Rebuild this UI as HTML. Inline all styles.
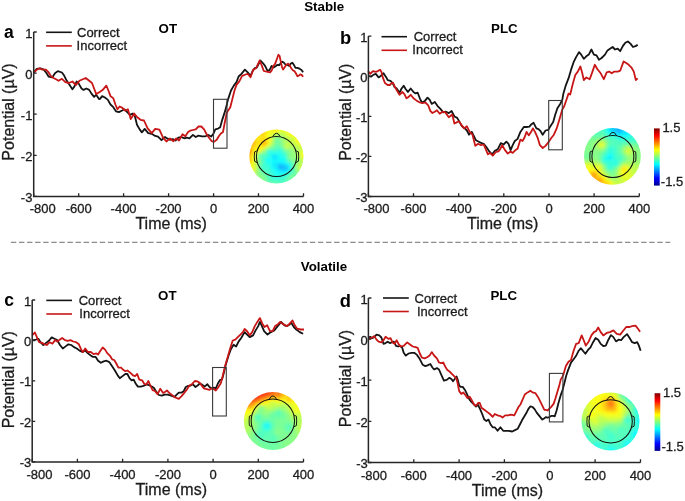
<!DOCTYPE html>
<html><head><meta charset="utf-8"><style>
html,body{margin:0;padding:0;background:#fff;width:685px;height:501px;overflow:hidden}
</style></head><body>
<svg width="685" height="501" viewBox="0 0 685 501" style="display:block;will-change:transform">
<style>.t{fill:#1c1c1c;stroke:#1c1c1c;stroke-width:0.3px}.tb{fill:#000}</style>
<rect width="685" height="501" fill="#fff"/>
<defs>
<filter id="tb" x="-10%" y="-10%" width="120%" height="120%"><feGaussianBlur stdDeviation="1.6"/></filter>
<linearGradient id="jet" x1="0" y1="1" x2="0" y2="0">
<stop offset="0" stop-color="#00008f"/><stop offset="0.125" stop-color="#0000ff"/><stop offset="0.375" stop-color="#00ffff"/>
<stop offset="0.625" stop-color="#ffff00"/><stop offset="0.875" stop-color="#ff0000"/><stop offset="1" stop-color="#800000"/>
</linearGradient>
</defs>
<g font-family='"Liberation Sans", sans-serif' font-weight="bold" font-size="13.3" fill="#000" text-anchor="middle">
<text x="324.2" y="11.4">Stable</text>
<text x="324.0" y="271.2">Volatile</text>
<text x="167.8" y="33.0">OT</text>
<text x="504.4" y="33.2">PLC</text>
<text x="167.3" y="299.8">OT</text>
<text x="503.7" y="299.8">PLC</text>
</g>
<g font-family='"Liberation Sans", sans-serif' font-weight="bold" font-size="17.5" fill="#000">
<text x="4.0" y="38.0" font-size="17.5">a</text>
<text x="339.9" y="44.3" font-size="18.3">b</text>
<text x="4.2" y="305.9" font-size="17.5">c</text>
<text x="339.8" y="306.6" font-size="18.3">d</text>
</g>
<line x1="10.9" y1="242.4" x2="670.2" y2="242.4" stroke="#8c8c8c" stroke-width="1.3" stroke-dasharray="5.4 2.68"/>
<polyline points="34.0,71.8 36.8,69.0 40.3,68.3 43.8,69.7 46.6,73.2 48.7,76.7 52.2,77.4 55.0,73.2 57.8,71.1 61.9,72.5 64.0,75.3 66.8,80.8 69.6,85.0 72.4,89.2 74.5,86.4 76.6,81.5 78.7,83.6 81.5,88.5 83.6,89.9 86.4,88.5 89.2,89.9 91.3,93.4 94.1,96.9 96.2,94.8 99.0,99.0 100.0,98.9 102.1,96.1 104.9,97.5 107.7,99.6 110.5,104.5 113.3,107.2 116.1,111.4 118.9,112.1 121.7,110.7 124.5,109.3 127.2,112.1 130.0,114.9 132.8,113.5 134.9,116.3 137.0,124.7 139.8,129.6 141.9,132.4 144.7,128.9 148.2,133.1 151.7,133.8 155.2,135.9 158.0,136.6 161.5,140.1 164.3,137.3 165.0,137.0 167.1,138.4 169.9,139.8 172.7,139.1 175.5,140.5 178.3,137.7 181.1,137.0 184.6,138.4 186.7,137.7 189.5,138.4 192.9,134.9 195.7,137.0 198.5,135.6 202.0,136.3 205.5,136.3 208.3,134.9 211.1,136.6 213.2,134.2 215.3,129.3 218.1,128.6 220.2,127.2 222.3,119.6 225.4,110.1 228.2,98.9 231.0,90.5 233.8,85.6 236.5,82.1 238.6,76.5 241.4,73.8 244.9,69.6 247.7,72.4 250.5,75.8 252.6,71.0 254.7,68.2 256.8,67.5 260.3,60.5 263.1,63.3 265.2,66.1 267.3,70.3 269.4,70.3 271.6,65.9 273.6,67.5 275.6,66.3 277.2,64.8 279.2,65.1 280.8,63.2 282.4,61.6 284.0,62.8 285.6,64.8 287.2,64.8 289.2,65.9 290.8,63.6 292.4,62.8 294.0,65.1 295.5,67.9 297.5,67.9 299.5,68.7 301.5,69.9 303.1,72.3" fill="none" stroke="#141414" stroke-width="1.8" stroke-linejoin="round"/>
<polyline points="34.0,72.5 36.8,69.7 39.6,68.3 42.4,69.7 45.9,69.7 48.7,72.5 50.8,76.0 53.6,78.0 56.4,79.5 58.5,80.8 61.9,78.8 65.4,82.2 68.9,83.0 72.4,81.5 75.9,85.0 79.4,80.8 82.2,79.5 85.7,78.0 89.2,80.8 92.0,83.0 94.1,88.5 96.2,94.1 99.7,92.0 102.8,89.8 106.3,85.6 108.4,90.5 110.5,96.1 113.3,98.2 115.4,104.5 117.5,109.3 119.6,106.5 122.4,107.9 125.1,110.7 127.9,109.3 130.7,119.1 134.2,113.5 137.0,117.0 140.5,119.8 144.0,120.5 147.5,128.2 151.7,133.1 155.2,128.9 159.4,129.6 162.9,137.3 166.4,141.5 169.9,138.4 173.4,141.2 176.2,138.4 179.0,140.5 182.5,134.2 185.3,136.3 188.1,132.1 190.2,130.7 192.9,130.0 195.7,129.3 198.5,126.5 201.3,126.5 204.1,129.3 206.2,133.5 209.0,137.7 211.8,141.2 213.9,141.9 216.7,139.8 218.8,136.3 220.9,133.5 223.0,132.1 224.4,124.5 226.5,114.0 227.5,111.5 230.3,107.3 232.4,98.9 234.5,90.5 236.5,84.9 239.3,81.4 242.1,75.8 245.6,74.5 247.7,73.8 250.5,77.2 253.3,69.6 256.1,68.2 259.6,60.5 261.7,65.4 263.8,71.0 266.6,71.7 270.1,72.4 271.6,70.7 273.2,66.3 275.2,63.6 276.8,59.2 278.4,54.8 279.6,56.0 280.8,61.6 282.0,67.1 283.2,69.5 284.8,67.1 286.4,64.8 288.0,63.6 289.6,65.1 291.2,68.3 292.8,70.3 294.4,71.1 296.0,73.5 297.5,76.3 299.1,75.5 300.3,74.3 301.9,75.1 303.1,76.7" fill="none" stroke="#c81616" stroke-width="1.8" stroke-linejoin="round"/>
<rect x="213.5" y="99.3" width="13.5" height="48.9" fill="none" stroke="#3a3a3a" stroke-width="1.1"/>
<path d="M33.7,32.0 V196.4 H303.5" fill="none" stroke="#262626" stroke-width="1.5"/>
<path d="M33.7,32.0h3 M33.7,73.1h3 M33.7,114.2h3 M33.7,155.3h3 M33.7,196.4h3 M33.7,196.4v-3.2 M78.7,196.4v-3.2 M123.6,196.4v-3.2 M168.6,196.4v-3.2 M213.6,196.4v-3.2 M258.5,196.4v-3.2 M303.5,196.4v-3.2" stroke="#262626" stroke-width="1.3"/>
<g font-family='"Liberation Sans", sans-serif' font-size="13" class="t" text-anchor="end">
<text x="32.4" y="37.5">1</text>
<text x="32.4" y="78.6">0</text>
<text x="32.4" y="119.7">-1</text>
<text x="32.4" y="160.8">-2</text>
<text x="32.4" y="201.9">-3</text>
</g>
<g font-family='"Liberation Sans", sans-serif' font-size="13" class="t" text-anchor="middle">
<text x="42.8" y="213.1">-800</text>
<text x="78.7" y="213.1">-600</text>
<text x="123.6" y="213.1">-400</text>
<text x="168.6" y="213.1">-200</text>
<text x="213.6" y="213.1">0</text>
<text x="258.5" y="213.1">200</text>
<text x="303.5" y="213.1">400</text>
</g>
<text x="171.1" y="229.0" font-family='"Liberation Sans", sans-serif' font-size="16" class="t" text-anchor="middle">Time (ms)</text>
<text transform="translate(14.2,112.0) rotate(-90)" font-family='"Liberation Sans", sans-serif' font-size="16" class="t" text-anchor="middle">Potential (µV)</text>
<line x1="46.1" y1="32.3" x2="71.8" y2="32.3" stroke="#141414" stroke-width="1.6"/>
<line x1="46.1" y1="45.9" x2="71.8" y2="45.9" stroke="#c81616" stroke-width="1.6"/>
<g font-family='"Liberation Sans", sans-serif' font-size="13" class="t">
<text x="77.0" y="37.0">Correct</text>
<text x="76.6" y="49.8">Incorrect</text>
</g>
<polyline points="368.1,76.0 370.9,76.7 373.7,74.6 375.8,73.9 378.6,77.4 380.7,76.0 383.5,73.2 386.3,77.4 387.7,80.2 390.5,80.8 392.5,82.9 394.6,87.1 396.7,88.5 399.5,92.7 401.6,88.5 403.7,85.7 405.8,89.2 407.9,92.0 410.7,88.5 413.5,92.0 415.6,93.4 417.7,92.7 419.8,98.3 421.9,102.5 424.7,101.1 427.5,97.6 429.6,99.7 431.7,103.9 434.8,101.9 437.6,106.1 440.4,108.9 443.2,112.4 446.0,111.7 448.8,113.1 451.6,111.0 454.4,116.5 457.2,117.9 459.2,121.4 462.0,126.3 464.8,128.4 466.9,130.5 469.0,134.7 471.8,131.9 473.9,136.1 476.0,140.3 478.8,141.7 481.6,143.1 483.7,143.8 486.5,147.3 489.3,151.5 492.1,154.3 494.9,150.8 497.7,149.4 500.8,143.1 503.6,144.5 506.4,141.7 508.5,143.8 510.6,150.1 512.7,145.2 514.8,141.0 517.6,138.9 520.4,131.9 523.8,127.0 526.6,127.0 529.4,126.6 531.5,124.2 533.6,122.8 536.4,128.4 538.5,129.1 540.6,131.2 542.7,134.7 545.5,130.5 548.3,129.8 550.4,126.3 553.2,122.1 555.3,114.5 557.4,108.2 560.2,104.0 562.3,99.8 563.4,93.6 565.9,85.1 568.5,78.4 571.0,69.9 573.6,62.2 576.1,57.1 579.0,52.1 581.2,54.6 583.8,58.8 586.3,56.3 588.8,54.6 591.4,49.5 593.9,54.6 596.5,55.4 599.0,59.7 601.6,58.0 605.0,54.6 607.5,50.4 610.0,48.7 612.6,47.0 615.1,49.5 617.7,48.7 620.2,51.2 622.8,46.1 625.3,42.7 627.9,41.5 630.4,43.6 633.0,47.0 635.5,46.1 637.7,44.9" fill="none" stroke="#141414" stroke-width="1.8" stroke-linejoin="round"/>
<polyline points="368.1,71.1 370.2,73.9 373.0,71.1 375.8,71.8 377.9,71.1 380.0,69.7 381.4,71.8 382.8,77.4 384.9,83.0 387.7,85.0 389.8,85.0 391.8,83.0 393.2,83.0 395.3,87.8 397.4,91.3 399.5,94.8 402.3,92.0 404.4,94.1 406.5,98.3 408.6,96.9 410.7,94.8 413.5,98.3 416.3,100.4 419.8,102.5 422.6,103.2 425.4,102.5 428.2,105.3 430.3,110.9 432.4,113.0 434.8,111.7 436.9,110.3 439.7,113.8 442.5,111.7 445.3,112.4 448.8,117.2 452.3,114.5 454.4,123.5 457.2,122.1 459.2,121.4 461.3,124.9 464.1,128.4 466.9,126.3 469.7,131.9 472.5,134.7 475.3,145.9 478.1,143.8 480.9,145.2 483.7,144.5 485.8,149.4 487.9,154.3 490.0,152.9 492.8,155.7 495.6,152.2 498.4,151.5 500.1,149.4 502.2,145.2 505.0,150.1 507.8,153.6 510.6,151.5 512.7,152.9 515.5,150.1 517.6,148.7 520.4,139.6 522.5,141.0 524.5,137.5 526.6,131.9 528.7,135.4 531.5,131.2 532.9,128.4 535.0,131.9 537.8,138.2 539.9,145.2 542.7,148.0 545.5,145.9 548.3,142.4 551.1,138.2 553.9,134.7 556.7,128.4 559.5,119.3 562.3,109.6 564.2,106.3 566.8,98.7 568.5,93.6 570.2,94.5 572.7,84.3 575.3,75.0 577.8,71.6 580.4,66.5 582.1,72.4 583.8,80.0 586.3,77.5 589.7,79.2 592.2,72.4 594.8,64.8 597.3,69.0 600.7,73.3 603.8,79.2 606.7,72.4 609.2,71.6 611.7,73.3 614.3,71.6 617.7,71.6 620.2,70.7 623.6,61.4 626.2,63.1 628.7,64.8 631.3,67.3 633.8,71.6 635.8,80.0 637.7,78.4" fill="none" stroke="#c81616" stroke-width="1.8" stroke-linejoin="round"/>
<rect x="548.7" y="100.5" width="13.6" height="49.3" fill="none" stroke="#3a3a3a" stroke-width="1.1"/>
<path d="M368.4,36.1 V196.5 H639.3" fill="none" stroke="#262626" stroke-width="1.5"/>
<path d="M368.4,36.1h3 M368.4,76.2h3 M368.4,116.3h3 M368.4,156.4h3 M368.4,196.5h3 M368.4,196.5v-3.2 M413.5,196.5v-3.2 M458.7,196.5v-3.2 M503.8,196.5v-3.2 M549.0,196.5v-3.2 M594.1,196.5v-3.2 M639.3,196.5v-3.2" stroke="#262626" stroke-width="1.3"/>
<g font-family='"Liberation Sans", sans-serif' font-size="13" class="t" text-anchor="end">
<text x="367.5" y="41.6">1</text>
<text x="367.5" y="81.7">0</text>
<text x="367.5" y="121.8">-1</text>
<text x="367.5" y="161.9">-2</text>
<text x="367.5" y="202.0">-3</text>
</g>
<g font-family='"Liberation Sans", sans-serif' font-size="13" class="t" text-anchor="middle">
<text x="376.5" y="213.4">-800</text>
<text x="413.5" y="213.4">-600</text>
<text x="458.7" y="213.4">-400</text>
<text x="503.8" y="213.4">-200</text>
<text x="549.0" y="213.4">0</text>
<text x="594.1" y="213.4">200</text>
<text x="639.3" y="213.4">400</text>
</g>
<text x="502.7" y="229.0" font-family='"Liberation Sans", sans-serif' font-size="16" class="t" text-anchor="middle">Time (ms)</text>
<text transform="translate(351.2,112.2) rotate(-90)" font-family='"Liberation Sans", sans-serif' font-size="16" class="t" text-anchor="middle">Potential (µV)</text>
<line x1="381.5" y1="36.7" x2="407.0" y2="36.7" stroke="#141414" stroke-width="1.6"/>
<line x1="381.5" y1="50.3" x2="407.0" y2="50.3" stroke="#c81616" stroke-width="1.6"/>
<g font-family='"Liberation Sans", sans-serif' font-size="13" class="t">
<text x="413.7" y="41.3">Correct</text>
<text x="412.3" y="53.8">Incorrect</text>
</g>
<polyline points="32.1,340.1 34.2,340.1 36.3,339.5 38.4,338.8 40.5,342.2 43.3,345.0 46.1,342.9 48.9,340.8 51.7,337.4 54.5,338.8 57.2,340.1 60.0,345.0 62.8,348.5 65.6,346.4 68.4,344.3 71.2,345.0 74.0,347.1 76.8,348.5 79.6,350.6 82.4,352.0 85.2,350.6 88.0,353.4 90.8,355.5 92.9,356.9 95.7,356.9 98.1,360.7 100.9,362.8 103.7,361.4 106.5,360.7 109.3,362.1 112.1,366.3 114.9,370.5 117.7,375.4 119.8,378.2 122.5,376.1 125.3,374.0 127.4,374.0 129.5,378.2 131.6,380.3 133.7,379.6 135.8,383.8 137.9,386.6 140.7,386.6 143.5,385.9 146.3,384.5 149.1,385.2 151.9,386.6 154.0,388.0 156.1,391.5 158.9,395.0 161.7,395.7 164.8,394.7 167.6,394.7 170.4,395.4 172.5,396.1 174.6,396.8 176.7,394.7 178.8,392.6 181.6,392.6 183.7,391.2 185.8,387.0 187.8,386.0 190.6,385.6 192.7,384.2 195.5,387.0 197.6,385.6 199.7,383.5 202.5,384.9 204.6,386.6 207.4,384.2 209.5,387.0 211.6,388.4 213.7,387.7 215.8,388.4 217.9,383.5 220.0,380.0 222.1,379.3 223.4,374.5 225.9,364.3 228.5,355.8 231.0,349.0 233.6,344.8 236.1,346.5 238.7,341.4 241.2,338.0 244.6,332.1 247.1,334.6 249.7,337.1 253.1,335.4 255.6,330.4 258.2,326.1 259.9,321.9 261.6,325.3 264.1,331.2 267.5,334.6 270.9,332.1 274.3,330.4 277.7,326.1 281.1,321.9 284.5,325.3 287.0,326.1 289.6,324.4 291.3,322.7 293.8,327.0 296.3,329.5 299.7,332.1 303.1,333.8" fill="none" stroke="#141414" stroke-width="1.8" stroke-linejoin="round"/>
<polyline points="32.1,335.3 34.9,332.5 37.0,337.4 39.1,342.2 41.9,342.9 44.7,344.3 46.8,345.0 49.6,342.2 52.4,343.6 55.2,340.1 57.2,341.5 59.3,340.1 62.1,338.1 64.9,340.1 67.7,340.8 70.5,340.1 73.3,341.5 76.1,342.2 78.9,344.3 81.0,349.2 83.1,352.0 85.2,348.5 88.0,352.0 90.8,352.0 93.6,354.1 96.4,353.4 98.1,354.5 100.2,351.0 102.7,347.5 105.1,349.6 107.2,353.1 110.0,355.8 112.1,359.3 114.2,360.0 116.3,363.5 118.4,367.7 121.1,367.7 123.2,369.8 125.3,371.2 127.4,370.5 130.2,372.6 133.0,375.4 135.1,376.1 137.2,374.0 139.3,379.6 142.1,380.3 144.2,383.8 146.3,384.5 148.4,381.0 150.5,385.9 152.6,390.1 154.7,390.8 157.5,394.3 160.3,388.7 163.1,392.9 164.1,392.6 166.9,390.5 169.7,393.3 172.5,395.4 175.3,397.5 178.8,398.9 181.6,396.1 184.4,392.6 187.2,389.1 189.2,385.6 192.0,384.2 194.8,381.0 197.6,381.4 199.7,382.8 201.8,385.6 203.9,388.4 206.7,389.1 209.5,389.8 211.6,388.4 213.7,389.1 215.8,390.5 217.9,387.7 220.7,383.5 222.5,377.0 225.1,366.0 227.6,357.5 230.2,348.2 232.7,340.5 235.3,339.7 237.8,337.1 240.4,334.6 242.9,332.1 244.6,329.0 247.1,331.2 249.7,335.4 252.2,332.1 254.8,326.1 257.3,321.9 259.9,318.1 262.4,323.6 264.5,327.0 267.2,325.3 270.0,331.2 272.6,331.2 275.1,326.1 277.7,324.4 280.2,321.9 283.6,324.4 287.0,326.1 289.6,323.6 292.6,320.5 294.7,325.3 297.2,328.7 300.6,329.5 304.0,329.5" fill="none" stroke="#c81616" stroke-width="1.8" stroke-linejoin="round"/>
<rect x="212.6" y="367.5" width="13.7" height="48.5" fill="none" stroke="#3a3a3a" stroke-width="1.1"/>
<path d="M32.2,300.0 V461.9 H303.5" fill="none" stroke="#262626" stroke-width="1.5"/>
<path d="M32.2,300.0h3 M32.2,340.5h3 M32.2,380.9h3 M32.2,421.4h3 M32.2,461.9h3 M32.2,461.9v-3.2 M77.4,461.9v-3.2 M122.6,461.9v-3.2 M167.9,461.9v-3.2 M213.1,461.9v-3.2 M258.3,461.9v-3.2 M303.5,461.9v-3.2" stroke="#262626" stroke-width="1.3"/>
<g font-family='"Liberation Sans", sans-serif' font-size="13" class="t" text-anchor="end">
<text x="31.3" y="305.5">1</text>
<text x="31.3" y="346.0">0</text>
<text x="31.3" y="386.4">-1</text>
<text x="31.3" y="426.9">-2</text>
<text x="31.3" y="467.4">-3</text>
</g>
<g font-family='"Liberation Sans", sans-serif' font-size="13" class="t" text-anchor="middle">
<text x="39.5" y="478.8">-800</text>
<text x="77.4" y="478.8">-600</text>
<text x="122.6" y="478.8">-400</text>
<text x="167.9" y="478.8">-200</text>
<text x="213.1" y="478.8">0</text>
<text x="258.3" y="478.8">200</text>
<text x="303.5" y="478.8">400</text>
</g>
<text x="171.3" y="494.6" font-family='"Liberation Sans", sans-serif' font-size="16" class="t" text-anchor="middle">Time (ms)</text>
<text transform="translate(14.0,379.7) rotate(-90)" font-family='"Liberation Sans", sans-serif' font-size="16" class="t" text-anchor="middle">Potential (µV)</text>
<line x1="46.3" y1="300.4" x2="72.0" y2="300.4" stroke="#141414" stroke-width="1.6"/>
<line x1="46.3" y1="314.0" x2="72.0" y2="314.0" stroke="#c81616" stroke-width="1.6"/>
<g font-family='"Liberation Sans", sans-serif' font-size="13" class="t">
<text x="78.7" y="305.0">Correct</text>
<text x="79.3" y="318.0">Incorrect</text>
</g>
<polyline points="368.1,337.5 370.2,336.8 372.3,338.2 374.4,336.8 376.5,334.7 379.3,335.4 381.4,337.5 383.5,343.8 385.6,343.1 387.7,341.7 389.8,343.1 391.8,342.4 393.9,341.7 396.0,345.8 398.1,346.5 400.2,345.8 402.3,347.9 403.7,352.8 405.8,355.6 408.6,353.5 411.4,352.8 414.2,352.8 417.0,354.9 419.8,359.1 422.6,364.7 425.4,366.1 427.5,365.4 430.3,364.0 432.4,367.5 434.1,369.5 436.9,368.1 439.0,369.5 441.1,374.3 443.9,380.6 446.7,379.9 449.5,377.8 451.6,379.2 453.0,381.3 455.1,378.5 456.5,376.4 457.8,379.9 459.2,385.5 460.6,386.9 462.7,386.9 464.8,389.7 466.9,393.9 469.0,398.8 471.1,401.6 473.9,404.4 476.0,406.5 478.0,404.9 480.1,409.1 482.2,414.0 484.3,419.6 486.4,421.0 488.5,419.6 490.6,424.5 492.7,427.3 494.8,427.3 497.6,430.8 500.4,427.3 503.2,430.8 505.9,430.8 508.7,430.8 512.2,431.5 515.0,430.1 517.8,428.7 519.9,424.5 522.0,420.3 524.1,416.8 526.2,413.3 528.3,409.1 530.4,406.3 532.5,407.0 534.6,409.1 536.7,412.6 539.5,416.1 542.3,419.6 544.4,418.2 545.8,417.1 547.6,417.7 549.4,417.1 551.2,415.9 553.0,415.9 554.8,416.3 556.6,410.5 558.4,403.3 560.8,394.9 562.6,390.1 564.4,383.0 566.2,375.8 568.0,370.4 571.0,362.6 573.6,359.2 576.1,355.8 578.7,350.7 580.7,348.2 582.9,350.7 585.4,353.8 588.0,349.9 590.5,347.3 593.1,342.2 595.6,338.0 598.2,339.7 600.7,343.9 603.3,346.0 605.8,345.6 608.4,339.7 610.9,335.1 613.4,337.1 616.0,341.4 618.5,339.7 621.1,340.2 623.6,337.1 627.0,334.1 629.6,338.0 632.1,342.2 634.7,343.1 637.2,342.2 638.9,345.6 640.6,350.7" fill="none" stroke="#141414" stroke-width="1.8" stroke-linejoin="round"/>
<polyline points="368.1,339.6 370.2,338.2 372.3,337.5 374.4,336.1 376.5,339.6 378.6,341.7 381.4,342.4 383.5,340.3 385.6,336.8 388.4,338.9 390.5,338.2 392.5,342.4 394.6,343.8 396.7,340.3 398.8,344.5 400.9,346.5 403.7,345.8 407.2,342.4 410.0,344.5 412.8,346.5 415.6,347.2 417.7,347.9 419.8,353.5 421.9,357.7 424.7,358.4 427.5,357.0 429.6,355.6 431.7,352.1 434.1,355.5 436.9,358.3 439.0,362.5 441.1,363.2 443.2,362.5 445.3,366.7 447.4,370.1 449.5,371.5 451.6,373.6 454.4,376.4 456.5,378.5 457.8,384.1 459.2,391.1 461.3,393.9 463.4,392.5 465.5,395.3 467.6,398.1 469.7,396.7 471.8,400.2 473.9,404.4 476.0,405.8 478.1,403.0 479.7,402.8 481.5,407.7 484.3,409.8 487.1,411.9 489.9,414.0 492.7,416.8 494.8,414.0 497.6,415.4 500.4,416.1 502.5,417.5 505.2,415.4 508.0,415.4 510.8,414.7 514.3,415.4 516.4,411.2 518.5,407.0 520.6,404.2 522.7,399.3 524.8,394.5 527.6,392.4 530.4,390.7 532.5,392.4 535.3,393.1 538.1,397.2 540.2,401.4 542.3,405.6 544.4,409.8 545.8,409.9 547.6,410.5 549.4,408.7 551.2,406.9 553.6,403.9 555.4,398.5 557.2,392.5 559.0,386.6 560.8,379.4 562.6,376.4 563.4,374.5 565.9,366.0 568.5,361.7 571.0,360.0 573.6,350.7 576.1,343.9 578.7,343.1 581.7,335.4 583.8,340.5 585.8,345.6 588.8,341.4 591.4,335.4 593.9,332.1 596.0,331.2 598.2,327.5 600.7,332.1 603.3,335.4 606.7,332.9 610.0,332.1 613.4,330.4 616.8,333.8 620.2,334.6 622.8,331.2 626.2,327.0 629.6,327.0 632.1,326.1 635.5,325.6 638.0,328.7 640.1,331.7" fill="none" stroke="#c81616" stroke-width="1.8" stroke-linejoin="round"/>
<rect x="549.4" y="373.4" width="13.5" height="48.5" fill="none" stroke="#3a3a3a" stroke-width="1.1"/>
<path d="M368.4,298.0 V462.5 H640.5" fill="none" stroke="#262626" stroke-width="1.5"/>
<path d="M368.4,298.0h3 M368.4,339.1h3 M368.4,380.2h3 M368.4,421.4h3 M368.4,462.5h3 M368.4,462.5v-3.2 M413.8,462.5v-3.2 M459.1,462.5v-3.2 M504.4,462.5v-3.2 M549.8,462.5v-3.2 M595.1,462.5v-3.2 M640.5,462.5v-3.2" stroke="#262626" stroke-width="1.3"/>
<g font-family='"Liberation Sans", sans-serif' font-size="13" class="t" text-anchor="end">
<text x="367.8" y="303.5">1</text>
<text x="367.8" y="344.6">0</text>
<text x="367.8" y="385.8">-1</text>
<text x="367.8" y="426.9">-2</text>
<text x="367.8" y="468.0">-3</text>
</g>
<g font-family='"Liberation Sans", sans-serif' font-size="13" class="t" text-anchor="middle">
<text x="374.0" y="479.8">-800</text>
<text x="413.8" y="479.8">-600</text>
<text x="459.1" y="479.8">-400</text>
<text x="504.4" y="479.8">-200</text>
<text x="549.8" y="479.8">0</text>
<text x="595.1" y="479.8">200</text>
<text x="640.5" y="479.8">400</text>
</g>
<text x="507.4" y="496.1" font-family='"Liberation Sans", sans-serif' font-size="16" class="t" text-anchor="middle">Time (ms)</text>
<text transform="translate(351.2,378.5) rotate(-90)" font-family='"Liberation Sans", sans-serif' font-size="16" class="t" text-anchor="middle">Potential (µV)</text>
<line x1="383.0" y1="298.0" x2="408.8" y2="298.0" stroke="#141414" stroke-width="1.6"/>
<line x1="383.0" y1="311.5" x2="408.8" y2="311.5" stroke="#c81616" stroke-width="1.6"/>
<g font-family='"Liberation Sans", sans-serif' font-size="13" class="t">
<text x="414.5" y="302.7">Correct</text>
<text x="417.0" y="315.8">Incorrect</text>
</g>
<clipPath id="clipa"><circle cx="276.4" cy="156.5" r="27.1"/></clipPath>
<g clip-path="url(#clipa)"><g filter="url(#tb)">
<rect x="245.1" y="147.8" width="2.65" height="2.65" fill="#ffaf00"/>
<rect x="245.1" y="150.2" width="2.65" height="2.65" fill="#ff9600"/>
<rect x="245.1" y="152.8" width="2.65" height="2.65" fill="#ffa700"/>
<rect x="245.1" y="155.2" width="2.65" height="2.65" fill="#ffcc00"/>
<rect x="245.1" y="157.8" width="2.65" height="2.65" fill="#ffd700"/>
<rect x="245.1" y="160.2" width="2.65" height="2.65" fill="#ffe200"/>
<rect x="245.1" y="162.8" width="2.65" height="2.65" fill="#fffd00"/>
<rect x="247.6" y="142.8" width="2.65" height="2.65" fill="#ffb700"/>
<rect x="247.6" y="145.2" width="2.65" height="2.65" fill="#ffbf00"/>
<rect x="247.6" y="147.8" width="2.65" height="2.65" fill="#ffa200"/>
<rect x="247.6" y="150.2" width="2.65" height="2.65" fill="#ff7400"/>
<rect x="247.6" y="152.8" width="2.65" height="2.65" fill="#ff9000"/>
<rect x="247.6" y="155.2" width="2.65" height="2.65" fill="#ffc600"/>
<rect x="247.6" y="157.8" width="2.65" height="2.65" fill="#ffbf00"/>
<rect x="247.6" y="160.2" width="2.65" height="2.65" fill="#ffc800"/>
<rect x="247.6" y="162.8" width="2.65" height="2.65" fill="#fff600"/>
<rect x="247.6" y="165.2" width="2.65" height="2.65" fill="#ecff13"/>
<rect x="247.6" y="167.8" width="2.65" height="2.65" fill="#e0ff1f"/>
<rect x="250.1" y="137.8" width="2.65" height="2.65" fill="#ffc600"/>
<rect x="250.1" y="140.2" width="2.65" height="2.65" fill="#ffa300"/>
<rect x="250.1" y="142.8" width="2.65" height="2.65" fill="#ff9f00"/>
<rect x="250.1" y="145.2" width="2.65" height="2.65" fill="#ffbf00"/>
<rect x="250.1" y="147.8" width="2.65" height="2.65" fill="#ffbc00"/>
<rect x="250.1" y="150.2" width="2.65" height="2.65" fill="#ffa100"/>
<rect x="250.1" y="152.8" width="2.65" height="2.65" fill="#ffb700"/>
<rect x="250.1" y="155.2" width="2.65" height="2.65" fill="#ffd900"/>
<rect x="250.1" y="157.8" width="2.65" height="2.65" fill="#ffc800"/>
<rect x="250.1" y="160.2" width="2.65" height="2.65" fill="#ffd200"/>
<rect x="250.1" y="162.8" width="2.65" height="2.65" fill="#fcff03"/>
<rect x="250.1" y="165.2" width="2.65" height="2.65" fill="#f0ff0f"/>
<rect x="250.1" y="167.8" width="2.65" height="2.65" fill="#efff10"/>
<rect x="250.1" y="170.2" width="2.65" height="2.65" fill="#d6ff29"/>
<rect x="250.1" y="172.8" width="2.65" height="2.65" fill="#b9ff46"/>
<rect x="252.6" y="135.2" width="2.65" height="2.65" fill="#ffe400"/>
<rect x="252.6" y="137.8" width="2.65" height="2.65" fill="#ffd000"/>
<rect x="252.6" y="140.2" width="2.65" height="2.65" fill="#ffb300"/>
<rect x="252.6" y="142.8" width="2.65" height="2.65" fill="#ffb100"/>
<rect x="252.6" y="145.2" width="2.65" height="2.65" fill="#ffd200"/>
<rect x="252.6" y="147.8" width="2.65" height="2.65" fill="#ffe300"/>
<rect x="252.6" y="150.2" width="2.65" height="2.65" fill="#ffe900"/>
<rect x="252.6" y="152.8" width="2.65" height="2.65" fill="#fff900"/>
<rect x="252.6" y="155.2" width="2.65" height="2.65" fill="#f6ff09"/>
<rect x="252.6" y="157.8" width="2.65" height="2.65" fill="#f9ff06"/>
<rect x="252.6" y="160.2" width="2.65" height="2.65" fill="#f1ff0e"/>
<rect x="252.6" y="162.8" width="2.65" height="2.65" fill="#e0ff1f"/>
<rect x="252.6" y="165.2" width="2.65" height="2.65" fill="#ecff13"/>
<rect x="252.6" y="167.8" width="2.65" height="2.65" fill="#efff10"/>
<rect x="252.6" y="170.2" width="2.65" height="2.65" fill="#cfff30"/>
<rect x="252.6" y="172.8" width="2.65" height="2.65" fill="#adff52"/>
<rect x="252.6" y="175.2" width="2.65" height="2.65" fill="#99ff66"/>
<rect x="255.1" y="132.8" width="2.65" height="2.65" fill="#ffe600"/>
<rect x="255.1" y="135.2" width="2.65" height="2.65" fill="#ffe700"/>
<rect x="255.1" y="137.8" width="2.65" height="2.65" fill="#ffe200"/>
<rect x="255.1" y="140.2" width="2.65" height="2.65" fill="#ffd900"/>
<rect x="255.1" y="142.8" width="2.65" height="2.65" fill="#ffdd00"/>
<rect x="255.1" y="145.2" width="2.65" height="2.65" fill="#ffe900"/>
<rect x="255.1" y="147.8" width="2.65" height="2.65" fill="#fff000"/>
<rect x="255.1" y="150.2" width="2.65" height="2.65" fill="#f6ff09"/>
<rect x="255.1" y="152.8" width="2.65" height="2.65" fill="#d0ff2f"/>
<rect x="255.1" y="155.2" width="2.65" height="2.65" fill="#b9ff46"/>
<rect x="255.1" y="157.8" width="2.65" height="2.65" fill="#b5ff4a"/>
<rect x="255.1" y="160.2" width="2.65" height="2.65" fill="#b4ff4b"/>
<rect x="255.1" y="162.8" width="2.65" height="2.65" fill="#b4ff4b"/>
<rect x="255.1" y="165.2" width="2.65" height="2.65" fill="#bfff40"/>
<rect x="255.1" y="167.8" width="2.65" height="2.65" fill="#c1ff3e"/>
<rect x="255.1" y="170.2" width="2.65" height="2.65" fill="#acff53"/>
<rect x="255.1" y="172.8" width="2.65" height="2.65" fill="#97ff68"/>
<rect x="255.1" y="175.2" width="2.65" height="2.65" fill="#8cff73"/>
<rect x="255.1" y="177.8" width="2.65" height="2.65" fill="#87ff78"/>
<rect x="257.6" y="130.2" width="2.65" height="2.65" fill="#ffce00"/>
<rect x="257.6" y="132.8" width="2.65" height="2.65" fill="#ffd600"/>
<rect x="257.6" y="135.2" width="2.65" height="2.65" fill="#ffe500"/>
<rect x="257.6" y="137.8" width="2.65" height="2.65" fill="#ffe800"/>
<rect x="257.6" y="140.2" width="2.65" height="2.65" fill="#ffe500"/>
<rect x="257.6" y="142.8" width="2.65" height="2.65" fill="#ffe800"/>
<rect x="257.6" y="145.2" width="2.65" height="2.65" fill="#ffec00"/>
<rect x="257.6" y="147.8" width="2.65" height="2.65" fill="#ffe100"/>
<rect x="257.6" y="150.2" width="2.65" height="2.65" fill="#eeff11"/>
<rect x="257.6" y="152.8" width="2.65" height="2.65" fill="#9aff65"/>
<rect x="257.6" y="155.2" width="2.65" height="2.65" fill="#73ff8c"/>
<rect x="257.6" y="157.8" width="2.65" height="2.65" fill="#7aff85"/>
<rect x="257.6" y="160.2" width="2.65" height="2.65" fill="#81ff7e"/>
<rect x="257.6" y="162.8" width="2.65" height="2.65" fill="#7fff80"/>
<rect x="257.6" y="165.2" width="2.65" height="2.65" fill="#7dff82"/>
<rect x="257.6" y="167.8" width="2.65" height="2.65" fill="#80ff7f"/>
<rect x="257.6" y="170.2" width="2.65" height="2.65" fill="#82ff7d"/>
<rect x="257.6" y="172.8" width="2.65" height="2.65" fill="#82ff7d"/>
<rect x="257.6" y="175.2" width="2.65" height="2.65" fill="#84ff7b"/>
<rect x="257.6" y="177.8" width="2.65" height="2.65" fill="#87ff78"/>
<rect x="257.6" y="180.2" width="2.65" height="2.65" fill="#84ff7b"/>
<rect x="260.1" y="130.2" width="2.65" height="2.65" fill="#ffb800"/>
<rect x="260.1" y="132.8" width="2.65" height="2.65" fill="#ffc500"/>
<rect x="260.1" y="135.2" width="2.65" height="2.65" fill="#ffe100"/>
<rect x="260.1" y="137.8" width="2.65" height="2.65" fill="#ffe300"/>
<rect x="260.1" y="140.2" width="2.65" height="2.65" fill="#ffd600"/>
<rect x="260.1" y="142.8" width="2.65" height="2.65" fill="#ffd000"/>
<rect x="260.1" y="145.2" width="2.65" height="2.65" fill="#ffec00"/>
<rect x="260.1" y="147.8" width="2.65" height="2.65" fill="#fcff03"/>
<rect x="260.1" y="150.2" width="2.65" height="2.65" fill="#c1ff3e"/>
<rect x="260.1" y="152.8" width="2.65" height="2.65" fill="#5fffa0"/>
<rect x="260.1" y="155.2" width="2.65" height="2.65" fill="#39ffc6"/>
<rect x="260.1" y="157.8" width="2.65" height="2.65" fill="#52ffad"/>
<rect x="260.1" y="160.2" width="2.65" height="2.65" fill="#5affa5"/>
<rect x="260.1" y="162.8" width="2.65" height="2.65" fill="#51ffae"/>
<rect x="260.1" y="165.2" width="2.65" height="2.65" fill="#42ffbd"/>
<rect x="260.1" y="167.8" width="2.65" height="2.65" fill="#4bffb4"/>
<rect x="260.1" y="170.2" width="2.65" height="2.65" fill="#60ff9f"/>
<rect x="260.1" y="172.8" width="2.65" height="2.65" fill="#71ff8e"/>
<rect x="260.1" y="175.2" width="2.65" height="2.65" fill="#81ff7e"/>
<rect x="260.1" y="177.8" width="2.65" height="2.65" fill="#89ff76"/>
<rect x="260.1" y="180.2" width="2.65" height="2.65" fill="#83ff7c"/>
<rect x="262.6" y="127.8" width="2.65" height="2.65" fill="#ffd700"/>
<rect x="262.6" y="130.2" width="2.65" height="2.65" fill="#ffc400"/>
<rect x="262.6" y="132.8" width="2.65" height="2.65" fill="#ffd200"/>
<rect x="262.6" y="135.2" width="2.65" height="2.65" fill="#ffe700"/>
<rect x="262.6" y="137.8" width="2.65" height="2.65" fill="#ffdb00"/>
<rect x="262.6" y="140.2" width="2.65" height="2.65" fill="#ffbf00"/>
<rect x="262.6" y="142.8" width="2.65" height="2.65" fill="#ffa900"/>
<rect x="262.6" y="145.2" width="2.65" height="2.65" fill="#ffe100"/>
<rect x="262.6" y="147.8" width="2.65" height="2.65" fill="#d3ff2c"/>
<rect x="262.6" y="150.2" width="2.65" height="2.65" fill="#94ff6b"/>
<rect x="262.6" y="152.8" width="2.65" height="2.65" fill="#5affa5"/>
<rect x="262.6" y="155.2" width="2.65" height="2.65" fill="#40ffbf"/>
<rect x="262.6" y="157.8" width="2.65" height="2.65" fill="#3cffc3"/>
<rect x="262.6" y="160.2" width="2.65" height="2.65" fill="#3affc5"/>
<rect x="262.6" y="162.8" width="2.65" height="2.65" fill="#37ffc8"/>
<rect x="262.6" y="165.2" width="2.65" height="2.65" fill="#27ffd8"/>
<rect x="262.6" y="167.8" width="2.65" height="2.65" fill="#32ffcd"/>
<rect x="262.6" y="170.2" width="2.65" height="2.65" fill="#4bffb4"/>
<rect x="262.6" y="172.8" width="2.65" height="2.65" fill="#60ff9f"/>
<rect x="262.6" y="175.2" width="2.65" height="2.65" fill="#73ff8c"/>
<rect x="262.6" y="177.8" width="2.65" height="2.65" fill="#7cff83"/>
<rect x="262.6" y="180.2" width="2.65" height="2.65" fill="#79ff86"/>
<rect x="262.6" y="182.8" width="2.65" height="2.65" fill="#71ff8e"/>
<rect x="265.1" y="127.8" width="2.65" height="2.65" fill="#ffef00"/>
<rect x="265.1" y="130.2" width="2.65" height="2.65" fill="#ffea00"/>
<rect x="265.1" y="132.8" width="2.65" height="2.65" fill="#fff200"/>
<rect x="265.1" y="135.2" width="2.65" height="2.65" fill="#fff600"/>
<rect x="265.1" y="137.8" width="2.65" height="2.65" fill="#ffe400"/>
<rect x="265.1" y="140.2" width="2.65" height="2.65" fill="#ffb500"/>
<rect x="265.1" y="142.8" width="2.65" height="2.65" fill="#ffca00"/>
<rect x="265.1" y="145.2" width="2.65" height="2.65" fill="#f9ff06"/>
<rect x="265.1" y="147.8" width="2.65" height="2.65" fill="#a3ff5c"/>
<rect x="265.1" y="150.2" width="2.65" height="2.65" fill="#62ff9d"/>
<rect x="265.1" y="152.8" width="2.65" height="2.65" fill="#49ffb6"/>
<rect x="265.1" y="155.2" width="2.65" height="2.65" fill="#34ffcb"/>
<rect x="265.1" y="157.8" width="2.65" height="2.65" fill="#10ffef"/>
<rect x="265.1" y="160.2" width="2.65" height="2.65" fill="#11ffee"/>
<rect x="265.1" y="162.8" width="2.65" height="2.65" fill="#29ffd6"/>
<rect x="265.1" y="165.2" width="2.65" height="2.65" fill="#2dffd2"/>
<rect x="265.1" y="167.8" width="2.65" height="2.65" fill="#33ffcc"/>
<rect x="265.1" y="170.2" width="2.65" height="2.65" fill="#40ffbf"/>
<rect x="265.1" y="172.8" width="2.65" height="2.65" fill="#4effb1"/>
<rect x="265.1" y="175.2" width="2.65" height="2.65" fill="#5bffa4"/>
<rect x="265.1" y="177.8" width="2.65" height="2.65" fill="#64ff9b"/>
<rect x="265.1" y="180.2" width="2.65" height="2.65" fill="#66ff99"/>
<rect x="265.1" y="182.8" width="2.65" height="2.65" fill="#64ff9b"/>
<rect x="267.6" y="125.2" width="2.65" height="2.65" fill="#feff01"/>
<rect x="267.6" y="127.8" width="2.65" height="2.65" fill="#ffff00"/>
<rect x="267.6" y="130.2" width="2.65" height="2.65" fill="#faff05"/>
<rect x="267.6" y="132.8" width="2.65" height="2.65" fill="#f3ff0c"/>
<rect x="267.6" y="135.2" width="2.65" height="2.65" fill="#f3ff0c"/>
<rect x="267.6" y="137.8" width="2.65" height="2.65" fill="#fcff03"/>
<rect x="267.6" y="140.2" width="2.65" height="2.65" fill="#feff01"/>
<rect x="267.6" y="142.8" width="2.65" height="2.65" fill="#f9ff06"/>
<rect x="267.6" y="145.2" width="2.65" height="2.65" fill="#c1ff3e"/>
<rect x="267.6" y="147.8" width="2.65" height="2.65" fill="#66ff99"/>
<rect x="267.6" y="150.2" width="2.65" height="2.65" fill="#16ffe9"/>
<rect x="267.6" y="152.8" width="2.65" height="2.65" fill="#21ffde"/>
<rect x="267.6" y="155.2" width="2.65" height="2.65" fill="#21ffde"/>
<rect x="267.6" y="157.8" width="2.65" height="2.65" fill="#01fffe"/>
<rect x="267.6" y="160.2" width="2.65" height="2.65" fill="#04fffb"/>
<rect x="267.6" y="162.8" width="2.65" height="2.65" fill="#1bffe4"/>
<rect x="267.6" y="165.2" width="2.65" height="2.65" fill="#24ffdb"/>
<rect x="267.6" y="167.8" width="2.65" height="2.65" fill="#2bffd4"/>
<rect x="267.6" y="170.2" width="2.65" height="2.65" fill="#33ffcc"/>
<rect x="267.6" y="172.8" width="2.65" height="2.65" fill="#3cffc3"/>
<rect x="267.6" y="175.2" width="2.65" height="2.65" fill="#44ffbb"/>
<rect x="267.6" y="177.8" width="2.65" height="2.65" fill="#4effb1"/>
<rect x="267.6" y="180.2" width="2.65" height="2.65" fill="#54ffab"/>
<rect x="267.6" y="182.8" width="2.65" height="2.65" fill="#58ffa7"/>
<rect x="267.6" y="185.2" width="2.65" height="2.65" fill="#5affa5"/>
<rect x="270.1" y="125.2" width="2.65" height="2.65" fill="#fff500"/>
<rect x="270.1" y="127.8" width="2.65" height="2.65" fill="#fffa00"/>
<rect x="270.1" y="130.2" width="2.65" height="2.65" fill="#f3ff0c"/>
<rect x="270.1" y="132.8" width="2.65" height="2.65" fill="#e0ff1f"/>
<rect x="270.1" y="135.2" width="2.65" height="2.65" fill="#d7ff28"/>
<rect x="270.1" y="137.8" width="2.65" height="2.65" fill="#dbff24"/>
<rect x="270.1" y="140.2" width="2.65" height="2.65" fill="#ddff22"/>
<rect x="270.1" y="142.8" width="2.65" height="2.65" fill="#c1ff3e"/>
<rect x="270.1" y="145.2" width="2.65" height="2.65" fill="#92ff6d"/>
<rect x="270.1" y="147.8" width="2.65" height="2.65" fill="#52ffad"/>
<rect x="270.1" y="150.2" width="2.65" height="2.65" fill="#16ffe9"/>
<rect x="270.1" y="152.8" width="2.65" height="2.65" fill="#17ffe8"/>
<rect x="270.1" y="155.2" width="2.65" height="2.65" fill="#0dfff2"/>
<rect x="270.1" y="157.8" width="2.65" height="2.65" fill="#08fff7"/>
<rect x="270.1" y="160.2" width="2.65" height="2.65" fill="#0afff5"/>
<rect x="270.1" y="162.8" width="2.65" height="2.65" fill="#08fff7"/>
<rect x="270.1" y="165.2" width="2.65" height="2.65" fill="#0cfff3"/>
<rect x="270.1" y="167.8" width="2.65" height="2.65" fill="#18ffe7"/>
<rect x="270.1" y="170.2" width="2.65" height="2.65" fill="#23ffdc"/>
<rect x="270.1" y="172.8" width="2.65" height="2.65" fill="#28ffd7"/>
<rect x="270.1" y="175.2" width="2.65" height="2.65" fill="#2fffd0"/>
<rect x="270.1" y="177.8" width="2.65" height="2.65" fill="#3cffc3"/>
<rect x="270.1" y="180.2" width="2.65" height="2.65" fill="#49ffb6"/>
<rect x="270.1" y="182.8" width="2.65" height="2.65" fill="#51ffae"/>
<rect x="270.1" y="185.2" width="2.65" height="2.65" fill="#55ffaa"/>
<rect x="272.6" y="125.2" width="2.65" height="2.65" fill="#ffdc00"/>
<rect x="272.6" y="127.8" width="2.65" height="2.65" fill="#ffde00"/>
<rect x="272.6" y="130.2" width="2.65" height="2.65" fill="#fbff04"/>
<rect x="272.6" y="132.8" width="2.65" height="2.65" fill="#d1ff2e"/>
<rect x="272.6" y="135.2" width="2.65" height="2.65" fill="#b1ff4e"/>
<rect x="272.6" y="137.8" width="2.65" height="2.65" fill="#99ff66"/>
<rect x="272.6" y="140.2" width="2.65" height="2.65" fill="#95ff6a"/>
<rect x="272.6" y="142.8" width="2.65" height="2.65" fill="#86ff79"/>
<rect x="272.6" y="145.2" width="2.65" height="2.65" fill="#6cff93"/>
<rect x="272.6" y="147.8" width="2.65" height="2.65" fill="#53ffac"/>
<rect x="272.6" y="150.2" width="2.65" height="2.65" fill="#31ffce"/>
<rect x="272.6" y="152.8" width="2.65" height="2.65" fill="#0cfff3"/>
<rect x="272.6" y="155.2" width="2.65" height="2.65" fill="#00d7ff"/>
<rect x="272.6" y="157.8" width="2.65" height="2.65" fill="#00eaff"/>
<rect x="272.6" y="160.2" width="2.65" height="2.65" fill="#00fcff"/>
<rect x="272.6" y="162.8" width="2.65" height="2.65" fill="#00e9ff"/>
<rect x="272.6" y="165.2" width="2.65" height="2.65" fill="#00ecff"/>
<rect x="272.6" y="167.8" width="2.65" height="2.65" fill="#04fffb"/>
<rect x="272.6" y="170.2" width="2.65" height="2.65" fill="#14ffeb"/>
<rect x="272.6" y="172.8" width="2.65" height="2.65" fill="#17ffe8"/>
<rect x="272.6" y="175.2" width="2.65" height="2.65" fill="#1cffe3"/>
<rect x="272.6" y="177.8" width="2.65" height="2.65" fill="#30ffcf"/>
<rect x="272.6" y="180.2" width="2.65" height="2.65" fill="#47ffb8"/>
<rect x="272.6" y="182.8" width="2.65" height="2.65" fill="#53ffac"/>
<rect x="272.6" y="185.2" width="2.65" height="2.65" fill="#55ffaa"/>
<rect x="275.1" y="125.2" width="2.65" height="2.65" fill="#ffd100"/>
<rect x="275.1" y="127.8" width="2.65" height="2.65" fill="#ffcf00"/>
<rect x="275.1" y="130.2" width="2.65" height="2.65" fill="#fffe00"/>
<rect x="275.1" y="132.8" width="2.65" height="2.65" fill="#c5ff3a"/>
<rect x="275.1" y="135.2" width="2.65" height="2.65" fill="#92ff6d"/>
<rect x="275.1" y="137.8" width="2.65" height="2.65" fill="#65ff9a"/>
<rect x="275.1" y="140.2" width="2.65" height="2.65" fill="#67ff98"/>
<rect x="275.1" y="142.8" width="2.65" height="2.65" fill="#62ff9d"/>
<rect x="275.1" y="145.2" width="2.65" height="2.65" fill="#51ffae"/>
<rect x="275.1" y="147.8" width="2.65" height="2.65" fill="#4bffb4"/>
<rect x="275.1" y="150.2" width="2.65" height="2.65" fill="#2dffd2"/>
<rect x="275.1" y="152.8" width="2.65" height="2.65" fill="#0cfff3"/>
<rect x="275.1" y="155.2" width="2.65" height="2.65" fill="#00dcff"/>
<rect x="275.1" y="157.8" width="2.65" height="2.65" fill="#00ebff"/>
<rect x="275.1" y="160.2" width="2.65" height="2.65" fill="#00f8ff"/>
<rect x="275.1" y="162.8" width="2.65" height="2.65" fill="#00e7ff"/>
<rect x="275.1" y="165.2" width="2.65" height="2.65" fill="#00e5ff"/>
<rect x="275.1" y="167.8" width="2.65" height="2.65" fill="#00f2ff"/>
<rect x="275.1" y="170.2" width="2.65" height="2.65" fill="#09fff6"/>
<rect x="275.1" y="172.8" width="2.65" height="2.65" fill="#11ffee"/>
<rect x="275.1" y="175.2" width="2.65" height="2.65" fill="#14ffeb"/>
<rect x="275.1" y="177.8" width="2.65" height="2.65" fill="#2bffd4"/>
<rect x="275.1" y="180.2" width="2.65" height="2.65" fill="#47ffb8"/>
<rect x="275.1" y="182.8" width="2.65" height="2.65" fill="#55ffaa"/>
<rect x="275.1" y="185.2" width="2.65" height="2.65" fill="#55ffaa"/>
<rect x="277.6" y="125.2" width="2.65" height="2.65" fill="#ffe700"/>
<rect x="277.6" y="127.8" width="2.65" height="2.65" fill="#ffeb00"/>
<rect x="277.6" y="130.2" width="2.65" height="2.65" fill="#edff12"/>
<rect x="277.6" y="132.8" width="2.65" height="2.65" fill="#bdff42"/>
<rect x="277.6" y="135.2" width="2.65" height="2.65" fill="#90ff6f"/>
<rect x="277.6" y="137.8" width="2.65" height="2.65" fill="#6eff91"/>
<rect x="277.6" y="140.2" width="2.65" height="2.65" fill="#6bff94"/>
<rect x="277.6" y="142.8" width="2.65" height="2.65" fill="#64ff9b"/>
<rect x="277.6" y="145.2" width="2.65" height="2.65" fill="#55ffaa"/>
<rect x="277.6" y="147.8" width="2.65" height="2.65" fill="#3effc1"/>
<rect x="277.6" y="150.2" width="2.65" height="2.65" fill="#13ffec"/>
<rect x="277.6" y="152.8" width="2.65" height="2.65" fill="#14ffeb"/>
<rect x="277.6" y="155.2" width="2.65" height="2.65" fill="#0afff5"/>
<rect x="277.6" y="157.8" width="2.65" height="2.65" fill="#04fffb"/>
<rect x="277.6" y="160.2" width="2.65" height="2.65" fill="#00fbff"/>
<rect x="277.6" y="162.8" width="2.65" height="2.65" fill="#00e0ff"/>
<rect x="277.6" y="165.2" width="2.65" height="2.65" fill="#00beff"/>
<rect x="277.6" y="167.8" width="2.65" height="2.65" fill="#00ceff"/>
<rect x="277.6" y="170.2" width="2.65" height="2.65" fill="#00f7ff"/>
<rect x="277.6" y="172.8" width="2.65" height="2.65" fill="#0ffff0"/>
<rect x="277.6" y="175.2" width="2.65" height="2.65" fill="#1affe5"/>
<rect x="277.6" y="177.8" width="2.65" height="2.65" fill="#2cffd3"/>
<rect x="277.6" y="180.2" width="2.65" height="2.65" fill="#42ffbd"/>
<rect x="277.6" y="182.8" width="2.65" height="2.65" fill="#4fffb0"/>
<rect x="277.6" y="185.2" width="2.65" height="2.65" fill="#52ffad"/>
<rect x="280.1" y="125.2" width="2.65" height="2.65" fill="#f8ff07"/>
<rect x="280.1" y="127.8" width="2.65" height="2.65" fill="#f1ff0e"/>
<rect x="280.1" y="130.2" width="2.65" height="2.65" fill="#daff25"/>
<rect x="280.1" y="132.8" width="2.65" height="2.65" fill="#bcff43"/>
<rect x="280.1" y="135.2" width="2.65" height="2.65" fill="#9eff61"/>
<rect x="280.1" y="137.8" width="2.65" height="2.65" fill="#88ff77"/>
<rect x="280.1" y="140.2" width="2.65" height="2.65" fill="#7fff80"/>
<rect x="280.1" y="142.8" width="2.65" height="2.65" fill="#77ff88"/>
<rect x="280.1" y="145.2" width="2.65" height="2.65" fill="#67ff98"/>
<rect x="280.1" y="147.8" width="2.65" height="2.65" fill="#43ffbc"/>
<rect x="280.1" y="150.2" width="2.65" height="2.65" fill="#18ffe7"/>
<rect x="280.1" y="152.8" width="2.65" height="2.65" fill="#1affe5"/>
<rect x="280.1" y="155.2" width="2.65" height="2.65" fill="#0dfff2"/>
<rect x="280.1" y="157.8" width="2.65" height="2.65" fill="#05fffa"/>
<rect x="280.1" y="160.2" width="2.65" height="2.65" fill="#00feff"/>
<rect x="280.1" y="162.8" width="2.65" height="2.65" fill="#00d3ff"/>
<rect x="280.1" y="165.2" width="2.65" height="2.65" fill="#0098ff"/>
<rect x="280.1" y="167.8" width="2.65" height="2.65" fill="#00b4ff"/>
<rect x="280.1" y="170.2" width="2.65" height="2.65" fill="#00e7ff"/>
<rect x="280.1" y="172.8" width="2.65" height="2.65" fill="#09fff6"/>
<rect x="280.1" y="175.2" width="2.65" height="2.65" fill="#1effe1"/>
<rect x="280.1" y="177.8" width="2.65" height="2.65" fill="#2fffd0"/>
<rect x="280.1" y="180.2" width="2.65" height="2.65" fill="#3fffc0"/>
<rect x="280.1" y="182.8" width="2.65" height="2.65" fill="#49ffb6"/>
<rect x="280.1" y="185.2" width="2.65" height="2.65" fill="#4fffb0"/>
<rect x="282.6" y="125.2" width="2.65" height="2.65" fill="#eaff15"/>
<rect x="282.6" y="127.8" width="2.65" height="2.65" fill="#e6ff19"/>
<rect x="282.6" y="130.2" width="2.65" height="2.65" fill="#d9ff26"/>
<rect x="282.6" y="132.8" width="2.65" height="2.65" fill="#c5ff3a"/>
<rect x="282.6" y="135.2" width="2.65" height="2.65" fill="#aeff51"/>
<rect x="282.6" y="137.8" width="2.65" height="2.65" fill="#9cff63"/>
<rect x="282.6" y="140.2" width="2.65" height="2.65" fill="#96ff69"/>
<rect x="282.6" y="142.8" width="2.65" height="2.65" fill="#9aff65"/>
<rect x="282.6" y="145.2" width="2.65" height="2.65" fill="#95ff6a"/>
<rect x="282.6" y="147.8" width="2.65" height="2.65" fill="#6dff92"/>
<rect x="282.6" y="150.2" width="2.65" height="2.65" fill="#44ffbb"/>
<rect x="282.6" y="152.8" width="2.65" height="2.65" fill="#2effd1"/>
<rect x="282.6" y="155.2" width="2.65" height="2.65" fill="#0efff1"/>
<rect x="282.6" y="157.8" width="2.65" height="2.65" fill="#05fffa"/>
<rect x="282.6" y="160.2" width="2.65" height="2.65" fill="#07fff8"/>
<rect x="282.6" y="162.8" width="2.65" height="2.65" fill="#00e4ff"/>
<rect x="282.6" y="165.2" width="2.65" height="2.65" fill="#00bfff"/>
<rect x="282.6" y="167.8" width="2.65" height="2.65" fill="#00c1ff"/>
<rect x="282.6" y="170.2" width="2.65" height="2.65" fill="#00e3ff"/>
<rect x="282.6" y="172.8" width="2.65" height="2.65" fill="#0afff5"/>
<rect x="282.6" y="175.2" width="2.65" height="2.65" fill="#25ffda"/>
<rect x="282.6" y="177.8" width="2.65" height="2.65" fill="#36ffc9"/>
<rect x="282.6" y="180.2" width="2.65" height="2.65" fill="#42ffbd"/>
<rect x="282.6" y="182.8" width="2.65" height="2.65" fill="#49ffb6"/>
<rect x="282.6" y="185.2" width="2.65" height="2.65" fill="#4effb1"/>
<rect x="285.1" y="127.8" width="2.65" height="2.65" fill="#f3ff0c"/>
<rect x="285.1" y="130.2" width="2.65" height="2.65" fill="#efff10"/>
<rect x="285.1" y="132.8" width="2.65" height="2.65" fill="#daff25"/>
<rect x="285.1" y="135.2" width="2.65" height="2.65" fill="#c0ff3f"/>
<rect x="285.1" y="137.8" width="2.65" height="2.65" fill="#adff52"/>
<rect x="285.1" y="140.2" width="2.65" height="2.65" fill="#a9ff56"/>
<rect x="285.1" y="142.8" width="2.65" height="2.65" fill="#bcff43"/>
<rect x="285.1" y="145.2" width="2.65" height="2.65" fill="#c8ff37"/>
<rect x="285.1" y="147.8" width="2.65" height="2.65" fill="#98ff67"/>
<rect x="285.1" y="150.2" width="2.65" height="2.65" fill="#67ff98"/>
<rect x="285.1" y="152.8" width="2.65" height="2.65" fill="#4dffb2"/>
<rect x="285.1" y="155.2" width="2.65" height="2.65" fill="#3bffc4"/>
<rect x="285.1" y="157.8" width="2.65" height="2.65" fill="#2cffd3"/>
<rect x="285.1" y="160.2" width="2.65" height="2.65" fill="#1cffe3"/>
<rect x="285.1" y="162.8" width="2.65" height="2.65" fill="#00f4ff"/>
<rect x="285.1" y="165.2" width="2.65" height="2.65" fill="#00bfff"/>
<rect x="285.1" y="167.8" width="2.65" height="2.65" fill="#00b6ff"/>
<rect x="285.1" y="170.2" width="2.65" height="2.65" fill="#00e6ff"/>
<rect x="285.1" y="172.8" width="2.65" height="2.65" fill="#17ffe8"/>
<rect x="285.1" y="175.2" width="2.65" height="2.65" fill="#37ffc8"/>
<rect x="285.1" y="177.8" width="2.65" height="2.65" fill="#47ffb8"/>
<rect x="285.1" y="180.2" width="2.65" height="2.65" fill="#4cffb3"/>
<rect x="285.1" y="182.8" width="2.65" height="2.65" fill="#4fffb0"/>
<rect x="287.6" y="127.8" width="2.65" height="2.65" fill="#fff100"/>
<rect x="287.6" y="130.2" width="2.65" height="2.65" fill="#ffec00"/>
<rect x="287.6" y="132.8" width="2.65" height="2.65" fill="#f8ff07"/>
<rect x="287.6" y="135.2" width="2.65" height="2.65" fill="#d3ff2c"/>
<rect x="287.6" y="137.8" width="2.65" height="2.65" fill="#baff45"/>
<rect x="287.6" y="140.2" width="2.65" height="2.65" fill="#b2ff4d"/>
<rect x="287.6" y="142.8" width="2.65" height="2.65" fill="#baff45"/>
<rect x="287.6" y="145.2" width="2.65" height="2.65" fill="#beff41"/>
<rect x="287.6" y="147.8" width="2.65" height="2.65" fill="#9eff61"/>
<rect x="287.6" y="150.2" width="2.65" height="2.65" fill="#7bff84"/>
<rect x="287.6" y="152.8" width="2.65" height="2.65" fill="#70ff8f"/>
<rect x="287.6" y="155.2" width="2.65" height="2.65" fill="#79ff86"/>
<rect x="287.6" y="157.8" width="2.65" height="2.65" fill="#66ff99"/>
<rect x="287.6" y="160.2" width="2.65" height="2.65" fill="#3effc1"/>
<rect x="287.6" y="162.8" width="2.65" height="2.65" fill="#15ffea"/>
<rect x="287.6" y="165.2" width="2.65" height="2.65" fill="#00eaff"/>
<rect x="287.6" y="167.8" width="2.65" height="2.65" fill="#00e3ff"/>
<rect x="287.6" y="170.2" width="2.65" height="2.65" fill="#07fff8"/>
<rect x="287.6" y="172.8" width="2.65" height="2.65" fill="#34ffcb"/>
<rect x="287.6" y="175.2" width="2.65" height="2.65" fill="#57ffa8"/>
<rect x="287.6" y="177.8" width="2.65" height="2.65" fill="#61ff9e"/>
<rect x="287.6" y="180.2" width="2.65" height="2.65" fill="#5cffa3"/>
<rect x="287.6" y="182.8" width="2.65" height="2.65" fill="#58ffa7"/>
<rect x="290.1" y="130.2" width="2.65" height="2.65" fill="#ffdf00"/>
<rect x="290.1" y="132.8" width="2.65" height="2.65" fill="#fff900"/>
<rect x="290.1" y="135.2" width="2.65" height="2.65" fill="#dfff20"/>
<rect x="290.1" y="137.8" width="2.65" height="2.65" fill="#c7ff38"/>
<rect x="290.1" y="140.2" width="2.65" height="2.65" fill="#b9ff46"/>
<rect x="290.1" y="142.8" width="2.65" height="2.65" fill="#b2ff4d"/>
<rect x="290.1" y="145.2" width="2.65" height="2.65" fill="#aaff55"/>
<rect x="290.1" y="147.8" width="2.65" height="2.65" fill="#97ff68"/>
<rect x="290.1" y="150.2" width="2.65" height="2.65" fill="#85ff7a"/>
<rect x="290.1" y="152.8" width="2.65" height="2.65" fill="#82ff7d"/>
<rect x="290.1" y="155.2" width="2.65" height="2.65" fill="#90ff6f"/>
<rect x="290.1" y="157.8" width="2.65" height="2.65" fill="#81ff7e"/>
<rect x="290.1" y="160.2" width="2.65" height="2.65" fill="#5cffa3"/>
<rect x="290.1" y="162.8" width="2.65" height="2.65" fill="#3cffc3"/>
<rect x="290.1" y="165.2" width="2.65" height="2.65" fill="#25ffda"/>
<rect x="290.1" y="167.8" width="2.65" height="2.65" fill="#20ffdf"/>
<rect x="290.1" y="170.2" width="2.65" height="2.65" fill="#31ffce"/>
<rect x="290.1" y="172.8" width="2.65" height="2.65" fill="#51ffae"/>
<rect x="290.1" y="175.2" width="2.65" height="2.65" fill="#6eff91"/>
<rect x="290.1" y="177.8" width="2.65" height="2.65" fill="#72ff8d"/>
<rect x="290.1" y="180.2" width="2.65" height="2.65" fill="#67ff98"/>
<rect x="292.6" y="130.2" width="2.65" height="2.65" fill="#fff100"/>
<rect x="292.6" y="132.8" width="2.65" height="2.65" fill="#faff05"/>
<rect x="292.6" y="135.2" width="2.65" height="2.65" fill="#e4ff1b"/>
<rect x="292.6" y="137.8" width="2.65" height="2.65" fill="#d7ff28"/>
<rect x="292.6" y="140.2" width="2.65" height="2.65" fill="#cbff34"/>
<rect x="292.6" y="142.8" width="2.65" height="2.65" fill="#baff45"/>
<rect x="292.6" y="145.2" width="2.65" height="2.65" fill="#aaff55"/>
<rect x="292.6" y="147.8" width="2.65" height="2.65" fill="#9bff64"/>
<rect x="292.6" y="150.2" width="2.65" height="2.65" fill="#8eff71"/>
<rect x="292.6" y="152.8" width="2.65" height="2.65" fill="#88ff77"/>
<rect x="292.6" y="155.2" width="2.65" height="2.65" fill="#87ff78"/>
<rect x="292.6" y="157.8" width="2.65" height="2.65" fill="#7fff80"/>
<rect x="292.6" y="160.2" width="2.65" height="2.65" fill="#6eff91"/>
<rect x="292.6" y="162.8" width="2.65" height="2.65" fill="#60ff9f"/>
<rect x="292.6" y="165.2" width="2.65" height="2.65" fill="#58ffa7"/>
<rect x="292.6" y="167.8" width="2.65" height="2.65" fill="#52ffad"/>
<rect x="292.6" y="170.2" width="2.65" height="2.65" fill="#54ffab"/>
<rect x="292.6" y="172.8" width="2.65" height="2.65" fill="#5fffa0"/>
<rect x="292.6" y="175.2" width="2.65" height="2.65" fill="#6dff92"/>
<rect x="292.6" y="177.8" width="2.65" height="2.65" fill="#70ff8f"/>
<rect x="292.6" y="180.2" width="2.65" height="2.65" fill="#69ff96"/>
<rect x="295.1" y="132.8" width="2.65" height="2.65" fill="#efff10"/>
<rect x="295.1" y="135.2" width="2.65" height="2.65" fill="#eeff11"/>
<rect x="295.1" y="137.8" width="2.65" height="2.65" fill="#f4ff0b"/>
<rect x="295.1" y="140.2" width="2.65" height="2.65" fill="#ecff13"/>
<rect x="295.1" y="142.8" width="2.65" height="2.65" fill="#d1ff2e"/>
<rect x="295.1" y="145.2" width="2.65" height="2.65" fill="#b8ff47"/>
<rect x="295.1" y="147.8" width="2.65" height="2.65" fill="#a7ff58"/>
<rect x="295.1" y="150.2" width="2.65" height="2.65" fill="#9eff61"/>
<rect x="295.1" y="152.8" width="2.65" height="2.65" fill="#98ff67"/>
<rect x="295.1" y="155.2" width="2.65" height="2.65" fill="#91ff6e"/>
<rect x="295.1" y="157.8" width="2.65" height="2.65" fill="#8aff75"/>
<rect x="295.1" y="160.2" width="2.65" height="2.65" fill="#84ff7b"/>
<rect x="295.1" y="162.8" width="2.65" height="2.65" fill="#86ff79"/>
<rect x="295.1" y="165.2" width="2.65" height="2.65" fill="#8cff73"/>
<rect x="295.1" y="167.8" width="2.65" height="2.65" fill="#84ff7b"/>
<rect x="295.1" y="170.2" width="2.65" height="2.65" fill="#74ff8b"/>
<rect x="295.1" y="172.8" width="2.65" height="2.65" fill="#6bff94"/>
<rect x="295.1" y="175.2" width="2.65" height="2.65" fill="#6aff95"/>
<rect x="295.1" y="177.8" width="2.65" height="2.65" fill="#6aff95"/>
<rect x="297.6" y="135.2" width="2.65" height="2.65" fill="#fcff03"/>
<rect x="297.6" y="137.8" width="2.65" height="2.65" fill="#ffee00"/>
<rect x="297.6" y="140.2" width="2.65" height="2.65" fill="#fff300"/>
<rect x="297.6" y="142.8" width="2.65" height="2.65" fill="#e8ff17"/>
<rect x="297.6" y="145.2" width="2.65" height="2.65" fill="#c8ff37"/>
<rect x="297.6" y="147.8" width="2.65" height="2.65" fill="#b8ff47"/>
<rect x="297.6" y="150.2" width="2.65" height="2.65" fill="#b6ff49"/>
<rect x="297.6" y="152.8" width="2.65" height="2.65" fill="#b9ff46"/>
<rect x="297.6" y="155.2" width="2.65" height="2.65" fill="#b2ff4d"/>
<rect x="297.6" y="157.8" width="2.65" height="2.65" fill="#a4ff5b"/>
<rect x="297.6" y="160.2" width="2.65" height="2.65" fill="#9eff61"/>
<rect x="297.6" y="162.8" width="2.65" height="2.65" fill="#abff54"/>
<rect x="297.6" y="165.2" width="2.65" height="2.65" fill="#beff41"/>
<rect x="297.6" y="167.8" width="2.65" height="2.65" fill="#b3ff4c"/>
<rect x="297.6" y="170.2" width="2.65" height="2.65" fill="#93ff6c"/>
<rect x="297.6" y="172.8" width="2.65" height="2.65" fill="#7cff83"/>
<rect x="297.6" y="175.2" width="2.65" height="2.65" fill="#70ff8f"/>
<rect x="300.1" y="137.8" width="2.65" height="2.65" fill="#ffee00"/>
<rect x="300.1" y="140.2" width="2.65" height="2.65" fill="#fff300"/>
<rect x="300.1" y="142.8" width="2.65" height="2.65" fill="#edff12"/>
<rect x="300.1" y="145.2" width="2.65" height="2.65" fill="#d0ff2f"/>
<rect x="300.1" y="147.8" width="2.65" height="2.65" fill="#c7ff38"/>
<rect x="300.1" y="150.2" width="2.65" height="2.65" fill="#d4ff2b"/>
<rect x="300.1" y="152.8" width="2.65" height="2.65" fill="#e7ff18"/>
<rect x="300.1" y="155.2" width="2.65" height="2.65" fill="#e1ff1e"/>
<rect x="300.1" y="157.8" width="2.65" height="2.65" fill="#c3ff3c"/>
<rect x="300.1" y="160.2" width="2.65" height="2.65" fill="#b0ff4f"/>
<rect x="300.1" y="162.8" width="2.65" height="2.65" fill="#bcff43"/>
<rect x="300.1" y="165.2" width="2.65" height="2.65" fill="#ceff31"/>
<rect x="300.1" y="167.8" width="2.65" height="2.65" fill="#c4ff3b"/>
<rect x="300.1" y="170.2" width="2.65" height="2.65" fill="#a4ff5b"/>
<rect x="300.1" y="172.8" width="2.65" height="2.65" fill="#89ff76"/>
<rect x="302.6" y="142.8" width="2.65" height="2.65" fill="#e2ff1d"/>
<rect x="302.6" y="145.2" width="2.65" height="2.65" fill="#d0ff2f"/>
<rect x="302.6" y="147.8" width="2.65" height="2.65" fill="#d0ff2f"/>
<rect x="302.6" y="150.2" width="2.65" height="2.65" fill="#e5ff1a"/>
<rect x="302.6" y="152.8" width="2.65" height="2.65" fill="#feff01"/>
<rect x="302.6" y="155.2" width="2.65" height="2.65" fill="#faff05"/>
<rect x="302.6" y="157.8" width="2.65" height="2.65" fill="#d6ff29"/>
<rect x="302.6" y="160.2" width="2.65" height="2.65" fill="#baff45"/>
<rect x="302.6" y="162.8" width="2.65" height="2.65" fill="#b8ff47"/>
<rect x="302.6" y="165.2" width="2.65" height="2.65" fill="#bfff40"/>
<rect x="302.6" y="167.8" width="2.65" height="2.65" fill="#b8ff47"/>
<rect x="305.1" y="147.8" width="2.65" height="2.65" fill="#d0ff2f"/>
<rect x="305.1" y="150.2" width="2.65" height="2.65" fill="#e1ff1e"/>
<rect x="305.1" y="152.8" width="2.65" height="2.65" fill="#f2ff0d"/>
<rect x="305.1" y="155.2" width="2.65" height="2.65" fill="#eeff11"/>
<rect x="305.1" y="157.8" width="2.65" height="2.65" fill="#d3ff2c"/>
<rect x="305.1" y="160.2" width="2.65" height="2.65" fill="#bbff44"/>
<rect x="305.1" y="162.8" width="2.65" height="2.65" fill="#b1ff4e"/>
</g></g>
<circle cx="276.5" cy="156.5" r="20.1" fill="none" stroke="#111" stroke-width="1.05"/>
<path d="M272.6,136.8 L274.9,133.8 Q276.5,132.7 278.1,133.8 L280.4,136.8" fill="none" stroke="#111" stroke-width="1.0"/>
<path d="M256.7,150.9 L254.6,151.9 Q254.0,156.5 254.6,161.3 L257.0,162.5" fill="none" stroke="#111" stroke-width="0.95"/>
<path d="M296.3,150.9 L298.4,151.9 Q299.0,156.5 298.4,161.3 L296.0,162.5" fill="none" stroke="#111" stroke-width="0.95"/>
<clipPath id="clipb"><circle cx="612.4" cy="156.4" r="28.4"/></clipPath>
<g clip-path="url(#clipb)"><g filter="url(#tb)">
<rect x="579.9" y="148.9" width="2.65" height="2.65" fill="#81ff7e"/>
<rect x="579.9" y="151.4" width="2.65" height="2.65" fill="#80ff7f"/>
<rect x="579.9" y="153.9" width="2.65" height="2.65" fill="#80ff7f"/>
<rect x="579.9" y="156.4" width="2.65" height="2.65" fill="#86ff79"/>
<rect x="579.9" y="158.9" width="2.65" height="2.65" fill="#95ff6a"/>
<rect x="579.9" y="161.4" width="2.65" height="2.65" fill="#acff53"/>
<rect x="582.4" y="141.4" width="2.65" height="2.65" fill="#7aff85"/>
<rect x="582.4" y="143.9" width="2.65" height="2.65" fill="#7dff82"/>
<rect x="582.4" y="146.4" width="2.65" height="2.65" fill="#7eff81"/>
<rect x="582.4" y="148.9" width="2.65" height="2.65" fill="#7dff82"/>
<rect x="582.4" y="151.4" width="2.65" height="2.65" fill="#79ff86"/>
<rect x="582.4" y="153.9" width="2.65" height="2.65" fill="#74ff8b"/>
<rect x="582.4" y="156.4" width="2.65" height="2.65" fill="#76ff89"/>
<rect x="582.4" y="158.9" width="2.65" height="2.65" fill="#8bff74"/>
<rect x="582.4" y="161.4" width="2.65" height="2.65" fill="#b0ff4f"/>
<rect x="582.4" y="163.9" width="2.65" height="2.65" fill="#d0ff2f"/>
<rect x="582.4" y="166.4" width="2.65" height="2.65" fill="#dfff20"/>
<rect x="582.4" y="168.9" width="2.65" height="2.65" fill="#e2ff1d"/>
<rect x="584.9" y="136.4" width="2.65" height="2.65" fill="#6fff90"/>
<rect x="584.9" y="138.9" width="2.65" height="2.65" fill="#74ff8b"/>
<rect x="584.9" y="141.4" width="2.65" height="2.65" fill="#79ff86"/>
<rect x="584.9" y="143.9" width="2.65" height="2.65" fill="#7cff83"/>
<rect x="584.9" y="146.4" width="2.65" height="2.65" fill="#7dff82"/>
<rect x="584.9" y="148.9" width="2.65" height="2.65" fill="#7bff84"/>
<rect x="584.9" y="151.4" width="2.65" height="2.65" fill="#74ff8b"/>
<rect x="584.9" y="153.9" width="2.65" height="2.65" fill="#69ff96"/>
<rect x="584.9" y="156.4" width="2.65" height="2.65" fill="#65ff9a"/>
<rect x="584.9" y="158.9" width="2.65" height="2.65" fill="#81ff7e"/>
<rect x="584.9" y="161.4" width="2.65" height="2.65" fill="#b7ff48"/>
<rect x="584.9" y="163.9" width="2.65" height="2.65" fill="#e5ff1a"/>
<rect x="584.9" y="166.4" width="2.65" height="2.65" fill="#f1ff0e"/>
<rect x="584.9" y="168.9" width="2.65" height="2.65" fill="#eeff11"/>
<rect x="584.9" y="171.4" width="2.65" height="2.65" fill="#f4ff0b"/>
<rect x="584.9" y="173.9" width="2.65" height="2.65" fill="#feff01"/>
<rect x="587.4" y="133.9" width="2.65" height="2.65" fill="#66ff99"/>
<rect x="587.4" y="136.4" width="2.65" height="2.65" fill="#6dff92"/>
<rect x="587.4" y="138.9" width="2.65" height="2.65" fill="#74ff8b"/>
<rect x="587.4" y="141.4" width="2.65" height="2.65" fill="#79ff86"/>
<rect x="587.4" y="143.9" width="2.65" height="2.65" fill="#7dff82"/>
<rect x="587.4" y="146.4" width="2.65" height="2.65" fill="#7eff81"/>
<rect x="587.4" y="148.9" width="2.65" height="2.65" fill="#7cff83"/>
<rect x="587.4" y="151.4" width="2.65" height="2.65" fill="#76ff89"/>
<rect x="587.4" y="153.9" width="2.65" height="2.65" fill="#6cff93"/>
<rect x="587.4" y="156.4" width="2.65" height="2.65" fill="#6bff94"/>
<rect x="587.4" y="158.9" width="2.65" height="2.65" fill="#87ff78"/>
<rect x="587.4" y="161.4" width="2.65" height="2.65" fill="#bbff44"/>
<rect x="587.4" y="163.9" width="2.65" height="2.65" fill="#ecff13"/>
<rect x="587.4" y="166.4" width="2.65" height="2.65" fill="#f7ff08"/>
<rect x="587.4" y="168.9" width="2.65" height="2.65" fill="#f5ff0a"/>
<rect x="587.4" y="171.4" width="2.65" height="2.65" fill="#fff500"/>
<rect x="587.4" y="173.9" width="2.65" height="2.65" fill="#ffe100"/>
<rect x="587.4" y="176.4" width="2.65" height="2.65" fill="#ffe000"/>
<rect x="589.9" y="131.4" width="2.65" height="2.65" fill="#5bffa4"/>
<rect x="589.9" y="133.9" width="2.65" height="2.65" fill="#61ff9e"/>
<rect x="589.9" y="136.4" width="2.65" height="2.65" fill="#6aff95"/>
<rect x="589.9" y="138.9" width="2.65" height="2.65" fill="#74ff8b"/>
<rect x="589.9" y="141.4" width="2.65" height="2.65" fill="#7cff83"/>
<rect x="589.9" y="143.9" width="2.65" height="2.65" fill="#80ff7f"/>
<rect x="589.9" y="146.4" width="2.65" height="2.65" fill="#80ff7f"/>
<rect x="589.9" y="148.9" width="2.65" height="2.65" fill="#7fff80"/>
<rect x="589.9" y="151.4" width="2.65" height="2.65" fill="#7cff83"/>
<rect x="589.9" y="153.9" width="2.65" height="2.65" fill="#7aff85"/>
<rect x="589.9" y="156.4" width="2.65" height="2.65" fill="#7fff80"/>
<rect x="589.9" y="158.9" width="2.65" height="2.65" fill="#92ff6d"/>
<rect x="589.9" y="161.4" width="2.65" height="2.65" fill="#b5ff4a"/>
<rect x="589.9" y="163.9" width="2.65" height="2.65" fill="#d8ff27"/>
<rect x="589.9" y="166.4" width="2.65" height="2.65" fill="#ebff14"/>
<rect x="589.9" y="168.9" width="2.65" height="2.65" fill="#ffff00"/>
<rect x="589.9" y="171.4" width="2.65" height="2.65" fill="#ffcf00"/>
<rect x="589.9" y="173.9" width="2.65" height="2.65" fill="#ffaf00"/>
<rect x="589.9" y="176.4" width="2.65" height="2.65" fill="#ffbc00"/>
<rect x="589.9" y="178.9" width="2.65" height="2.65" fill="#ffd500"/>
<rect x="592.4" y="128.9" width="2.65" height="2.65" fill="#52ffad"/>
<rect x="592.4" y="131.4" width="2.65" height="2.65" fill="#54ffab"/>
<rect x="592.4" y="133.9" width="2.65" height="2.65" fill="#5affa5"/>
<rect x="592.4" y="136.4" width="2.65" height="2.65" fill="#66ff99"/>
<rect x="592.4" y="138.9" width="2.65" height="2.65" fill="#76ff89"/>
<rect x="592.4" y="141.4" width="2.65" height="2.65" fill="#83ff7c"/>
<rect x="592.4" y="143.9" width="2.65" height="2.65" fill="#88ff77"/>
<rect x="592.4" y="146.4" width="2.65" height="2.65" fill="#86ff79"/>
<rect x="592.4" y="148.9" width="2.65" height="2.65" fill="#82ff7d"/>
<rect x="592.4" y="151.4" width="2.65" height="2.65" fill="#7fff80"/>
<rect x="592.4" y="153.9" width="2.65" height="2.65" fill="#80ff7f"/>
<rect x="592.4" y="156.4" width="2.65" height="2.65" fill="#83ff7c"/>
<rect x="592.4" y="158.9" width="2.65" height="2.65" fill="#91ff6e"/>
<rect x="592.4" y="161.4" width="2.65" height="2.65" fill="#acff53"/>
<rect x="592.4" y="163.9" width="2.65" height="2.65" fill="#caff35"/>
<rect x="592.4" y="166.4" width="2.65" height="2.65" fill="#e2ff1d"/>
<rect x="592.4" y="168.9" width="2.65" height="2.65" fill="#fff700"/>
<rect x="592.4" y="171.4" width="2.65" height="2.65" fill="#ffaf00"/>
<rect x="592.4" y="173.9" width="2.65" height="2.65" fill="#ff8600"/>
<rect x="592.4" y="176.4" width="2.65" height="2.65" fill="#ffa500"/>
<rect x="592.4" y="178.9" width="2.65" height="2.65" fill="#ffc600"/>
<rect x="592.4" y="181.4" width="2.65" height="2.65" fill="#ffd500"/>
<rect x="594.9" y="128.9" width="2.65" height="2.65" fill="#4fffb0"/>
<rect x="594.9" y="131.4" width="2.65" height="2.65" fill="#4effb1"/>
<rect x="594.9" y="133.9" width="2.65" height="2.65" fill="#53ffac"/>
<rect x="594.9" y="136.4" width="2.65" height="2.65" fill="#64ff9b"/>
<rect x="594.9" y="138.9" width="2.65" height="2.65" fill="#7dff82"/>
<rect x="594.9" y="141.4" width="2.65" height="2.65" fill="#93ff6c"/>
<rect x="594.9" y="143.9" width="2.65" height="2.65" fill="#9bff64"/>
<rect x="594.9" y="146.4" width="2.65" height="2.65" fill="#93ff6c"/>
<rect x="594.9" y="148.9" width="2.65" height="2.65" fill="#85ff7a"/>
<rect x="594.9" y="151.4" width="2.65" height="2.65" fill="#7eff81"/>
<rect x="594.9" y="153.9" width="2.65" height="2.65" fill="#7eff81"/>
<rect x="594.9" y="156.4" width="2.65" height="2.65" fill="#80ff7f"/>
<rect x="594.9" y="158.9" width="2.65" height="2.65" fill="#88ff77"/>
<rect x="594.9" y="161.4" width="2.65" height="2.65" fill="#a7ff58"/>
<rect x="594.9" y="163.9" width="2.65" height="2.65" fill="#d0ff2f"/>
<rect x="594.9" y="166.4" width="2.65" height="2.65" fill="#e5ff1a"/>
<rect x="594.9" y="168.9" width="2.65" height="2.65" fill="#faff05"/>
<rect x="594.9" y="171.4" width="2.65" height="2.65" fill="#ffca00"/>
<rect x="594.9" y="173.9" width="2.65" height="2.65" fill="#ffa400"/>
<rect x="594.9" y="176.4" width="2.65" height="2.65" fill="#ffb300"/>
<rect x="594.9" y="178.9" width="2.65" height="2.65" fill="#ffb900"/>
<rect x="594.9" y="181.4" width="2.65" height="2.65" fill="#ffbe00"/>
<rect x="597.4" y="126.4" width="2.65" height="2.65" fill="#49ffb6"/>
<rect x="597.4" y="128.9" width="2.65" height="2.65" fill="#4dffb2"/>
<rect x="597.4" y="131.4" width="2.65" height="2.65" fill="#4dffb2"/>
<rect x="597.4" y="133.9" width="2.65" height="2.65" fill="#51ffae"/>
<rect x="597.4" y="136.4" width="2.65" height="2.65" fill="#66ff99"/>
<rect x="597.4" y="138.9" width="2.65" height="2.65" fill="#8bff74"/>
<rect x="597.4" y="141.4" width="2.65" height="2.65" fill="#b2ff4d"/>
<rect x="597.4" y="143.9" width="2.65" height="2.65" fill="#c2ff3d"/>
<rect x="597.4" y="146.4" width="2.65" height="2.65" fill="#abff54"/>
<rect x="597.4" y="148.9" width="2.65" height="2.65" fill="#8aff75"/>
<rect x="597.4" y="151.4" width="2.65" height="2.65" fill="#7aff85"/>
<rect x="597.4" y="153.9" width="2.65" height="2.65" fill="#79ff86"/>
<rect x="597.4" y="156.4" width="2.65" height="2.65" fill="#7bff84"/>
<rect x="597.4" y="158.9" width="2.65" height="2.65" fill="#7dff82"/>
<rect x="597.4" y="161.4" width="2.65" height="2.65" fill="#a0ff5f"/>
<rect x="597.4" y="163.9" width="2.65" height="2.65" fill="#dfff20"/>
<rect x="597.4" y="166.4" width="2.65" height="2.65" fill="#f3ff0c"/>
<rect x="597.4" y="168.9" width="2.65" height="2.65" fill="#e9ff16"/>
<rect x="597.4" y="171.4" width="2.65" height="2.65" fill="#fffc00"/>
<rect x="597.4" y="173.9" width="2.65" height="2.65" fill="#ffdb00"/>
<rect x="597.4" y="176.4" width="2.65" height="2.65" fill="#ffbf00"/>
<rect x="597.4" y="178.9" width="2.65" height="2.65" fill="#ff9b00"/>
<rect x="597.4" y="181.4" width="2.65" height="2.65" fill="#ffa100"/>
<rect x="597.4" y="183.9" width="2.65" height="2.65" fill="#ffc400"/>
<rect x="599.9" y="126.4" width="2.65" height="2.65" fill="#40ffbf"/>
<rect x="599.9" y="128.9" width="2.65" height="2.65" fill="#48ffb7"/>
<rect x="599.9" y="131.4" width="2.65" height="2.65" fill="#4dffb2"/>
<rect x="599.9" y="133.9" width="2.65" height="2.65" fill="#54ffab"/>
<rect x="599.9" y="136.4" width="2.65" height="2.65" fill="#6bff94"/>
<rect x="599.9" y="138.9" width="2.65" height="2.65" fill="#96ff69"/>
<rect x="599.9" y="141.4" width="2.65" height="2.65" fill="#d1ff2e"/>
<rect x="599.9" y="143.9" width="2.65" height="2.65" fill="#efff10"/>
<rect x="599.9" y="146.4" width="2.65" height="2.65" fill="#c5ff3a"/>
<rect x="599.9" y="148.9" width="2.65" height="2.65" fill="#8bff74"/>
<rect x="599.9" y="151.4" width="2.65" height="2.65" fill="#6eff91"/>
<rect x="599.9" y="153.9" width="2.65" height="2.65" fill="#63ff9c"/>
<rect x="599.9" y="156.4" width="2.65" height="2.65" fill="#5affa5"/>
<rect x="599.9" y="158.9" width="2.65" height="2.65" fill="#56ffa9"/>
<rect x="599.9" y="161.4" width="2.65" height="2.65" fill="#7aff85"/>
<rect x="599.9" y="163.9" width="2.65" height="2.65" fill="#bcff43"/>
<rect x="599.9" y="166.4" width="2.65" height="2.65" fill="#d8ff27"/>
<rect x="599.9" y="168.9" width="2.65" height="2.65" fill="#d1ff2e"/>
<rect x="599.9" y="171.4" width="2.65" height="2.65" fill="#dfff20"/>
<rect x="599.9" y="173.9" width="2.65" height="2.65" fill="#fffe00"/>
<rect x="599.9" y="176.4" width="2.65" height="2.65" fill="#ffcc00"/>
<rect x="599.9" y="178.9" width="2.65" height="2.65" fill="#ff9b00"/>
<rect x="599.9" y="181.4" width="2.65" height="2.65" fill="#ffa300"/>
<rect x="599.9" y="183.9" width="2.65" height="2.65" fill="#ffc800"/>
<rect x="602.4" y="126.4" width="2.65" height="2.65" fill="#2effd1"/>
<rect x="602.4" y="128.9" width="2.65" height="2.65" fill="#38ffc7"/>
<rect x="602.4" y="131.4" width="2.65" height="2.65" fill="#43ffbc"/>
<rect x="602.4" y="133.9" width="2.65" height="2.65" fill="#50ffaf"/>
<rect x="602.4" y="136.4" width="2.65" height="2.65" fill="#66ff99"/>
<rect x="602.4" y="138.9" width="2.65" height="2.65" fill="#8cff73"/>
<rect x="602.4" y="141.4" width="2.65" height="2.65" fill="#c1ff3e"/>
<rect x="602.4" y="143.9" width="2.65" height="2.65" fill="#deff21"/>
<rect x="602.4" y="146.4" width="2.65" height="2.65" fill="#b2ff4d"/>
<rect x="602.4" y="148.9" width="2.65" height="2.65" fill="#78ff87"/>
<rect x="602.4" y="151.4" width="2.65" height="2.65" fill="#58ffa7"/>
<rect x="602.4" y="153.9" width="2.65" height="2.65" fill="#44ffbb"/>
<rect x="602.4" y="156.4" width="2.65" height="2.65" fill="#2cffd3"/>
<rect x="602.4" y="158.9" width="2.65" height="2.65" fill="#18ffe7"/>
<rect x="602.4" y="161.4" width="2.65" height="2.65" fill="#41ffbe"/>
<rect x="602.4" y="163.9" width="2.65" height="2.65" fill="#78ff87"/>
<rect x="602.4" y="166.4" width="2.65" height="2.65" fill="#96ff69"/>
<rect x="602.4" y="168.9" width="2.65" height="2.65" fill="#a5ff5a"/>
<rect x="602.4" y="171.4" width="2.65" height="2.65" fill="#bbff44"/>
<rect x="602.4" y="173.9" width="2.65" height="2.65" fill="#deff21"/>
<rect x="602.4" y="176.4" width="2.65" height="2.65" fill="#fff500"/>
<rect x="602.4" y="178.9" width="2.65" height="2.65" fill="#ffd100"/>
<rect x="602.4" y="181.4" width="2.65" height="2.65" fill="#ffcc00"/>
<rect x="602.4" y="183.9" width="2.65" height="2.65" fill="#ffd400"/>
<rect x="604.9" y="123.9" width="2.65" height="2.65" fill="#11ffee"/>
<rect x="604.9" y="126.4" width="2.65" height="2.65" fill="#12ffed"/>
<rect x="604.9" y="128.9" width="2.65" height="2.65" fill="#1bffe4"/>
<rect x="604.9" y="131.4" width="2.65" height="2.65" fill="#2cffd3"/>
<rect x="604.9" y="133.9" width="2.65" height="2.65" fill="#40ffbf"/>
<rect x="604.9" y="136.4" width="2.65" height="2.65" fill="#56ffa9"/>
<rect x="604.9" y="138.9" width="2.65" height="2.65" fill="#6eff91"/>
<rect x="604.9" y="141.4" width="2.65" height="2.65" fill="#87ff78"/>
<rect x="604.9" y="143.9" width="2.65" height="2.65" fill="#8fff70"/>
<rect x="604.9" y="146.4" width="2.65" height="2.65" fill="#73ff8c"/>
<rect x="604.9" y="148.9" width="2.65" height="2.65" fill="#52ffad"/>
<rect x="604.9" y="151.4" width="2.65" height="2.65" fill="#3dffc2"/>
<rect x="604.9" y="153.9" width="2.65" height="2.65" fill="#28ffd7"/>
<rect x="604.9" y="156.4" width="2.65" height="2.65" fill="#19ffe6"/>
<rect x="604.9" y="158.9" width="2.65" height="2.65" fill="#10ffef"/>
<rect x="604.9" y="161.4" width="2.65" height="2.65" fill="#2effd1"/>
<rect x="604.9" y="163.9" width="2.65" height="2.65" fill="#4bffb4"/>
<rect x="604.9" y="166.4" width="2.65" height="2.65" fill="#59ffa6"/>
<rect x="604.9" y="168.9" width="2.65" height="2.65" fill="#76ff89"/>
<rect x="604.9" y="171.4" width="2.65" height="2.65" fill="#98ff67"/>
<rect x="604.9" y="173.9" width="2.65" height="2.65" fill="#b9ff46"/>
<rect x="604.9" y="176.4" width="2.65" height="2.65" fill="#e1ff1e"/>
<rect x="604.9" y="178.9" width="2.65" height="2.65" fill="#fff200"/>
<rect x="604.9" y="181.4" width="2.65" height="2.65" fill="#ffd100"/>
<rect x="604.9" y="183.9" width="2.65" height="2.65" fill="#ffce00"/>
<rect x="604.9" y="186.4" width="2.65" height="2.65" fill="#ffe100"/>
<rect x="607.4" y="123.9" width="2.65" height="2.65" fill="#00f5ff"/>
<rect x="607.4" y="126.4" width="2.65" height="2.65" fill="#00ecff"/>
<rect x="607.4" y="128.9" width="2.65" height="2.65" fill="#00f3ff"/>
<rect x="607.4" y="131.4" width="2.65" height="2.65" fill="#0efff1"/>
<rect x="607.4" y="133.9" width="2.65" height="2.65" fill="#2dffd2"/>
<rect x="607.4" y="136.4" width="2.65" height="2.65" fill="#45ffba"/>
<rect x="607.4" y="138.9" width="2.65" height="2.65" fill="#53ffac"/>
<rect x="607.4" y="141.4" width="2.65" height="2.65" fill="#5cffa3"/>
<rect x="607.4" y="143.9" width="2.65" height="2.65" fill="#59ffa6"/>
<rect x="607.4" y="146.4" width="2.65" height="2.65" fill="#40ffbf"/>
<rect x="607.4" y="148.9" width="2.65" height="2.65" fill="#2dffd2"/>
<rect x="607.4" y="151.4" width="2.65" height="2.65" fill="#27ffd8"/>
<rect x="607.4" y="153.9" width="2.65" height="2.65" fill="#05fffa"/>
<rect x="607.4" y="156.4" width="2.65" height="2.65" fill="#00f4ff"/>
<rect x="607.4" y="158.9" width="2.65" height="2.65" fill="#18ffe7"/>
<rect x="607.4" y="161.4" width="2.65" height="2.65" fill="#2fffd0"/>
<rect x="607.4" y="163.9" width="2.65" height="2.65" fill="#2bffd4"/>
<rect x="607.4" y="166.4" width="2.65" height="2.65" fill="#24ffdb"/>
<rect x="607.4" y="168.9" width="2.65" height="2.65" fill="#51ffae"/>
<rect x="607.4" y="171.4" width="2.65" height="2.65" fill="#7dff82"/>
<rect x="607.4" y="173.9" width="2.65" height="2.65" fill="#96ff69"/>
<rect x="607.4" y="176.4" width="2.65" height="2.65" fill="#baff45"/>
<rect x="607.4" y="178.9" width="2.65" height="2.65" fill="#f0ff0f"/>
<rect x="607.4" y="181.4" width="2.65" height="2.65" fill="#ffdd00"/>
<rect x="607.4" y="183.9" width="2.65" height="2.65" fill="#ffd600"/>
<rect x="607.4" y="186.4" width="2.65" height="2.65" fill="#ffea00"/>
<rect x="609.9" y="123.9" width="2.65" height="2.65" fill="#00deff"/>
<rect x="609.9" y="126.4" width="2.65" height="2.65" fill="#00ccff"/>
<rect x="609.9" y="128.9" width="2.65" height="2.65" fill="#00ceff"/>
<rect x="609.9" y="131.4" width="2.65" height="2.65" fill="#00f0ff"/>
<rect x="609.9" y="133.9" width="2.65" height="2.65" fill="#1cffe3"/>
<rect x="609.9" y="136.4" width="2.65" height="2.65" fill="#3dffc2"/>
<rect x="609.9" y="138.9" width="2.65" height="2.65" fill="#4affb5"/>
<rect x="609.9" y="141.4" width="2.65" height="2.65" fill="#4cffb3"/>
<rect x="609.9" y="143.9" width="2.65" height="2.65" fill="#46ffb9"/>
<rect x="609.9" y="146.4" width="2.65" height="2.65" fill="#2dffd2"/>
<rect x="609.9" y="148.9" width="2.65" height="2.65" fill="#1cffe3"/>
<rect x="609.9" y="151.4" width="2.65" height="2.65" fill="#21ffde"/>
<rect x="609.9" y="153.9" width="2.65" height="2.65" fill="#02fffd"/>
<rect x="609.9" y="156.4" width="2.65" height="2.65" fill="#00f0ff"/>
<rect x="609.9" y="158.9" width="2.65" height="2.65" fill="#18ffe7"/>
<rect x="609.9" y="161.4" width="2.65" height="2.65" fill="#2dffd2"/>
<rect x="609.9" y="163.9" width="2.65" height="2.65" fill="#27ffd8"/>
<rect x="609.9" y="166.4" width="2.65" height="2.65" fill="#20ffdf"/>
<rect x="609.9" y="168.9" width="2.65" height="2.65" fill="#4effb1"/>
<rect x="609.9" y="171.4" width="2.65" height="2.65" fill="#73ff8c"/>
<rect x="609.9" y="173.9" width="2.65" height="2.65" fill="#78ff87"/>
<rect x="609.9" y="176.4" width="2.65" height="2.65" fill="#93ff6c"/>
<rect x="609.9" y="178.9" width="2.65" height="2.65" fill="#c7ff38"/>
<rect x="609.9" y="181.4" width="2.65" height="2.65" fill="#f4ff0b"/>
<rect x="609.9" y="183.9" width="2.65" height="2.65" fill="#fffb00"/>
<rect x="609.9" y="186.4" width="2.65" height="2.65" fill="#fcff03"/>
<rect x="612.4" y="123.9" width="2.65" height="2.65" fill="#00d4ff"/>
<rect x="612.4" y="126.4" width="2.65" height="2.65" fill="#00c3ff"/>
<rect x="612.4" y="128.9" width="2.65" height="2.65" fill="#00c3ff"/>
<rect x="612.4" y="131.4" width="2.65" height="2.65" fill="#00e0ff"/>
<rect x="612.4" y="133.9" width="2.65" height="2.65" fill="#0ffff0"/>
<rect x="612.4" y="136.4" width="2.65" height="2.65" fill="#38ffc7"/>
<rect x="612.4" y="138.9" width="2.65" height="2.65" fill="#4affb5"/>
<rect x="612.4" y="141.4" width="2.65" height="2.65" fill="#4affb5"/>
<rect x="612.4" y="143.9" width="2.65" height="2.65" fill="#44ffbb"/>
<rect x="612.4" y="146.4" width="2.65" height="2.65" fill="#36ffc9"/>
<rect x="612.4" y="148.9" width="2.65" height="2.65" fill="#2bffd4"/>
<rect x="612.4" y="151.4" width="2.65" height="2.65" fill="#2cffd3"/>
<rect x="612.4" y="153.9" width="2.65" height="2.65" fill="#22ffdd"/>
<rect x="612.4" y="156.4" width="2.65" height="2.65" fill="#1effe1"/>
<rect x="612.4" y="158.9" width="2.65" height="2.65" fill="#25ffda"/>
<rect x="612.4" y="161.4" width="2.65" height="2.65" fill="#21ffde"/>
<rect x="612.4" y="163.9" width="2.65" height="2.65" fill="#2fffd0"/>
<rect x="612.4" y="166.4" width="2.65" height="2.65" fill="#45ffba"/>
<rect x="612.4" y="168.9" width="2.65" height="2.65" fill="#64ff9b"/>
<rect x="612.4" y="171.4" width="2.65" height="2.65" fill="#75ff8a"/>
<rect x="612.4" y="173.9" width="2.65" height="2.65" fill="#6fff90"/>
<rect x="612.4" y="176.4" width="2.65" height="2.65" fill="#87ff78"/>
<rect x="612.4" y="178.9" width="2.65" height="2.65" fill="#afff50"/>
<rect x="612.4" y="181.4" width="2.65" height="2.65" fill="#cfff30"/>
<rect x="612.4" y="183.9" width="2.65" height="2.65" fill="#e0ff1f"/>
<rect x="612.4" y="186.4" width="2.65" height="2.65" fill="#e3ff1c"/>
<rect x="614.9" y="123.9" width="2.65" height="2.65" fill="#00d1ff"/>
<rect x="614.9" y="126.4" width="2.65" height="2.65" fill="#00c1ff"/>
<rect x="614.9" y="128.9" width="2.65" height="2.65" fill="#00bbff"/>
<rect x="614.9" y="131.4" width="2.65" height="2.65" fill="#00d1ff"/>
<rect x="614.9" y="133.9" width="2.65" height="2.65" fill="#00feff"/>
<rect x="614.9" y="136.4" width="2.65" height="2.65" fill="#29ffd6"/>
<rect x="614.9" y="138.9" width="2.65" height="2.65" fill="#40ffbf"/>
<rect x="614.9" y="141.4" width="2.65" height="2.65" fill="#46ffb9"/>
<rect x="614.9" y="143.9" width="2.65" height="2.65" fill="#46ffb9"/>
<rect x="614.9" y="146.4" width="2.65" height="2.65" fill="#43ffbc"/>
<rect x="614.9" y="148.9" width="2.65" height="2.65" fill="#3fffc0"/>
<rect x="614.9" y="151.4" width="2.65" height="2.65" fill="#3effc1"/>
<rect x="614.9" y="153.9" width="2.65" height="2.65" fill="#3affc5"/>
<rect x="614.9" y="156.4" width="2.65" height="2.65" fill="#36ffc9"/>
<rect x="614.9" y="158.9" width="2.65" height="2.65" fill="#29ffd6"/>
<rect x="614.9" y="161.4" width="2.65" height="2.65" fill="#0cfff3"/>
<rect x="614.9" y="163.9" width="2.65" height="2.65" fill="#29ffd6"/>
<rect x="614.9" y="166.4" width="2.65" height="2.65" fill="#5effa1"/>
<rect x="614.9" y="168.9" width="2.65" height="2.65" fill="#80ff7f"/>
<rect x="614.9" y="171.4" width="2.65" height="2.65" fill="#8cff73"/>
<rect x="614.9" y="173.9" width="2.65" height="2.65" fill="#8cff73"/>
<rect x="614.9" y="176.4" width="2.65" height="2.65" fill="#9aff65"/>
<rect x="614.9" y="178.9" width="2.65" height="2.65" fill="#afff50"/>
<rect x="614.9" y="181.4" width="2.65" height="2.65" fill="#c1ff3e"/>
<rect x="614.9" y="183.9" width="2.65" height="2.65" fill="#ccff33"/>
<rect x="614.9" y="186.4" width="2.65" height="2.65" fill="#d1ff2e"/>
<rect x="617.4" y="123.9" width="2.65" height="2.65" fill="#00cdff"/>
<rect x="617.4" y="126.4" width="2.65" height="2.65" fill="#00aeff"/>
<rect x="617.4" y="128.9" width="2.65" height="2.65" fill="#009aff"/>
<rect x="617.4" y="131.4" width="2.65" height="2.65" fill="#00bcff"/>
<rect x="617.4" y="133.9" width="2.65" height="2.65" fill="#00f1ff"/>
<rect x="617.4" y="136.4" width="2.65" height="2.65" fill="#1affe5"/>
<rect x="617.4" y="138.9" width="2.65" height="2.65" fill="#34ffcb"/>
<rect x="617.4" y="141.4" width="2.65" height="2.65" fill="#42ffbd"/>
<rect x="617.4" y="143.9" width="2.65" height="2.65" fill="#4bffb4"/>
<rect x="617.4" y="146.4" width="2.65" height="2.65" fill="#50ffaf"/>
<rect x="617.4" y="148.9" width="2.65" height="2.65" fill="#51ffae"/>
<rect x="617.4" y="151.4" width="2.65" height="2.65" fill="#4effb1"/>
<rect x="617.4" y="153.9" width="2.65" height="2.65" fill="#46ffb9"/>
<rect x="617.4" y="156.4" width="2.65" height="2.65" fill="#3fffc0"/>
<rect x="617.4" y="158.9" width="2.65" height="2.65" fill="#3cffc3"/>
<rect x="617.4" y="161.4" width="2.65" height="2.65" fill="#35ffca"/>
<rect x="617.4" y="163.9" width="2.65" height="2.65" fill="#53ffac"/>
<rect x="617.4" y="166.4" width="2.65" height="2.65" fill="#8cff73"/>
<rect x="617.4" y="168.9" width="2.65" height="2.65" fill="#aeff51"/>
<rect x="617.4" y="171.4" width="2.65" height="2.65" fill="#bbff44"/>
<rect x="617.4" y="173.9" width="2.65" height="2.65" fill="#bcff43"/>
<rect x="617.4" y="176.4" width="2.65" height="2.65" fill="#b9ff46"/>
<rect x="617.4" y="178.9" width="2.65" height="2.65" fill="#bbff44"/>
<rect x="617.4" y="181.4" width="2.65" height="2.65" fill="#c0ff3f"/>
<rect x="617.4" y="183.9" width="2.65" height="2.65" fill="#c5ff3a"/>
<rect x="617.4" y="186.4" width="2.65" height="2.65" fill="#c8ff37"/>
<rect x="619.9" y="126.4" width="2.65" height="2.65" fill="#00bcff"/>
<rect x="619.9" y="128.9" width="2.65" height="2.65" fill="#00b0ff"/>
<rect x="619.9" y="131.4" width="2.65" height="2.65" fill="#00ccff"/>
<rect x="619.9" y="133.9" width="2.65" height="2.65" fill="#00f1ff"/>
<rect x="619.9" y="136.4" width="2.65" height="2.65" fill="#14ffeb"/>
<rect x="619.9" y="138.9" width="2.65" height="2.65" fill="#2fffd0"/>
<rect x="619.9" y="141.4" width="2.65" height="2.65" fill="#44ffbb"/>
<rect x="619.9" y="143.9" width="2.65" height="2.65" fill="#55ffaa"/>
<rect x="619.9" y="146.4" width="2.65" height="2.65" fill="#63ff9c"/>
<rect x="619.9" y="148.9" width="2.65" height="2.65" fill="#69ff96"/>
<rect x="619.9" y="151.4" width="2.65" height="2.65" fill="#61ff9e"/>
<rect x="619.9" y="153.9" width="2.65" height="2.65" fill="#4cffb3"/>
<rect x="619.9" y="156.4" width="2.65" height="2.65" fill="#3bffc4"/>
<rect x="619.9" y="158.9" width="2.65" height="2.65" fill="#46ffb9"/>
<rect x="619.9" y="161.4" width="2.65" height="2.65" fill="#63ff9c"/>
<rect x="619.9" y="163.9" width="2.65" height="2.65" fill="#97ff68"/>
<rect x="619.9" y="166.4" width="2.65" height="2.65" fill="#daff25"/>
<rect x="619.9" y="168.9" width="2.65" height="2.65" fill="#edff12"/>
<rect x="619.9" y="171.4" width="2.65" height="2.65" fill="#e9ff16"/>
<rect x="619.9" y="173.9" width="2.65" height="2.65" fill="#e7ff18"/>
<rect x="619.9" y="176.4" width="2.65" height="2.65" fill="#d5ff2a"/>
<rect x="619.9" y="178.9" width="2.65" height="2.65" fill="#c9ff36"/>
<rect x="619.9" y="181.4" width="2.65" height="2.65" fill="#c5ff3a"/>
<rect x="619.9" y="183.9" width="2.65" height="2.65" fill="#c5ff3a"/>
<rect x="622.4" y="126.4" width="2.65" height="2.65" fill="#00daff"/>
<rect x="622.4" y="128.9" width="2.65" height="2.65" fill="#00daff"/>
<rect x="622.4" y="131.4" width="2.65" height="2.65" fill="#00e1ff"/>
<rect x="622.4" y="133.9" width="2.65" height="2.65" fill="#00f5ff"/>
<rect x="622.4" y="136.4" width="2.65" height="2.65" fill="#13ffec"/>
<rect x="622.4" y="138.9" width="2.65" height="2.65" fill="#2effd1"/>
<rect x="622.4" y="141.4" width="2.65" height="2.65" fill="#49ffb6"/>
<rect x="622.4" y="143.9" width="2.65" height="2.65" fill="#64ff9b"/>
<rect x="622.4" y="146.4" width="2.65" height="2.65" fill="#80ff7f"/>
<rect x="622.4" y="148.9" width="2.65" height="2.65" fill="#92ff6d"/>
<rect x="622.4" y="151.4" width="2.65" height="2.65" fill="#87ff78"/>
<rect x="622.4" y="153.9" width="2.65" height="2.65" fill="#66ff99"/>
<rect x="622.4" y="156.4" width="2.65" height="2.65" fill="#52ffad"/>
<rect x="622.4" y="158.9" width="2.65" height="2.65" fill="#5dffa2"/>
<rect x="622.4" y="161.4" width="2.65" height="2.65" fill="#84ff7b"/>
<rect x="622.4" y="163.9" width="2.65" height="2.65" fill="#c7ff38"/>
<rect x="622.4" y="166.4" width="2.65" height="2.65" fill="#ffe300"/>
<rect x="622.4" y="168.9" width="2.65" height="2.65" fill="#ffde00"/>
<rect x="622.4" y="171.4" width="2.65" height="2.65" fill="#f7ff08"/>
<rect x="622.4" y="173.9" width="2.65" height="2.65" fill="#f3ff0c"/>
<rect x="622.4" y="176.4" width="2.65" height="2.65" fill="#dfff20"/>
<rect x="622.4" y="178.9" width="2.65" height="2.65" fill="#d3ff2c"/>
<rect x="622.4" y="181.4" width="2.65" height="2.65" fill="#ccff33"/>
<rect x="622.4" y="183.9" width="2.65" height="2.65" fill="#c7ff38"/>
<rect x="624.9" y="126.4" width="2.65" height="2.65" fill="#00eaff"/>
<rect x="624.9" y="128.9" width="2.65" height="2.65" fill="#00e1ff"/>
<rect x="624.9" y="131.4" width="2.65" height="2.65" fill="#00deff"/>
<rect x="624.9" y="133.9" width="2.65" height="2.65" fill="#00f8ff"/>
<rect x="624.9" y="136.4" width="2.65" height="2.65" fill="#18ffe7"/>
<rect x="624.9" y="138.9" width="2.65" height="2.65" fill="#30ffcf"/>
<rect x="624.9" y="141.4" width="2.65" height="2.65" fill="#4dffb2"/>
<rect x="624.9" y="143.9" width="2.65" height="2.65" fill="#74ff8b"/>
<rect x="624.9" y="146.4" width="2.65" height="2.65" fill="#a4ff5b"/>
<rect x="624.9" y="148.9" width="2.65" height="2.65" fill="#cbff34"/>
<rect x="624.9" y="151.4" width="2.65" height="2.65" fill="#bfff40"/>
<rect x="624.9" y="153.9" width="2.65" height="2.65" fill="#90ff6f"/>
<rect x="624.9" y="156.4" width="2.65" height="2.65" fill="#77ff88"/>
<rect x="624.9" y="158.9" width="2.65" height="2.65" fill="#7cff83"/>
<rect x="624.9" y="161.4" width="2.65" height="2.65" fill="#99ff66"/>
<rect x="624.9" y="163.9" width="2.65" height="2.65" fill="#ccff33"/>
<rect x="624.9" y="166.4" width="2.65" height="2.65" fill="#fffa00"/>
<rect x="624.9" y="168.9" width="2.65" height="2.65" fill="#fff500"/>
<rect x="624.9" y="171.4" width="2.65" height="2.65" fill="#efff10"/>
<rect x="624.9" y="173.9" width="2.65" height="2.65" fill="#e6ff19"/>
<rect x="624.9" y="176.4" width="2.65" height="2.65" fill="#e0ff1f"/>
<rect x="624.9" y="178.9" width="2.65" height="2.65" fill="#daff25"/>
<rect x="624.9" y="181.4" width="2.65" height="2.65" fill="#d1ff2e"/>
<rect x="624.9" y="183.9" width="2.65" height="2.65" fill="#caff35"/>
<rect x="627.4" y="128.9" width="2.65" height="2.65" fill="#00efff"/>
<rect x="627.4" y="131.4" width="2.65" height="2.65" fill="#00f3ff"/>
<rect x="627.4" y="133.9" width="2.65" height="2.65" fill="#11ffee"/>
<rect x="627.4" y="136.4" width="2.65" height="2.65" fill="#21ffde"/>
<rect x="627.4" y="138.9" width="2.65" height="2.65" fill="#2fffd0"/>
<rect x="627.4" y="141.4" width="2.65" height="2.65" fill="#4dffb2"/>
<rect x="627.4" y="143.9" width="2.65" height="2.65" fill="#7aff85"/>
<rect x="627.4" y="146.4" width="2.65" height="2.65" fill="#b1ff4e"/>
<rect x="627.4" y="148.9" width="2.65" height="2.65" fill="#dcff23"/>
<rect x="627.4" y="151.4" width="2.65" height="2.65" fill="#d2ff2d"/>
<rect x="627.4" y="153.9" width="2.65" height="2.65" fill="#a6ff59"/>
<rect x="627.4" y="156.4" width="2.65" height="2.65" fill="#8dff72"/>
<rect x="627.4" y="158.9" width="2.65" height="2.65" fill="#8eff71"/>
<rect x="627.4" y="161.4" width="2.65" height="2.65" fill="#a1ff5e"/>
<rect x="627.4" y="163.9" width="2.65" height="2.65" fill="#bdff42"/>
<rect x="627.4" y="166.4" width="2.65" height="2.65" fill="#d8ff27"/>
<rect x="627.4" y="168.9" width="2.65" height="2.65" fill="#e1ff1e"/>
<rect x="627.4" y="171.4" width="2.65" height="2.65" fill="#deff21"/>
<rect x="627.4" y="173.9" width="2.65" height="2.65" fill="#dfff20"/>
<rect x="627.4" y="176.4" width="2.65" height="2.65" fill="#e4ff1b"/>
<rect x="627.4" y="178.9" width="2.65" height="2.65" fill="#e0ff1f"/>
<rect x="627.4" y="181.4" width="2.65" height="2.65" fill="#d5ff2a"/>
<rect x="629.9" y="128.9" width="2.65" height="2.65" fill="#06fff9"/>
<rect x="629.9" y="131.4" width="2.65" height="2.65" fill="#10ffef"/>
<rect x="629.9" y="133.9" width="2.65" height="2.65" fill="#20ffdf"/>
<rect x="629.9" y="136.4" width="2.65" height="2.65" fill="#24ffdb"/>
<rect x="629.9" y="138.9" width="2.65" height="2.65" fill="#2effd1"/>
<rect x="629.9" y="141.4" width="2.65" height="2.65" fill="#4bffb4"/>
<rect x="629.9" y="143.9" width="2.65" height="2.65" fill="#74ff8b"/>
<rect x="629.9" y="146.4" width="2.65" height="2.65" fill="#9eff61"/>
<rect x="629.9" y="148.9" width="2.65" height="2.65" fill="#bbff44"/>
<rect x="629.9" y="151.4" width="2.65" height="2.65" fill="#b7ff48"/>
<rect x="629.9" y="153.9" width="2.65" height="2.65" fill="#a0ff5f"/>
<rect x="629.9" y="156.4" width="2.65" height="2.65" fill="#94ff6b"/>
<rect x="629.9" y="158.9" width="2.65" height="2.65" fill="#95ff6a"/>
<rect x="629.9" y="161.4" width="2.65" height="2.65" fill="#a2ff5d"/>
<rect x="629.9" y="163.9" width="2.65" height="2.65" fill="#b2ff4d"/>
<rect x="629.9" y="166.4" width="2.65" height="2.65" fill="#c0ff3f"/>
<rect x="629.9" y="168.9" width="2.65" height="2.65" fill="#c9ff36"/>
<rect x="629.9" y="171.4" width="2.65" height="2.65" fill="#cfff30"/>
<rect x="629.9" y="173.9" width="2.65" height="2.65" fill="#d8ff27"/>
<rect x="629.9" y="176.4" width="2.65" height="2.65" fill="#dfff20"/>
<rect x="629.9" y="178.9" width="2.65" height="2.65" fill="#dcff23"/>
<rect x="629.9" y="181.4" width="2.65" height="2.65" fill="#d2ff2d"/>
<rect x="632.4" y="131.4" width="2.65" height="2.65" fill="#1dffe2"/>
<rect x="632.4" y="133.9" width="2.65" height="2.65" fill="#24ffdb"/>
<rect x="632.4" y="136.4" width="2.65" height="2.65" fill="#28ffd7"/>
<rect x="632.4" y="138.9" width="2.65" height="2.65" fill="#34ffcb"/>
<rect x="632.4" y="141.4" width="2.65" height="2.65" fill="#4dffb2"/>
<rect x="632.4" y="143.9" width="2.65" height="2.65" fill="#6cff93"/>
<rect x="632.4" y="146.4" width="2.65" height="2.65" fill="#88ff77"/>
<rect x="632.4" y="148.9" width="2.65" height="2.65" fill="#99ff66"/>
<rect x="632.4" y="151.4" width="2.65" height="2.65" fill="#9aff65"/>
<rect x="632.4" y="153.9" width="2.65" height="2.65" fill="#93ff6c"/>
<rect x="632.4" y="156.4" width="2.65" height="2.65" fill="#90ff6f"/>
<rect x="632.4" y="158.9" width="2.65" height="2.65" fill="#95ff6a"/>
<rect x="632.4" y="161.4" width="2.65" height="2.65" fill="#a1ff5e"/>
<rect x="632.4" y="163.9" width="2.65" height="2.65" fill="#afff50"/>
<rect x="632.4" y="166.4" width="2.65" height="2.65" fill="#b9ff46"/>
<rect x="632.4" y="168.9" width="2.65" height="2.65" fill="#bdff42"/>
<rect x="632.4" y="171.4" width="2.65" height="2.65" fill="#c3ff3c"/>
<rect x="632.4" y="173.9" width="2.65" height="2.65" fill="#cbff34"/>
<rect x="632.4" y="176.4" width="2.65" height="2.65" fill="#d1ff2e"/>
<rect x="632.4" y="178.9" width="2.65" height="2.65" fill="#d0ff2f"/>
<rect x="634.9" y="133.9" width="2.65" height="2.65" fill="#2bffd4"/>
<rect x="634.9" y="136.4" width="2.65" height="2.65" fill="#32ffcd"/>
<rect x="634.9" y="138.9" width="2.65" height="2.65" fill="#3effc1"/>
<rect x="634.9" y="141.4" width="2.65" height="2.65" fill="#52ffad"/>
<rect x="634.9" y="143.9" width="2.65" height="2.65" fill="#68ff97"/>
<rect x="634.9" y="146.4" width="2.65" height="2.65" fill="#7cff83"/>
<rect x="634.9" y="148.9" width="2.65" height="2.65" fill="#87ff78"/>
<rect x="634.9" y="151.4" width="2.65" height="2.65" fill="#8aff75"/>
<rect x="634.9" y="153.9" width="2.65" height="2.65" fill="#88ff77"/>
<rect x="634.9" y="156.4" width="2.65" height="2.65" fill="#88ff77"/>
<rect x="634.9" y="158.9" width="2.65" height="2.65" fill="#90ff6f"/>
<rect x="634.9" y="161.4" width="2.65" height="2.65" fill="#9eff61"/>
<rect x="634.9" y="163.9" width="2.65" height="2.65" fill="#b0ff4f"/>
<rect x="634.9" y="166.4" width="2.65" height="2.65" fill="#bbff44"/>
<rect x="634.9" y="168.9" width="2.65" height="2.65" fill="#bcff43"/>
<rect x="634.9" y="171.4" width="2.65" height="2.65" fill="#bcff43"/>
<rect x="634.9" y="173.9" width="2.65" height="2.65" fill="#c0ff3f"/>
<rect x="634.9" y="176.4" width="2.65" height="2.65" fill="#c4ff3b"/>
<rect x="637.4" y="136.4" width="2.65" height="2.65" fill="#3dffc2"/>
<rect x="637.4" y="138.9" width="2.65" height="2.65" fill="#48ffb7"/>
<rect x="637.4" y="141.4" width="2.65" height="2.65" fill="#58ffa7"/>
<rect x="637.4" y="143.9" width="2.65" height="2.65" fill="#68ff97"/>
<rect x="637.4" y="146.4" width="2.65" height="2.65" fill="#76ff89"/>
<rect x="637.4" y="148.9" width="2.65" height="2.65" fill="#80ff7f"/>
<rect x="637.4" y="151.4" width="2.65" height="2.65" fill="#83ff7c"/>
<rect x="637.4" y="153.9" width="2.65" height="2.65" fill="#82ff7d"/>
<rect x="637.4" y="156.4" width="2.65" height="2.65" fill="#81ff7e"/>
<rect x="637.4" y="158.9" width="2.65" height="2.65" fill="#89ff76"/>
<rect x="637.4" y="161.4" width="2.65" height="2.65" fill="#99ff66"/>
<rect x="637.4" y="163.9" width="2.65" height="2.65" fill="#adff52"/>
<rect x="637.4" y="166.4" width="2.65" height="2.65" fill="#b9ff46"/>
<rect x="637.4" y="168.9" width="2.65" height="2.65" fill="#baff45"/>
<rect x="637.4" y="171.4" width="2.65" height="2.65" fill="#b9ff46"/>
<rect x="637.4" y="173.9" width="2.65" height="2.65" fill="#baff45"/>
<rect x="639.9" y="141.4" width="2.65" height="2.65" fill="#5dffa2"/>
<rect x="639.9" y="143.9" width="2.65" height="2.65" fill="#6aff95"/>
<rect x="639.9" y="146.4" width="2.65" height="2.65" fill="#75ff8a"/>
<rect x="639.9" y="148.9" width="2.65" height="2.65" fill="#7dff82"/>
<rect x="639.9" y="151.4" width="2.65" height="2.65" fill="#81ff7e"/>
<rect x="639.9" y="153.9" width="2.65" height="2.65" fill="#81ff7e"/>
<rect x="639.9" y="156.4" width="2.65" height="2.65" fill="#81ff7e"/>
<rect x="639.9" y="158.9" width="2.65" height="2.65" fill="#87ff78"/>
<rect x="639.9" y="161.4" width="2.65" height="2.65" fill="#95ff6a"/>
<rect x="639.9" y="163.9" width="2.65" height="2.65" fill="#a5ff5a"/>
<rect x="639.9" y="166.4" width="2.65" height="2.65" fill="#b0ff4f"/>
<rect x="639.9" y="168.9" width="2.65" height="2.65" fill="#b4ff4b"/>
<rect x="642.4" y="148.9" width="2.65" height="2.65" fill="#7cff83"/>
<rect x="642.4" y="151.4" width="2.65" height="2.65" fill="#80ff7f"/>
<rect x="642.4" y="153.9" width="2.65" height="2.65" fill="#82ff7d"/>
<rect x="642.4" y="156.4" width="2.65" height="2.65" fill="#84ff7b"/>
<rect x="642.4" y="158.9" width="2.65" height="2.65" fill="#89ff76"/>
<rect x="642.4" y="161.4" width="2.65" height="2.65" fill="#93ff6c"/>
</g></g>
<circle cx="612.9" cy="156.5" r="21.0" fill="none" stroke="#111" stroke-width="1.05"/>
<path d="M609.0,135.9 L611.3,132.9 Q612.9,131.8 614.5,132.9 L616.8,135.9" fill="none" stroke="#111" stroke-width="1.0"/>
<path d="M592.2,150.9 L590.1,151.9 Q589.5,156.5 590.1,161.3 L592.5,162.5" fill="none" stroke="#111" stroke-width="0.95"/>
<path d="M633.6,150.9 L635.7,151.9 Q636.3,156.5 635.7,161.3 L633.3,162.5" fill="none" stroke="#111" stroke-width="0.95"/>
<clipPath id="clipc"><circle cx="272.9" cy="421.0" r="29.0"/></clipPath>
<g clip-path="url(#clipc)"><g filter="url(#tb)">
<rect x="239.1" y="414.8" width="2.65" height="2.65" fill="#ebff14"/>
<rect x="239.1" y="417.2" width="2.65" height="2.65" fill="#dbff24"/>
<rect x="239.1" y="419.8" width="2.65" height="2.65" fill="#cbff34"/>
<rect x="239.1" y="422.2" width="2.65" height="2.65" fill="#bfff40"/>
<rect x="239.1" y="424.8" width="2.65" height="2.65" fill="#b7ff48"/>
<rect x="241.6" y="407.2" width="2.65" height="2.65" fill="#ffe000"/>
<rect x="241.6" y="409.8" width="2.65" height="2.65" fill="#fff700"/>
<rect x="241.6" y="412.2" width="2.65" height="2.65" fill="#faff05"/>
<rect x="241.6" y="414.8" width="2.65" height="2.65" fill="#ecff13"/>
<rect x="241.6" y="417.2" width="2.65" height="2.65" fill="#d9ff26"/>
<rect x="241.6" y="419.8" width="2.65" height="2.65" fill="#c6ff39"/>
<rect x="241.6" y="422.2" width="2.65" height="2.65" fill="#b9ff46"/>
<rect x="241.6" y="424.8" width="2.65" height="2.65" fill="#b3ff4c"/>
<rect x="241.6" y="427.2" width="2.65" height="2.65" fill="#b0ff4f"/>
<rect x="241.6" y="429.8" width="2.65" height="2.65" fill="#abff54"/>
<rect x="241.6" y="432.2" width="2.65" height="2.65" fill="#a3ff5c"/>
<rect x="244.1" y="402.2" width="2.65" height="2.65" fill="#ff9800"/>
<rect x="244.1" y="404.8" width="2.65" height="2.65" fill="#ffa900"/>
<rect x="244.1" y="407.2" width="2.65" height="2.65" fill="#ffda00"/>
<rect x="244.1" y="409.8" width="2.65" height="2.65" fill="#fffe00"/>
<rect x="244.1" y="412.2" width="2.65" height="2.65" fill="#faff05"/>
<rect x="244.1" y="414.8" width="2.65" height="2.65" fill="#ecff13"/>
<rect x="244.1" y="417.2" width="2.65" height="2.65" fill="#d5ff2a"/>
<rect x="244.1" y="419.8" width="2.65" height="2.65" fill="#c0ff3f"/>
<rect x="244.1" y="422.2" width="2.65" height="2.65" fill="#b5ff4a"/>
<rect x="244.1" y="424.8" width="2.65" height="2.65" fill="#b2ff4d"/>
<rect x="244.1" y="427.2" width="2.65" height="2.65" fill="#b1ff4e"/>
<rect x="244.1" y="429.8" width="2.65" height="2.65" fill="#aaff55"/>
<rect x="244.1" y="432.2" width="2.65" height="2.65" fill="#9fff60"/>
<rect x="244.1" y="434.8" width="2.65" height="2.65" fill="#95ff6a"/>
<rect x="244.1" y="437.2" width="2.65" height="2.65" fill="#8dff72"/>
<rect x="246.6" y="399.8" width="2.65" height="2.65" fill="#ff7e00"/>
<rect x="246.6" y="402.2" width="2.65" height="2.65" fill="#ff8000"/>
<rect x="246.6" y="404.8" width="2.65" height="2.65" fill="#ff8500"/>
<rect x="246.6" y="407.2" width="2.65" height="2.65" fill="#ffca00"/>
<rect x="246.6" y="409.8" width="2.65" height="2.65" fill="#ffff00"/>
<rect x="246.6" y="412.2" width="2.65" height="2.65" fill="#f8ff07"/>
<rect x="246.6" y="414.8" width="2.65" height="2.65" fill="#e6ff19"/>
<rect x="246.6" y="417.2" width="2.65" height="2.65" fill="#cbff34"/>
<rect x="246.6" y="419.8" width="2.65" height="2.65" fill="#b8ff47"/>
<rect x="246.6" y="422.2" width="2.65" height="2.65" fill="#b1ff4e"/>
<rect x="246.6" y="424.8" width="2.65" height="2.65" fill="#b1ff4e"/>
<rect x="246.6" y="427.2" width="2.65" height="2.65" fill="#b0ff4f"/>
<rect x="246.6" y="429.8" width="2.65" height="2.65" fill="#a6ff59"/>
<rect x="246.6" y="432.2" width="2.65" height="2.65" fill="#98ff67"/>
<rect x="246.6" y="434.8" width="2.65" height="2.65" fill="#8cff73"/>
<rect x="246.6" y="437.2" width="2.65" height="2.65" fill="#84ff7b"/>
<rect x="246.6" y="439.8" width="2.65" height="2.65" fill="#80ff7f"/>
<rect x="249.1" y="397.2" width="2.65" height="2.65" fill="#ff4600"/>
<rect x="249.1" y="399.8" width="2.65" height="2.65" fill="#ff6000"/>
<rect x="249.1" y="402.2" width="2.65" height="2.65" fill="#ff7e00"/>
<rect x="249.1" y="404.8" width="2.65" height="2.65" fill="#ff8800"/>
<rect x="249.1" y="407.2" width="2.65" height="2.65" fill="#ffc500"/>
<rect x="249.1" y="409.8" width="2.65" height="2.65" fill="#fffb00"/>
<rect x="249.1" y="412.2" width="2.65" height="2.65" fill="#ebff14"/>
<rect x="249.1" y="414.8" width="2.65" height="2.65" fill="#ceff31"/>
<rect x="249.1" y="417.2" width="2.65" height="2.65" fill="#b6ff49"/>
<rect x="249.1" y="419.8" width="2.65" height="2.65" fill="#a9ff56"/>
<rect x="249.1" y="422.2" width="2.65" height="2.65" fill="#a7ff58"/>
<rect x="249.1" y="424.8" width="2.65" height="2.65" fill="#a8ff57"/>
<rect x="249.1" y="427.2" width="2.65" height="2.65" fill="#a5ff5a"/>
<rect x="249.1" y="429.8" width="2.65" height="2.65" fill="#9aff65"/>
<rect x="249.1" y="432.2" width="2.65" height="2.65" fill="#8cff73"/>
<rect x="249.1" y="434.8" width="2.65" height="2.65" fill="#82ff7d"/>
<rect x="249.1" y="437.2" width="2.65" height="2.65" fill="#7bff84"/>
<rect x="249.1" y="439.8" width="2.65" height="2.65" fill="#79ff86"/>
<rect x="249.1" y="442.2" width="2.65" height="2.65" fill="#78ff87"/>
<rect x="251.6" y="394.8" width="2.65" height="2.65" fill="#ff3600"/>
<rect x="251.6" y="397.2" width="2.65" height="2.65" fill="#ff2900"/>
<rect x="251.6" y="399.8" width="2.65" height="2.65" fill="#ff4300"/>
<rect x="251.6" y="402.2" width="2.65" height="2.65" fill="#ff8400"/>
<rect x="251.6" y="404.8" width="2.65" height="2.65" fill="#ffb000"/>
<rect x="251.6" y="407.2" width="2.65" height="2.65" fill="#ffe300"/>
<rect x="251.6" y="409.8" width="2.65" height="2.65" fill="#ebff14"/>
<rect x="251.6" y="412.2" width="2.65" height="2.65" fill="#c3ff3c"/>
<rect x="251.6" y="414.8" width="2.65" height="2.65" fill="#9fff60"/>
<rect x="251.6" y="417.2" width="2.65" height="2.65" fill="#8fff70"/>
<rect x="251.6" y="419.8" width="2.65" height="2.65" fill="#90ff6f"/>
<rect x="251.6" y="422.2" width="2.65" height="2.65" fill="#94ff6b"/>
<rect x="251.6" y="424.8" width="2.65" height="2.65" fill="#95ff6a"/>
<rect x="251.6" y="427.2" width="2.65" height="2.65" fill="#90ff6f"/>
<rect x="251.6" y="429.8" width="2.65" height="2.65" fill="#86ff79"/>
<rect x="251.6" y="432.2" width="2.65" height="2.65" fill="#7cff83"/>
<rect x="251.6" y="434.8" width="2.65" height="2.65" fill="#76ff89"/>
<rect x="251.6" y="437.2" width="2.65" height="2.65" fill="#75ff8a"/>
<rect x="251.6" y="439.8" width="2.65" height="2.65" fill="#75ff8a"/>
<rect x="251.6" y="442.2" width="2.65" height="2.65" fill="#76ff89"/>
<rect x="251.6" y="444.8" width="2.65" height="2.65" fill="#77ff88"/>
<rect x="254.1" y="392.2" width="2.65" height="2.65" fill="#ff2700"/>
<rect x="254.1" y="394.8" width="2.65" height="2.65" fill="#ff1300"/>
<rect x="254.1" y="397.2" width="2.65" height="2.65" fill="#ff2f00"/>
<rect x="254.1" y="399.8" width="2.65" height="2.65" fill="#ff5600"/>
<rect x="254.1" y="402.2" width="2.65" height="2.65" fill="#ff9c00"/>
<rect x="254.1" y="404.8" width="2.65" height="2.65" fill="#ffe000"/>
<rect x="254.1" y="407.2" width="2.65" height="2.65" fill="#e7ff18"/>
<rect x="254.1" y="409.8" width="2.65" height="2.65" fill="#beff41"/>
<rect x="254.1" y="412.2" width="2.65" height="2.65" fill="#8fff70"/>
<rect x="254.1" y="414.8" width="2.65" height="2.65" fill="#5fffa0"/>
<rect x="254.1" y="417.2" width="2.65" height="2.65" fill="#5bffa4"/>
<rect x="254.1" y="419.8" width="2.65" height="2.65" fill="#71ff8e"/>
<rect x="254.1" y="422.2" width="2.65" height="2.65" fill="#7eff81"/>
<rect x="254.1" y="424.8" width="2.65" height="2.65" fill="#80ff7f"/>
<rect x="254.1" y="427.2" width="2.65" height="2.65" fill="#7aff85"/>
<rect x="254.1" y="429.8" width="2.65" height="2.65" fill="#70ff8f"/>
<rect x="254.1" y="432.2" width="2.65" height="2.65" fill="#67ff98"/>
<rect x="254.1" y="434.8" width="2.65" height="2.65" fill="#66ff99"/>
<rect x="254.1" y="437.2" width="2.65" height="2.65" fill="#6eff91"/>
<rect x="254.1" y="439.8" width="2.65" height="2.65" fill="#74ff8b"/>
<rect x="254.1" y="442.2" width="2.65" height="2.65" fill="#75ff8a"/>
<rect x="254.1" y="444.8" width="2.65" height="2.65" fill="#75ff8a"/>
<rect x="254.1" y="447.2" width="2.65" height="2.65" fill="#77ff88"/>
<rect x="256.6" y="392.2" width="2.65" height="2.65" fill="#ff2100"/>
<rect x="256.6" y="394.8" width="2.65" height="2.65" fill="#ff0700"/>
<rect x="256.6" y="397.2" width="2.65" height="2.65" fill="#ff3100"/>
<rect x="256.6" y="399.8" width="2.65" height="2.65" fill="#ff7700"/>
<rect x="256.6" y="402.2" width="2.65" height="2.65" fill="#ffc800"/>
<rect x="256.6" y="404.8" width="2.65" height="2.65" fill="#deff21"/>
<rect x="256.6" y="407.2" width="2.65" height="2.65" fill="#a2ff5d"/>
<rect x="256.6" y="409.8" width="2.65" height="2.65" fill="#93ff6c"/>
<rect x="256.6" y="412.2" width="2.65" height="2.65" fill="#71ff8e"/>
<rect x="256.6" y="414.8" width="2.65" height="2.65" fill="#39ffc6"/>
<rect x="256.6" y="417.2" width="2.65" height="2.65" fill="#3dffc2"/>
<rect x="256.6" y="419.8" width="2.65" height="2.65" fill="#5effa1"/>
<rect x="256.6" y="422.2" width="2.65" height="2.65" fill="#6cff93"/>
<rect x="256.6" y="424.8" width="2.65" height="2.65" fill="#6cff93"/>
<rect x="256.6" y="427.2" width="2.65" height="2.65" fill="#66ff99"/>
<rect x="256.6" y="429.8" width="2.65" height="2.65" fill="#5bffa4"/>
<rect x="256.6" y="432.2" width="2.65" height="2.65" fill="#4fffb0"/>
<rect x="256.6" y="434.8" width="2.65" height="2.65" fill="#4effb1"/>
<rect x="256.6" y="437.2" width="2.65" height="2.65" fill="#5effa1"/>
<rect x="256.6" y="439.8" width="2.65" height="2.65" fill="#6cff93"/>
<rect x="256.6" y="442.2" width="2.65" height="2.65" fill="#71ff8e"/>
<rect x="256.6" y="444.8" width="2.65" height="2.65" fill="#73ff8c"/>
<rect x="256.6" y="447.2" width="2.65" height="2.65" fill="#75ff8a"/>
<rect x="259.1" y="389.8" width="2.65" height="2.65" fill="#ff3800"/>
<rect x="259.1" y="392.2" width="2.65" height="2.65" fill="#ff2e00"/>
<rect x="259.1" y="394.8" width="2.65" height="2.65" fill="#ff3400"/>
<rect x="259.1" y="397.2" width="2.65" height="2.65" fill="#ff5800"/>
<rect x="259.1" y="399.8" width="2.65" height="2.65" fill="#ff9a00"/>
<rect x="259.1" y="402.2" width="2.65" height="2.65" fill="#fff000"/>
<rect x="259.1" y="404.8" width="2.65" height="2.65" fill="#abff54"/>
<rect x="259.1" y="407.2" width="2.65" height="2.65" fill="#6bff94"/>
<rect x="259.1" y="409.8" width="2.65" height="2.65" fill="#77ff88"/>
<rect x="259.1" y="412.2" width="2.65" height="2.65" fill="#75ff8a"/>
<rect x="259.1" y="414.8" width="2.65" height="2.65" fill="#52ffad"/>
<rect x="259.1" y="417.2" width="2.65" height="2.65" fill="#4fffb0"/>
<rect x="259.1" y="419.8" width="2.65" height="2.65" fill="#5cffa3"/>
<rect x="259.1" y="422.2" width="2.65" height="2.65" fill="#5bffa4"/>
<rect x="259.1" y="424.8" width="2.65" height="2.65" fill="#55ffaa"/>
<rect x="259.1" y="427.2" width="2.65" height="2.65" fill="#52ffad"/>
<rect x="259.1" y="429.8" width="2.65" height="2.65" fill="#4cffb3"/>
<rect x="259.1" y="432.2" width="2.65" height="2.65" fill="#3effc1"/>
<rect x="259.1" y="434.8" width="2.65" height="2.65" fill="#3dffc2"/>
<rect x="259.1" y="437.2" width="2.65" height="2.65" fill="#4fffb0"/>
<rect x="259.1" y="439.8" width="2.65" height="2.65" fill="#61ff9e"/>
<rect x="259.1" y="442.2" width="2.65" height="2.65" fill="#6aff95"/>
<rect x="259.1" y="444.8" width="2.65" height="2.65" fill="#6fff90"/>
<rect x="259.1" y="447.2" width="2.65" height="2.65" fill="#72ff8d"/>
<rect x="259.1" y="449.8" width="2.65" height="2.65" fill="#75ff8a"/>
<rect x="261.6" y="389.8" width="2.65" height="2.65" fill="#ff2100"/>
<rect x="261.6" y="392.2" width="2.65" height="2.65" fill="#ff1300"/>
<rect x="261.6" y="394.8" width="2.65" height="2.65" fill="#ff3c00"/>
<rect x="261.6" y="397.2" width="2.65" height="2.65" fill="#ff7500"/>
<rect x="261.6" y="399.8" width="2.65" height="2.65" fill="#ffb700"/>
<rect x="261.6" y="402.2" width="2.65" height="2.65" fill="#fdff02"/>
<rect x="261.6" y="404.8" width="2.65" height="2.65" fill="#afff50"/>
<rect x="261.6" y="407.2" width="2.65" height="2.65" fill="#7bff84"/>
<rect x="261.6" y="409.8" width="2.65" height="2.65" fill="#7fff80"/>
<rect x="261.6" y="412.2" width="2.65" height="2.65" fill="#81ff7e"/>
<rect x="261.6" y="414.8" width="2.65" height="2.65" fill="#71ff8e"/>
<rect x="261.6" y="417.2" width="2.65" height="2.65" fill="#65ff9a"/>
<rect x="261.6" y="419.8" width="2.65" height="2.65" fill="#58ffa7"/>
<rect x="261.6" y="422.2" width="2.65" height="2.65" fill="#40ffbf"/>
<rect x="261.6" y="424.8" width="2.65" height="2.65" fill="#2fffd0"/>
<rect x="261.6" y="427.2" width="2.65" height="2.65" fill="#38ffc7"/>
<rect x="261.6" y="429.8" width="2.65" height="2.65" fill="#45ffba"/>
<rect x="261.6" y="432.2" width="2.65" height="2.65" fill="#41ffbe"/>
<rect x="261.6" y="434.8" width="2.65" height="2.65" fill="#41ffbe"/>
<rect x="261.6" y="437.2" width="2.65" height="2.65" fill="#4fffb0"/>
<rect x="261.6" y="439.8" width="2.65" height="2.65" fill="#5dffa2"/>
<rect x="261.6" y="442.2" width="2.65" height="2.65" fill="#66ff99"/>
<rect x="261.6" y="444.8" width="2.65" height="2.65" fill="#6bff94"/>
<rect x="261.6" y="447.2" width="2.65" height="2.65" fill="#6eff91"/>
<rect x="261.6" y="449.8" width="2.65" height="2.65" fill="#71ff8e"/>
<rect x="264.1" y="389.8" width="2.65" height="2.65" fill="#ff2600"/>
<rect x="264.1" y="392.2" width="2.65" height="2.65" fill="#ff1900"/>
<rect x="264.1" y="394.8" width="2.65" height="2.65" fill="#ff4600"/>
<rect x="264.1" y="397.2" width="2.65" height="2.65" fill="#ff8900"/>
<rect x="264.1" y="399.8" width="2.65" height="2.65" fill="#ffcb00"/>
<rect x="264.1" y="402.2" width="2.65" height="2.65" fill="#f9ff06"/>
<rect x="264.1" y="404.8" width="2.65" height="2.65" fill="#c7ff38"/>
<rect x="264.1" y="407.2" width="2.65" height="2.65" fill="#a4ff5b"/>
<rect x="264.1" y="409.8" width="2.65" height="2.65" fill="#95ff6a"/>
<rect x="264.1" y="412.2" width="2.65" height="2.65" fill="#89ff76"/>
<rect x="264.1" y="414.8" width="2.65" height="2.65" fill="#7bff84"/>
<rect x="264.1" y="417.2" width="2.65" height="2.65" fill="#69ff96"/>
<rect x="264.1" y="419.8" width="2.65" height="2.65" fill="#4cffb3"/>
<rect x="264.1" y="422.2" width="2.65" height="2.65" fill="#1affe5"/>
<rect x="264.1" y="424.8" width="2.65" height="2.65" fill="#00faff"/>
<rect x="264.1" y="427.2" width="2.65" height="2.65" fill="#16ffe9"/>
<rect x="264.1" y="429.8" width="2.65" height="2.65" fill="#3cffc3"/>
<rect x="264.1" y="432.2" width="2.65" height="2.65" fill="#49ffb6"/>
<rect x="264.1" y="434.8" width="2.65" height="2.65" fill="#4effb1"/>
<rect x="264.1" y="437.2" width="2.65" height="2.65" fill="#55ffaa"/>
<rect x="264.1" y="439.8" width="2.65" height="2.65" fill="#5dffa2"/>
<rect x="264.1" y="442.2" width="2.65" height="2.65" fill="#63ff9c"/>
<rect x="264.1" y="444.8" width="2.65" height="2.65" fill="#68ff97"/>
<rect x="264.1" y="447.2" width="2.65" height="2.65" fill="#6bff94"/>
<rect x="264.1" y="449.8" width="2.65" height="2.65" fill="#6eff91"/>
<rect x="266.6" y="387.2" width="2.65" height="2.65" fill="#ff4900"/>
<rect x="266.6" y="389.8" width="2.65" height="2.65" fill="#ff3500"/>
<rect x="266.6" y="392.2" width="2.65" height="2.65" fill="#ff3a00"/>
<rect x="266.6" y="394.8" width="2.65" height="2.65" fill="#ff6200"/>
<rect x="266.6" y="397.2" width="2.65" height="2.65" fill="#ffa300"/>
<rect x="266.6" y="399.8" width="2.65" height="2.65" fill="#ffe300"/>
<rect x="266.6" y="402.2" width="2.65" height="2.65" fill="#ecff13"/>
<rect x="266.6" y="404.8" width="2.65" height="2.65" fill="#cdff32"/>
<rect x="266.6" y="407.2" width="2.65" height="2.65" fill="#b3ff4c"/>
<rect x="266.6" y="409.8" width="2.65" height="2.65" fill="#9bff64"/>
<rect x="266.6" y="412.2" width="2.65" height="2.65" fill="#86ff79"/>
<rect x="266.6" y="414.8" width="2.65" height="2.65" fill="#76ff89"/>
<rect x="266.6" y="417.2" width="2.65" height="2.65" fill="#68ff97"/>
<rect x="266.6" y="419.8" width="2.65" height="2.65" fill="#4affb5"/>
<rect x="266.6" y="422.2" width="2.65" height="2.65" fill="#14ffeb"/>
<rect x="266.6" y="424.8" width="2.65" height="2.65" fill="#00f0ff"/>
<rect x="266.6" y="427.2" width="2.65" height="2.65" fill="#10ffef"/>
<rect x="266.6" y="429.8" width="2.65" height="2.65" fill="#3cffc3"/>
<rect x="266.6" y="432.2" width="2.65" height="2.65" fill="#4effb1"/>
<rect x="266.6" y="434.8" width="2.65" height="2.65" fill="#53ffac"/>
<rect x="266.6" y="437.2" width="2.65" height="2.65" fill="#55ffaa"/>
<rect x="266.6" y="439.8" width="2.65" height="2.65" fill="#5bffa4"/>
<rect x="266.6" y="442.2" width="2.65" height="2.65" fill="#61ff9e"/>
<rect x="266.6" y="444.8" width="2.65" height="2.65" fill="#65ff9a"/>
<rect x="266.6" y="447.2" width="2.65" height="2.65" fill="#67ff98"/>
<rect x="266.6" y="449.8" width="2.65" height="2.65" fill="#6aff95"/>
<rect x="266.6" y="452.2" width="2.65" height="2.65" fill="#6eff91"/>
<rect x="269.1" y="387.2" width="2.65" height="2.65" fill="#ff4c00"/>
<rect x="269.1" y="389.8" width="2.65" height="2.65" fill="#ff2d00"/>
<rect x="269.1" y="392.2" width="2.65" height="2.65" fill="#ff3600"/>
<rect x="269.1" y="394.8" width="2.65" height="2.65" fill="#ff7300"/>
<rect x="269.1" y="397.2" width="2.65" height="2.65" fill="#ffbd00"/>
<rect x="269.1" y="399.8" width="2.65" height="2.65" fill="#faff05"/>
<rect x="269.1" y="402.2" width="2.65" height="2.65" fill="#d1ff2e"/>
<rect x="269.1" y="404.8" width="2.65" height="2.65" fill="#c6ff39"/>
<rect x="269.1" y="407.2" width="2.65" height="2.65" fill="#b2ff4d"/>
<rect x="269.1" y="409.8" width="2.65" height="2.65" fill="#94ff6b"/>
<rect x="269.1" y="412.2" width="2.65" height="2.65" fill="#76ff89"/>
<rect x="269.1" y="414.8" width="2.65" height="2.65" fill="#66ff99"/>
<rect x="269.1" y="417.2" width="2.65" height="2.65" fill="#64ff9b"/>
<rect x="269.1" y="419.8" width="2.65" height="2.65" fill="#57ffa8"/>
<rect x="269.1" y="422.2" width="2.65" height="2.65" fill="#38ffc7"/>
<rect x="269.1" y="424.8" width="2.65" height="2.65" fill="#23ffdc"/>
<rect x="269.1" y="427.2" width="2.65" height="2.65" fill="#33ffcc"/>
<rect x="269.1" y="429.8" width="2.65" height="2.65" fill="#4bffb4"/>
<rect x="269.1" y="432.2" width="2.65" height="2.65" fill="#54ffab"/>
<rect x="269.1" y="434.8" width="2.65" height="2.65" fill="#50ffaf"/>
<rect x="269.1" y="437.2" width="2.65" height="2.65" fill="#4dffb2"/>
<rect x="269.1" y="439.8" width="2.65" height="2.65" fill="#55ffaa"/>
<rect x="269.1" y="442.2" width="2.65" height="2.65" fill="#5fffa0"/>
<rect x="269.1" y="444.8" width="2.65" height="2.65" fill="#62ff9d"/>
<rect x="269.1" y="447.2" width="2.65" height="2.65" fill="#63ff9c"/>
<rect x="269.1" y="449.8" width="2.65" height="2.65" fill="#66ff99"/>
<rect x="269.1" y="452.2" width="2.65" height="2.65" fill="#6bff94"/>
<rect x="271.6" y="387.2" width="2.65" height="2.65" fill="#ff6200"/>
<rect x="271.6" y="389.8" width="2.65" height="2.65" fill="#ff5100"/>
<rect x="271.6" y="392.2" width="2.65" height="2.65" fill="#ff5d00"/>
<rect x="271.6" y="394.8" width="2.65" height="2.65" fill="#ff8b00"/>
<rect x="271.6" y="397.2" width="2.65" height="2.65" fill="#ffce00"/>
<rect x="271.6" y="399.8" width="2.65" height="2.65" fill="#e5ff1a"/>
<rect x="271.6" y="402.2" width="2.65" height="2.65" fill="#c0ff3f"/>
<rect x="271.6" y="404.8" width="2.65" height="2.65" fill="#bfff40"/>
<rect x="271.6" y="407.2" width="2.65" height="2.65" fill="#abff54"/>
<rect x="271.6" y="409.8" width="2.65" height="2.65" fill="#88ff77"/>
<rect x="271.6" y="412.2" width="2.65" height="2.65" fill="#68ff97"/>
<rect x="271.6" y="414.8" width="2.65" height="2.65" fill="#59ffa6"/>
<rect x="271.6" y="417.2" width="2.65" height="2.65" fill="#60ff9f"/>
<rect x="271.6" y="419.8" width="2.65" height="2.65" fill="#62ff9d"/>
<rect x="271.6" y="422.2" width="2.65" height="2.65" fill="#58ffa7"/>
<rect x="271.6" y="424.8" width="2.65" height="2.65" fill="#51ffae"/>
<rect x="271.6" y="427.2" width="2.65" height="2.65" fill="#57ffa8"/>
<rect x="271.6" y="429.8" width="2.65" height="2.65" fill="#60ff9f"/>
<rect x="271.6" y="432.2" width="2.65" height="2.65" fill="#5dffa2"/>
<rect x="271.6" y="434.8" width="2.65" height="2.65" fill="#4cffb3"/>
<rect x="271.6" y="437.2" width="2.65" height="2.65" fill="#44ffbb"/>
<rect x="271.6" y="439.8" width="2.65" height="2.65" fill="#50ffaf"/>
<rect x="271.6" y="442.2" width="2.65" height="2.65" fill="#5effa1"/>
<rect x="271.6" y="444.8" width="2.65" height="2.65" fill="#62ff9d"/>
<rect x="271.6" y="447.2" width="2.65" height="2.65" fill="#61ff9e"/>
<rect x="271.6" y="449.8" width="2.65" height="2.65" fill="#64ff9b"/>
<rect x="271.6" y="452.2" width="2.65" height="2.65" fill="#6aff95"/>
<rect x="274.1" y="387.2" width="2.65" height="2.65" fill="#ff7c00"/>
<rect x="274.1" y="389.8" width="2.65" height="2.65" fill="#ff7400"/>
<rect x="274.1" y="392.2" width="2.65" height="2.65" fill="#ff7300"/>
<rect x="274.1" y="394.8" width="2.65" height="2.65" fill="#ff8c00"/>
<rect x="274.1" y="397.2" width="2.65" height="2.65" fill="#ffca00"/>
<rect x="274.1" y="399.8" width="2.65" height="2.65" fill="#efff10"/>
<rect x="274.1" y="402.2" width="2.65" height="2.65" fill="#caff35"/>
<rect x="274.1" y="404.8" width="2.65" height="2.65" fill="#bcff43"/>
<rect x="274.1" y="407.2" width="2.65" height="2.65" fill="#9eff61"/>
<rect x="274.1" y="409.8" width="2.65" height="2.65" fill="#77ff88"/>
<rect x="274.1" y="412.2" width="2.65" height="2.65" fill="#63ff9c"/>
<rect x="274.1" y="414.8" width="2.65" height="2.65" fill="#60ff9f"/>
<rect x="274.1" y="417.2" width="2.65" height="2.65" fill="#65ff9a"/>
<rect x="274.1" y="419.8" width="2.65" height="2.65" fill="#69ff96"/>
<rect x="274.1" y="422.2" width="2.65" height="2.65" fill="#68ff97"/>
<rect x="274.1" y="424.8" width="2.65" height="2.65" fill="#67ff98"/>
<rect x="274.1" y="427.2" width="2.65" height="2.65" fill="#6dff92"/>
<rect x="274.1" y="429.8" width="2.65" height="2.65" fill="#74ff8b"/>
<rect x="274.1" y="432.2" width="2.65" height="2.65" fill="#6fff90"/>
<rect x="274.1" y="434.8" width="2.65" height="2.65" fill="#59ffa6"/>
<rect x="274.1" y="437.2" width="2.65" height="2.65" fill="#4fffb0"/>
<rect x="274.1" y="439.8" width="2.65" height="2.65" fill="#57ffa8"/>
<rect x="274.1" y="442.2" width="2.65" height="2.65" fill="#60ff9f"/>
<rect x="274.1" y="444.8" width="2.65" height="2.65" fill="#63ff9c"/>
<rect x="274.1" y="447.2" width="2.65" height="2.65" fill="#63ff9c"/>
<rect x="274.1" y="449.8" width="2.65" height="2.65" fill="#66ff99"/>
<rect x="274.1" y="452.2" width="2.65" height="2.65" fill="#6bff94"/>
<rect x="276.6" y="387.2" width="2.65" height="2.65" fill="#ff8c00"/>
<rect x="276.6" y="389.8" width="2.65" height="2.65" fill="#ff7900"/>
<rect x="276.6" y="392.2" width="2.65" height="2.65" fill="#ff6500"/>
<rect x="276.6" y="394.8" width="2.65" height="2.65" fill="#ff7a00"/>
<rect x="276.6" y="397.2" width="2.65" height="2.65" fill="#ffc100"/>
<rect x="276.6" y="399.8" width="2.65" height="2.65" fill="#fcff03"/>
<rect x="276.6" y="402.2" width="2.65" height="2.65" fill="#d3ff2c"/>
<rect x="276.6" y="404.8" width="2.65" height="2.65" fill="#b5ff4a"/>
<rect x="276.6" y="407.2" width="2.65" height="2.65" fill="#8eff71"/>
<rect x="276.6" y="409.8" width="2.65" height="2.65" fill="#5affa5"/>
<rect x="276.6" y="412.2" width="2.65" height="2.65" fill="#45ffba"/>
<rect x="276.6" y="414.8" width="2.65" height="2.65" fill="#5cffa3"/>
<rect x="276.6" y="417.2" width="2.65" height="2.65" fill="#69ff96"/>
<rect x="276.6" y="419.8" width="2.65" height="2.65" fill="#6eff91"/>
<rect x="276.6" y="422.2" width="2.65" height="2.65" fill="#6fff90"/>
<rect x="276.6" y="424.8" width="2.65" height="2.65" fill="#71ff8e"/>
<rect x="276.6" y="427.2" width="2.65" height="2.65" fill="#76ff89"/>
<rect x="276.6" y="429.8" width="2.65" height="2.65" fill="#7dff82"/>
<rect x="276.6" y="432.2" width="2.65" height="2.65" fill="#7bff84"/>
<rect x="276.6" y="434.8" width="2.65" height="2.65" fill="#6cff93"/>
<rect x="276.6" y="437.2" width="2.65" height="2.65" fill="#62ff9d"/>
<rect x="276.6" y="439.8" width="2.65" height="2.65" fill="#63ff9c"/>
<rect x="276.6" y="442.2" width="2.65" height="2.65" fill="#66ff99"/>
<rect x="276.6" y="444.8" width="2.65" height="2.65" fill="#68ff97"/>
<rect x="276.6" y="447.2" width="2.65" height="2.65" fill="#68ff97"/>
<rect x="276.6" y="449.8" width="2.65" height="2.65" fill="#6bff94"/>
<rect x="276.6" y="452.2" width="2.65" height="2.65" fill="#6fff90"/>
<rect x="279.1" y="389.8" width="2.65" height="2.65" fill="#ff8a00"/>
<rect x="279.1" y="392.2" width="2.65" height="2.65" fill="#ff7c00"/>
<rect x="279.1" y="394.8" width="2.65" height="2.65" fill="#ff9300"/>
<rect x="279.1" y="397.2" width="2.65" height="2.65" fill="#ffcd00"/>
<rect x="279.1" y="399.8" width="2.65" height="2.65" fill="#faff05"/>
<rect x="279.1" y="402.2" width="2.65" height="2.65" fill="#d0ff2f"/>
<rect x="279.1" y="404.8" width="2.65" height="2.65" fill="#b0ff4f"/>
<rect x="279.1" y="407.2" width="2.65" height="2.65" fill="#8fff70"/>
<rect x="279.1" y="409.8" width="2.65" height="2.65" fill="#5fffa0"/>
<rect x="279.1" y="412.2" width="2.65" height="2.65" fill="#4bffb4"/>
<rect x="279.1" y="414.8" width="2.65" height="2.65" fill="#5fffa0"/>
<rect x="279.1" y="417.2" width="2.65" height="2.65" fill="#6bff94"/>
<rect x="279.1" y="419.8" width="2.65" height="2.65" fill="#71ff8e"/>
<rect x="279.1" y="422.2" width="2.65" height="2.65" fill="#72ff8d"/>
<rect x="279.1" y="424.8" width="2.65" height="2.65" fill="#73ff8c"/>
<rect x="279.1" y="427.2" width="2.65" height="2.65" fill="#76ff89"/>
<rect x="279.1" y="429.8" width="2.65" height="2.65" fill="#7aff85"/>
<rect x="279.1" y="432.2" width="2.65" height="2.65" fill="#79ff86"/>
<rect x="279.1" y="434.8" width="2.65" height="2.65" fill="#72ff8d"/>
<rect x="279.1" y="437.2" width="2.65" height="2.65" fill="#6eff91"/>
<rect x="279.1" y="439.8" width="2.65" height="2.65" fill="#6dff92"/>
<rect x="279.1" y="442.2" width="2.65" height="2.65" fill="#6eff91"/>
<rect x="279.1" y="444.8" width="2.65" height="2.65" fill="#6eff91"/>
<rect x="279.1" y="447.2" width="2.65" height="2.65" fill="#6fff90"/>
<rect x="279.1" y="449.8" width="2.65" height="2.65" fill="#71ff8e"/>
<rect x="281.6" y="389.8" width="2.65" height="2.65" fill="#ffaa00"/>
<rect x="281.6" y="392.2" width="2.65" height="2.65" fill="#ffab00"/>
<rect x="281.6" y="394.8" width="2.65" height="2.65" fill="#ffbf00"/>
<rect x="281.6" y="397.2" width="2.65" height="2.65" fill="#ffe100"/>
<rect x="281.6" y="399.8" width="2.65" height="2.65" fill="#f5ff0a"/>
<rect x="281.6" y="402.2" width="2.65" height="2.65" fill="#c8ff37"/>
<rect x="281.6" y="404.8" width="2.65" height="2.65" fill="#a8ff57"/>
<rect x="281.6" y="407.2" width="2.65" height="2.65" fill="#9cff63"/>
<rect x="281.6" y="409.8" width="2.65" height="2.65" fill="#80ff7f"/>
<rect x="281.6" y="412.2" width="2.65" height="2.65" fill="#6aff95"/>
<rect x="281.6" y="414.8" width="2.65" height="2.65" fill="#64ff9b"/>
<rect x="281.6" y="417.2" width="2.65" height="2.65" fill="#6aff95"/>
<rect x="281.6" y="419.8" width="2.65" height="2.65" fill="#71ff8e"/>
<rect x="281.6" y="422.2" width="2.65" height="2.65" fill="#71ff8e"/>
<rect x="281.6" y="424.8" width="2.65" height="2.65" fill="#6eff91"/>
<rect x="281.6" y="427.2" width="2.65" height="2.65" fill="#6fff90"/>
<rect x="281.6" y="429.8" width="2.65" height="2.65" fill="#73ff8c"/>
<rect x="281.6" y="432.2" width="2.65" height="2.65" fill="#75ff8a"/>
<rect x="281.6" y="434.8" width="2.65" height="2.65" fill="#75ff8a"/>
<rect x="281.6" y="437.2" width="2.65" height="2.65" fill="#74ff8b"/>
<rect x="281.6" y="439.8" width="2.65" height="2.65" fill="#74ff8b"/>
<rect x="281.6" y="442.2" width="2.65" height="2.65" fill="#75ff8a"/>
<rect x="281.6" y="444.8" width="2.65" height="2.65" fill="#75ff8a"/>
<rect x="281.6" y="447.2" width="2.65" height="2.65" fill="#75ff8a"/>
<rect x="281.6" y="449.8" width="2.65" height="2.65" fill="#76ff89"/>
<rect x="284.1" y="389.8" width="2.65" height="2.65" fill="#ffc600"/>
<rect x="284.1" y="392.2" width="2.65" height="2.65" fill="#ffca00"/>
<rect x="284.1" y="394.8" width="2.65" height="2.65" fill="#ffd300"/>
<rect x="284.1" y="397.2" width="2.65" height="2.65" fill="#ffdc00"/>
<rect x="284.1" y="399.8" width="2.65" height="2.65" fill="#fffa00"/>
<rect x="284.1" y="402.2" width="2.65" height="2.65" fill="#cbff34"/>
<rect x="284.1" y="404.8" width="2.65" height="2.65" fill="#a3ff5c"/>
<rect x="284.1" y="407.2" width="2.65" height="2.65" fill="#a0ff5f"/>
<rect x="284.1" y="409.8" width="2.65" height="2.65" fill="#92ff6d"/>
<rect x="284.1" y="412.2" width="2.65" height="2.65" fill="#76ff89"/>
<rect x="284.1" y="414.8" width="2.65" height="2.65" fill="#67ff98"/>
<rect x="284.1" y="417.2" width="2.65" height="2.65" fill="#6eff91"/>
<rect x="284.1" y="419.8" width="2.65" height="2.65" fill="#72ff8d"/>
<rect x="284.1" y="422.2" width="2.65" height="2.65" fill="#6aff95"/>
<rect x="284.1" y="424.8" width="2.65" height="2.65" fill="#5fffa0"/>
<rect x="284.1" y="427.2" width="2.65" height="2.65" fill="#60ff9f"/>
<rect x="284.1" y="429.8" width="2.65" height="2.65" fill="#6aff95"/>
<rect x="284.1" y="432.2" width="2.65" height="2.65" fill="#72ff8d"/>
<rect x="284.1" y="434.8" width="2.65" height="2.65" fill="#77ff88"/>
<rect x="284.1" y="437.2" width="2.65" height="2.65" fill="#79ff86"/>
<rect x="284.1" y="439.8" width="2.65" height="2.65" fill="#7aff85"/>
<rect x="284.1" y="442.2" width="2.65" height="2.65" fill="#7bff84"/>
<rect x="284.1" y="444.8" width="2.65" height="2.65" fill="#7bff84"/>
<rect x="284.1" y="447.2" width="2.65" height="2.65" fill="#7bff84"/>
<rect x="284.1" y="449.8" width="2.65" height="2.65" fill="#7bff84"/>
<rect x="286.6" y="392.2" width="2.65" height="2.65" fill="#ffd600"/>
<rect x="286.6" y="394.8" width="2.65" height="2.65" fill="#ffcf00"/>
<rect x="286.6" y="397.2" width="2.65" height="2.65" fill="#ffc400"/>
<rect x="286.6" y="399.8" width="2.65" height="2.65" fill="#ffd800"/>
<rect x="286.6" y="402.2" width="2.65" height="2.65" fill="#e5ff1a"/>
<rect x="286.6" y="404.8" width="2.65" height="2.65" fill="#b8ff47"/>
<rect x="286.6" y="407.2" width="2.65" height="2.65" fill="#acff53"/>
<rect x="286.6" y="409.8" width="2.65" height="2.65" fill="#a1ff5e"/>
<rect x="286.6" y="412.2" width="2.65" height="2.65" fill="#8cff73"/>
<rect x="286.6" y="414.8" width="2.65" height="2.65" fill="#7dff82"/>
<rect x="286.6" y="417.2" width="2.65" height="2.65" fill="#7aff85"/>
<rect x="286.6" y="419.8" width="2.65" height="2.65" fill="#75ff8a"/>
<rect x="286.6" y="422.2" width="2.65" height="2.65" fill="#61ff9e"/>
<rect x="286.6" y="424.8" width="2.65" height="2.65" fill="#4affb5"/>
<rect x="286.6" y="427.2" width="2.65" height="2.65" fill="#4dffb2"/>
<rect x="286.6" y="429.8" width="2.65" height="2.65" fill="#61ff9e"/>
<rect x="286.6" y="432.2" width="2.65" height="2.65" fill="#71ff8e"/>
<rect x="286.6" y="434.8" width="2.65" height="2.65" fill="#79ff86"/>
<rect x="286.6" y="437.2" width="2.65" height="2.65" fill="#7dff82"/>
<rect x="286.6" y="439.8" width="2.65" height="2.65" fill="#7eff81"/>
<rect x="286.6" y="442.2" width="2.65" height="2.65" fill="#7fff80"/>
<rect x="286.6" y="444.8" width="2.65" height="2.65" fill="#7eff81"/>
<rect x="286.6" y="447.2" width="2.65" height="2.65" fill="#7eff81"/>
<rect x="289.1" y="392.2" width="2.65" height="2.65" fill="#ffdd00"/>
<rect x="289.1" y="394.8" width="2.65" height="2.65" fill="#ffd200"/>
<rect x="289.1" y="397.2" width="2.65" height="2.65" fill="#ffc500"/>
<rect x="289.1" y="399.8" width="2.65" height="2.65" fill="#ffd700"/>
<rect x="289.1" y="402.2" width="2.65" height="2.65" fill="#f6ff09"/>
<rect x="289.1" y="404.8" width="2.65" height="2.65" fill="#d3ff2c"/>
<rect x="289.1" y="407.2" width="2.65" height="2.65" fill="#c5ff3a"/>
<rect x="289.1" y="409.8" width="2.65" height="2.65" fill="#b9ff46"/>
<rect x="289.1" y="412.2" width="2.65" height="2.65" fill="#a6ff59"/>
<rect x="289.1" y="414.8" width="2.65" height="2.65" fill="#95ff6a"/>
<rect x="289.1" y="417.2" width="2.65" height="2.65" fill="#89ff76"/>
<rect x="289.1" y="419.8" width="2.65" height="2.65" fill="#7cff83"/>
<rect x="289.1" y="422.2" width="2.65" height="2.65" fill="#65ff9a"/>
<rect x="289.1" y="424.8" width="2.65" height="2.65" fill="#4dffb2"/>
<rect x="289.1" y="427.2" width="2.65" height="2.65" fill="#4fffb0"/>
<rect x="289.1" y="429.8" width="2.65" height="2.65" fill="#65ff9a"/>
<rect x="289.1" y="432.2" width="2.65" height="2.65" fill="#75ff8a"/>
<rect x="289.1" y="434.8" width="2.65" height="2.65" fill="#7cff83"/>
<rect x="289.1" y="437.2" width="2.65" height="2.65" fill="#7fff80"/>
<rect x="289.1" y="439.8" width="2.65" height="2.65" fill="#80ff7f"/>
<rect x="289.1" y="442.2" width="2.65" height="2.65" fill="#80ff7f"/>
<rect x="289.1" y="444.8" width="2.65" height="2.65" fill="#80ff7f"/>
<rect x="289.1" y="447.2" width="2.65" height="2.65" fill="#80ff7f"/>
<rect x="291.6" y="394.8" width="2.65" height="2.65" fill="#ffe100"/>
<rect x="291.6" y="397.2" width="2.65" height="2.65" fill="#ffdf00"/>
<rect x="291.6" y="399.8" width="2.65" height="2.65" fill="#ffee00"/>
<rect x="291.6" y="402.2" width="2.65" height="2.65" fill="#f4ff0b"/>
<rect x="291.6" y="404.8" width="2.65" height="2.65" fill="#e5ff1a"/>
<rect x="291.6" y="407.2" width="2.65" height="2.65" fill="#e4ff1b"/>
<rect x="291.6" y="409.8" width="2.65" height="2.65" fill="#d9ff26"/>
<rect x="291.6" y="412.2" width="2.65" height="2.65" fill="#c0ff3f"/>
<rect x="291.6" y="414.8" width="2.65" height="2.65" fill="#a9ff56"/>
<rect x="291.6" y="417.2" width="2.65" height="2.65" fill="#98ff67"/>
<rect x="291.6" y="419.8" width="2.65" height="2.65" fill="#8aff75"/>
<rect x="291.6" y="422.2" width="2.65" height="2.65" fill="#7aff85"/>
<rect x="291.6" y="424.8" width="2.65" height="2.65" fill="#6dff92"/>
<rect x="291.6" y="427.2" width="2.65" height="2.65" fill="#6dff92"/>
<rect x="291.6" y="429.8" width="2.65" height="2.65" fill="#76ff89"/>
<rect x="291.6" y="432.2" width="2.65" height="2.65" fill="#7eff81"/>
<rect x="291.6" y="434.8" width="2.65" height="2.65" fill="#81ff7e"/>
<rect x="291.6" y="437.2" width="2.65" height="2.65" fill="#81ff7e"/>
<rect x="291.6" y="439.8" width="2.65" height="2.65" fill="#80ff7f"/>
<rect x="291.6" y="442.2" width="2.65" height="2.65" fill="#80ff7f"/>
<rect x="291.6" y="444.8" width="2.65" height="2.65" fill="#81ff7e"/>
<rect x="294.1" y="397.2" width="2.65" height="2.65" fill="#fff600"/>
<rect x="294.1" y="399.8" width="2.65" height="2.65" fill="#fcff03"/>
<rect x="294.1" y="402.2" width="2.65" height="2.65" fill="#f0ff0f"/>
<rect x="294.1" y="404.8" width="2.65" height="2.65" fill="#efff10"/>
<rect x="294.1" y="407.2" width="2.65" height="2.65" fill="#f7ff08"/>
<rect x="294.1" y="409.8" width="2.65" height="2.65" fill="#efff10"/>
<rect x="294.1" y="412.2" width="2.65" height="2.65" fill="#d3ff2c"/>
<rect x="294.1" y="414.8" width="2.65" height="2.65" fill="#b8ff47"/>
<rect x="294.1" y="417.2" width="2.65" height="2.65" fill="#a5ff5a"/>
<rect x="294.1" y="419.8" width="2.65" height="2.65" fill="#9aff65"/>
<rect x="294.1" y="422.2" width="2.65" height="2.65" fill="#96ff69"/>
<rect x="294.1" y="424.8" width="2.65" height="2.65" fill="#96ff69"/>
<rect x="294.1" y="427.2" width="2.65" height="2.65" fill="#94ff6b"/>
<rect x="294.1" y="429.8" width="2.65" height="2.65" fill="#8fff70"/>
<rect x="294.1" y="432.2" width="2.65" height="2.65" fill="#8bff74"/>
<rect x="294.1" y="434.8" width="2.65" height="2.65" fill="#88ff77"/>
<rect x="294.1" y="437.2" width="2.65" height="2.65" fill="#85ff7a"/>
<rect x="294.1" y="439.8" width="2.65" height="2.65" fill="#83ff7c"/>
<rect x="294.1" y="442.2" width="2.65" height="2.65" fill="#83ff7c"/>
<rect x="296.6" y="399.8" width="2.65" height="2.65" fill="#f2ff0d"/>
<rect x="296.6" y="402.2" width="2.65" height="2.65" fill="#ecff13"/>
<rect x="296.6" y="404.8" width="2.65" height="2.65" fill="#eeff11"/>
<rect x="296.6" y="407.2" width="2.65" height="2.65" fill="#f4ff0b"/>
<rect x="296.6" y="409.8" width="2.65" height="2.65" fill="#edff12"/>
<rect x="296.6" y="412.2" width="2.65" height="2.65" fill="#d6ff29"/>
<rect x="296.6" y="414.8" width="2.65" height="2.65" fill="#bfff40"/>
<rect x="296.6" y="417.2" width="2.65" height="2.65" fill="#aeff51"/>
<rect x="296.6" y="419.8" width="2.65" height="2.65" fill="#a7ff58"/>
<rect x="296.6" y="422.2" width="2.65" height="2.65" fill="#abff54"/>
<rect x="296.6" y="424.8" width="2.65" height="2.65" fill="#b4ff4b"/>
<rect x="296.6" y="427.2" width="2.65" height="2.65" fill="#b2ff4d"/>
<rect x="296.6" y="429.8" width="2.65" height="2.65" fill="#a4ff5b"/>
<rect x="296.6" y="432.2" width="2.65" height="2.65" fill="#98ff67"/>
<rect x="296.6" y="434.8" width="2.65" height="2.65" fill="#90ff6f"/>
<rect x="296.6" y="437.2" width="2.65" height="2.65" fill="#8bff74"/>
<rect x="296.6" y="439.8" width="2.65" height="2.65" fill="#88ff77"/>
<rect x="299.1" y="402.2" width="2.65" height="2.65" fill="#e7ff18"/>
<rect x="299.1" y="404.8" width="2.65" height="2.65" fill="#e7ff18"/>
<rect x="299.1" y="407.2" width="2.65" height="2.65" fill="#e7ff18"/>
<rect x="299.1" y="409.8" width="2.65" height="2.65" fill="#e0ff1f"/>
<rect x="299.1" y="412.2" width="2.65" height="2.65" fill="#d1ff2e"/>
<rect x="299.1" y="414.8" width="2.65" height="2.65" fill="#c0ff3f"/>
<rect x="299.1" y="417.2" width="2.65" height="2.65" fill="#b3ff4c"/>
<rect x="299.1" y="419.8" width="2.65" height="2.65" fill="#aeff51"/>
<rect x="299.1" y="422.2" width="2.65" height="2.65" fill="#b3ff4c"/>
<rect x="299.1" y="424.8" width="2.65" height="2.65" fill="#bbff44"/>
<rect x="299.1" y="427.2" width="2.65" height="2.65" fill="#b9ff46"/>
<rect x="299.1" y="429.8" width="2.65" height="2.65" fill="#adff52"/>
<rect x="299.1" y="432.2" width="2.65" height="2.65" fill="#a0ff5f"/>
<rect x="299.1" y="434.8" width="2.65" height="2.65" fill="#97ff68"/>
<rect x="299.1" y="437.2" width="2.65" height="2.65" fill="#91ff6e"/>
<rect x="301.6" y="407.2" width="2.65" height="2.65" fill="#dcff23"/>
<rect x="301.6" y="409.8" width="2.65" height="2.65" fill="#d5ff2a"/>
<rect x="301.6" y="412.2" width="2.65" height="2.65" fill="#cbff34"/>
<rect x="301.6" y="414.8" width="2.65" height="2.65" fill="#bfff40"/>
<rect x="301.6" y="417.2" width="2.65" height="2.65" fill="#b5ff4a"/>
<rect x="301.6" y="419.8" width="2.65" height="2.65" fill="#b1ff4e"/>
<rect x="301.6" y="422.2" width="2.65" height="2.65" fill="#b3ff4c"/>
<rect x="301.6" y="424.8" width="2.65" height="2.65" fill="#b6ff49"/>
<rect x="301.6" y="427.2" width="2.65" height="2.65" fill="#b5ff4a"/>
<rect x="301.6" y="429.8" width="2.65" height="2.65" fill="#adff52"/>
<rect x="301.6" y="432.2" width="2.65" height="2.65" fill="#a4ff5b"/>
<rect x="304.1" y="414.8" width="2.65" height="2.65" fill="#beff41"/>
<rect x="304.1" y="417.2" width="2.65" height="2.65" fill="#b6ff49"/>
<rect x="304.1" y="419.8" width="2.65" height="2.65" fill="#b2ff4d"/>
<rect x="304.1" y="422.2" width="2.65" height="2.65" fill="#b1ff4e"/>
<rect x="304.1" y="424.8" width="2.65" height="2.65" fill="#b1ff4e"/>
</g></g>
<circle cx="272.85" cy="420.8" r="21.7" fill="none" stroke="#111" stroke-width="1.05"/>
<path d="M269.0,399.5 L271.2,396.5 Q272.9,395.4 274.5,396.5 L276.8,399.5" fill="none" stroke="#111" stroke-width="1.0"/>
<path d="M251.5,415.2 L249.4,416.2 Q248.8,420.8 249.4,425.6 L251.8,426.8" fill="none" stroke="#111" stroke-width="0.95"/>
<path d="M294.2,415.2 L296.4,416.2 Q296.9,420.8 296.4,425.6 L293.9,426.8" fill="none" stroke="#111" stroke-width="0.95"/>
<clipPath id="clipd"><circle cx="610.5" cy="421.4" r="29.0"/></clipPath>
<g clip-path="url(#clipd)"><g filter="url(#tb)">
<rect x="576.8" y="415.1" width="2.65" height="2.65" fill="#a8ff57"/>
<rect x="576.8" y="417.6" width="2.65" height="2.65" fill="#97ff68"/>
<rect x="576.8" y="420.1" width="2.65" height="2.65" fill="#82ff7d"/>
<rect x="576.8" y="422.6" width="2.65" height="2.65" fill="#71ff8e"/>
<rect x="576.8" y="425.1" width="2.65" height="2.65" fill="#6dff92"/>
<rect x="579.2" y="407.6" width="2.65" height="2.65" fill="#bcff43"/>
<rect x="579.2" y="410.1" width="2.65" height="2.65" fill="#b7ff48"/>
<rect x="579.2" y="412.6" width="2.65" height="2.65" fill="#b4ff4b"/>
<rect x="579.2" y="415.1" width="2.65" height="2.65" fill="#acff53"/>
<rect x="579.2" y="417.6" width="2.65" height="2.65" fill="#98ff67"/>
<rect x="579.2" y="420.1" width="2.65" height="2.65" fill="#79ff86"/>
<rect x="579.2" y="422.6" width="2.65" height="2.65" fill="#60ff9f"/>
<rect x="579.2" y="425.1" width="2.65" height="2.65" fill="#5fffa0"/>
<rect x="579.2" y="427.6" width="2.65" height="2.65" fill="#69ff96"/>
<rect x="579.2" y="430.1" width="2.65" height="2.65" fill="#68ff97"/>
<rect x="579.2" y="432.6" width="2.65" height="2.65" fill="#5cffa3"/>
<rect x="581.8" y="402.6" width="2.65" height="2.65" fill="#cfff30"/>
<rect x="581.8" y="405.1" width="2.65" height="2.65" fill="#c6ff39"/>
<rect x="581.8" y="407.6" width="2.65" height="2.65" fill="#bbff44"/>
<rect x="581.8" y="410.1" width="2.65" height="2.65" fill="#b4ff4b"/>
<rect x="581.8" y="412.6" width="2.65" height="2.65" fill="#b5ff4a"/>
<rect x="581.8" y="415.1" width="2.65" height="2.65" fill="#b3ff4c"/>
<rect x="581.8" y="417.6" width="2.65" height="2.65" fill="#a0ff5f"/>
<rect x="581.8" y="420.1" width="2.65" height="2.65" fill="#7dff82"/>
<rect x="581.8" y="422.6" width="2.65" height="2.65" fill="#5fffa0"/>
<rect x="581.8" y="425.1" width="2.65" height="2.65" fill="#5fffa0"/>
<rect x="581.8" y="427.6" width="2.65" height="2.65" fill="#69ff96"/>
<rect x="581.8" y="430.1" width="2.65" height="2.65" fill="#63ff9c"/>
<rect x="581.8" y="432.6" width="2.65" height="2.65" fill="#4bffb4"/>
<rect x="581.8" y="435.1" width="2.65" height="2.65" fill="#39ffc6"/>
<rect x="581.8" y="437.6" width="2.65" height="2.65" fill="#3bffc4"/>
<rect x="584.2" y="400.1" width="2.65" height="2.65" fill="#deff21"/>
<rect x="584.2" y="402.6" width="2.65" height="2.65" fill="#d6ff29"/>
<rect x="584.2" y="405.1" width="2.65" height="2.65" fill="#ccff33"/>
<rect x="584.2" y="407.6" width="2.65" height="2.65" fill="#c0ff3f"/>
<rect x="584.2" y="410.1" width="2.65" height="2.65" fill="#b7ff48"/>
<rect x="584.2" y="412.6" width="2.65" height="2.65" fill="#bbff44"/>
<rect x="584.2" y="415.1" width="2.65" height="2.65" fill="#bfff40"/>
<rect x="584.2" y="417.6" width="2.65" height="2.65" fill="#b1ff4e"/>
<rect x="584.2" y="420.1" width="2.65" height="2.65" fill="#95ff6a"/>
<rect x="584.2" y="422.6" width="2.65" height="2.65" fill="#7bff84"/>
<rect x="584.2" y="425.1" width="2.65" height="2.65" fill="#74ff8b"/>
<rect x="584.2" y="427.6" width="2.65" height="2.65" fill="#72ff8d"/>
<rect x="584.2" y="430.1" width="2.65" height="2.65" fill="#61ff9e"/>
<rect x="584.2" y="432.6" width="2.65" height="2.65" fill="#40ffbf"/>
<rect x="584.2" y="435.1" width="2.65" height="2.65" fill="#27ffd8"/>
<rect x="584.2" y="437.6" width="2.65" height="2.65" fill="#2dffd2"/>
<rect x="584.2" y="440.1" width="2.65" height="2.65" fill="#40ffbf"/>
<rect x="586.8" y="397.6" width="2.65" height="2.65" fill="#efff10"/>
<rect x="586.8" y="400.1" width="2.65" height="2.65" fill="#e7ff18"/>
<rect x="586.8" y="402.6" width="2.65" height="2.65" fill="#dfff20"/>
<rect x="586.8" y="405.1" width="2.65" height="2.65" fill="#d7ff28"/>
<rect x="586.8" y="407.6" width="2.65" height="2.65" fill="#d0ff2f"/>
<rect x="586.8" y="410.1" width="2.65" height="2.65" fill="#d0ff2f"/>
<rect x="586.8" y="412.6" width="2.65" height="2.65" fill="#d8ff27"/>
<rect x="586.8" y="415.1" width="2.65" height="2.65" fill="#d8ff27"/>
<rect x="586.8" y="417.6" width="2.65" height="2.65" fill="#c7ff38"/>
<rect x="586.8" y="420.1" width="2.65" height="2.65" fill="#b0ff4f"/>
<rect x="586.8" y="422.6" width="2.65" height="2.65" fill="#9cff63"/>
<rect x="586.8" y="425.1" width="2.65" height="2.65" fill="#8dff72"/>
<rect x="586.8" y="427.6" width="2.65" height="2.65" fill="#7fff80"/>
<rect x="586.8" y="430.1" width="2.65" height="2.65" fill="#69ff96"/>
<rect x="586.8" y="432.6" width="2.65" height="2.65" fill="#49ffb6"/>
<rect x="586.8" y="435.1" width="2.65" height="2.65" fill="#32ffcd"/>
<rect x="586.8" y="437.6" width="2.65" height="2.65" fill="#35ffca"/>
<rect x="586.8" y="440.1" width="2.65" height="2.65" fill="#43ffbc"/>
<rect x="586.8" y="442.6" width="2.65" height="2.65" fill="#4affb5"/>
<rect x="589.2" y="395.1" width="2.65" height="2.65" fill="#f8ff07"/>
<rect x="589.2" y="397.6" width="2.65" height="2.65" fill="#f6ff09"/>
<rect x="589.2" y="400.1" width="2.65" height="2.65" fill="#efff10"/>
<rect x="589.2" y="402.6" width="2.65" height="2.65" fill="#e7ff18"/>
<rect x="589.2" y="405.1" width="2.65" height="2.65" fill="#e2ff1d"/>
<rect x="589.2" y="407.6" width="2.65" height="2.65" fill="#e0ff1f"/>
<rect x="589.2" y="410.1" width="2.65" height="2.65" fill="#e9ff16"/>
<rect x="589.2" y="412.6" width="2.65" height="2.65" fill="#feff01"/>
<rect x="589.2" y="415.1" width="2.65" height="2.65" fill="#f9ff06"/>
<rect x="589.2" y="417.6" width="2.65" height="2.65" fill="#daff25"/>
<rect x="589.2" y="420.1" width="2.65" height="2.65" fill="#c3ff3c"/>
<rect x="589.2" y="422.6" width="2.65" height="2.65" fill="#b1ff4e"/>
<rect x="589.2" y="425.1" width="2.65" height="2.65" fill="#9eff61"/>
<rect x="589.2" y="427.6" width="2.65" height="2.65" fill="#8bff74"/>
<rect x="589.2" y="430.1" width="2.65" height="2.65" fill="#75ff8a"/>
<rect x="589.2" y="432.6" width="2.65" height="2.65" fill="#5fffa0"/>
<rect x="589.2" y="435.1" width="2.65" height="2.65" fill="#4effb1"/>
<rect x="589.2" y="437.6" width="2.65" height="2.65" fill="#49ffb6"/>
<rect x="589.2" y="440.1" width="2.65" height="2.65" fill="#48ffb7"/>
<rect x="589.2" y="442.6" width="2.65" height="2.65" fill="#44ffbb"/>
<rect x="589.2" y="445.1" width="2.65" height="2.65" fill="#40ffbf"/>
<rect x="591.8" y="392.6" width="2.65" height="2.65" fill="#f6ff09"/>
<rect x="591.8" y="395.1" width="2.65" height="2.65" fill="#f9ff06"/>
<rect x="591.8" y="397.6" width="2.65" height="2.65" fill="#f8ff07"/>
<rect x="591.8" y="400.1" width="2.65" height="2.65" fill="#f3ff0c"/>
<rect x="591.8" y="402.6" width="2.65" height="2.65" fill="#efff10"/>
<rect x="591.8" y="405.1" width="2.65" height="2.65" fill="#ecff13"/>
<rect x="591.8" y="407.6" width="2.65" height="2.65" fill="#ebff14"/>
<rect x="591.8" y="410.1" width="2.65" height="2.65" fill="#f1ff0e"/>
<rect x="591.8" y="412.6" width="2.65" height="2.65" fill="#fffb00"/>
<rect x="591.8" y="415.1" width="2.65" height="2.65" fill="#feff01"/>
<rect x="591.8" y="417.6" width="2.65" height="2.65" fill="#ddff22"/>
<rect x="591.8" y="420.1" width="2.65" height="2.65" fill="#d1ff2e"/>
<rect x="591.8" y="422.6" width="2.65" height="2.65" fill="#c2ff3d"/>
<rect x="591.8" y="425.1" width="2.65" height="2.65" fill="#a9ff56"/>
<rect x="591.8" y="427.6" width="2.65" height="2.65" fill="#92ff6d"/>
<rect x="591.8" y="430.1" width="2.65" height="2.65" fill="#7dff82"/>
<rect x="591.8" y="432.6" width="2.65" height="2.65" fill="#6aff95"/>
<rect x="591.8" y="435.1" width="2.65" height="2.65" fill="#5cffa3"/>
<rect x="591.8" y="437.6" width="2.65" height="2.65" fill="#52ffad"/>
<rect x="591.8" y="440.1" width="2.65" height="2.65" fill="#46ffb9"/>
<rect x="591.8" y="442.6" width="2.65" height="2.65" fill="#35ffca"/>
<rect x="591.8" y="445.1" width="2.65" height="2.65" fill="#2dffd2"/>
<rect x="591.8" y="447.6" width="2.65" height="2.65" fill="#32ffcd"/>
<rect x="594.2" y="392.6" width="2.65" height="2.65" fill="#f7ff08"/>
<rect x="594.2" y="395.1" width="2.65" height="2.65" fill="#f8ff07"/>
<rect x="594.2" y="397.6" width="2.65" height="2.65" fill="#f8ff07"/>
<rect x="594.2" y="400.1" width="2.65" height="2.65" fill="#f8ff07"/>
<rect x="594.2" y="402.6" width="2.65" height="2.65" fill="#f7ff08"/>
<rect x="594.2" y="405.1" width="2.65" height="2.65" fill="#f6ff09"/>
<rect x="594.2" y="407.6" width="2.65" height="2.65" fill="#f4ff0b"/>
<rect x="594.2" y="410.1" width="2.65" height="2.65" fill="#f0ff0f"/>
<rect x="594.2" y="412.6" width="2.65" height="2.65" fill="#efff10"/>
<rect x="594.2" y="415.1" width="2.65" height="2.65" fill="#e4ff1b"/>
<rect x="594.2" y="417.6" width="2.65" height="2.65" fill="#d7ff28"/>
<rect x="594.2" y="420.1" width="2.65" height="2.65" fill="#dfff20"/>
<rect x="594.2" y="422.6" width="2.65" height="2.65" fill="#ceff31"/>
<rect x="594.2" y="425.1" width="2.65" height="2.65" fill="#a7ff58"/>
<rect x="594.2" y="427.6" width="2.65" height="2.65" fill="#93ff6c"/>
<rect x="594.2" y="430.1" width="2.65" height="2.65" fill="#7dff82"/>
<rect x="594.2" y="432.6" width="2.65" height="2.65" fill="#66ff99"/>
<rect x="594.2" y="435.1" width="2.65" height="2.65" fill="#59ffa6"/>
<rect x="594.2" y="437.6" width="2.65" height="2.65" fill="#52ffad"/>
<rect x="594.2" y="440.1" width="2.65" height="2.65" fill="#40ffbf"/>
<rect x="594.2" y="442.6" width="2.65" height="2.65" fill="#22ffdd"/>
<rect x="594.2" y="445.1" width="2.65" height="2.65" fill="#17ffe8"/>
<rect x="594.2" y="447.6" width="2.65" height="2.65" fill="#23ffdc"/>
<rect x="596.8" y="390.1" width="2.65" height="2.65" fill="#f7ff08"/>
<rect x="596.8" y="392.6" width="2.65" height="2.65" fill="#f9ff06"/>
<rect x="596.8" y="395.1" width="2.65" height="2.65" fill="#faff05"/>
<rect x="596.8" y="397.6" width="2.65" height="2.65" fill="#fcff03"/>
<rect x="596.8" y="400.1" width="2.65" height="2.65" fill="#fffe00"/>
<rect x="596.8" y="402.6" width="2.65" height="2.65" fill="#fffb00"/>
<rect x="596.8" y="405.1" width="2.65" height="2.65" fill="#fffa00"/>
<rect x="596.8" y="407.6" width="2.65" height="2.65" fill="#fffb00"/>
<rect x="596.8" y="410.1" width="2.65" height="2.65" fill="#f8ff07"/>
<rect x="596.8" y="412.6" width="2.65" height="2.65" fill="#e7ff18"/>
<rect x="596.8" y="415.1" width="2.65" height="2.65" fill="#d5ff2a"/>
<rect x="596.8" y="417.6" width="2.65" height="2.65" fill="#c8ff37"/>
<rect x="596.8" y="420.1" width="2.65" height="2.65" fill="#cdff32"/>
<rect x="596.8" y="422.6" width="2.65" height="2.65" fill="#baff45"/>
<rect x="596.8" y="425.1" width="2.65" height="2.65" fill="#98ff67"/>
<rect x="596.8" y="427.6" width="2.65" height="2.65" fill="#91ff6e"/>
<rect x="596.8" y="430.1" width="2.65" height="2.65" fill="#78ff87"/>
<rect x="596.8" y="432.6" width="2.65" height="2.65" fill="#5affa5"/>
<rect x="596.8" y="435.1" width="2.65" height="2.65" fill="#4fffb0"/>
<rect x="596.8" y="437.6" width="2.65" height="2.65" fill="#50ffaf"/>
<rect x="596.8" y="440.1" width="2.65" height="2.65" fill="#40ffbf"/>
<rect x="596.8" y="442.6" width="2.65" height="2.65" fill="#20ffdf"/>
<rect x="596.8" y="445.1" width="2.65" height="2.65" fill="#14ffeb"/>
<rect x="596.8" y="447.6" width="2.65" height="2.65" fill="#21ffde"/>
<rect x="596.8" y="450.1" width="2.65" height="2.65" fill="#32ffcd"/>
<rect x="599.2" y="390.1" width="2.65" height="2.65" fill="#f8ff07"/>
<rect x="599.2" y="392.6" width="2.65" height="2.65" fill="#faff05"/>
<rect x="599.2" y="395.1" width="2.65" height="2.65" fill="#fcff03"/>
<rect x="599.2" y="397.6" width="2.65" height="2.65" fill="#fffb00"/>
<rect x="599.2" y="400.1" width="2.65" height="2.65" fill="#fff200"/>
<rect x="599.2" y="402.6" width="2.65" height="2.65" fill="#ffed00"/>
<rect x="599.2" y="405.1" width="2.65" height="2.65" fill="#ffeb00"/>
<rect x="599.2" y="407.6" width="2.65" height="2.65" fill="#ffea00"/>
<rect x="599.2" y="410.1" width="2.65" height="2.65" fill="#fff700"/>
<rect x="599.2" y="412.6" width="2.65" height="2.65" fill="#ebff14"/>
<rect x="599.2" y="415.1" width="2.65" height="2.65" fill="#ceff31"/>
<rect x="599.2" y="417.6" width="2.65" height="2.65" fill="#b8ff47"/>
<rect x="599.2" y="420.1" width="2.65" height="2.65" fill="#b6ff49"/>
<rect x="599.2" y="422.6" width="2.65" height="2.65" fill="#a9ff56"/>
<rect x="599.2" y="425.1" width="2.65" height="2.65" fill="#96ff69"/>
<rect x="599.2" y="427.6" width="2.65" height="2.65" fill="#8aff75"/>
<rect x="599.2" y="430.1" width="2.65" height="2.65" fill="#70ff8f"/>
<rect x="599.2" y="432.6" width="2.65" height="2.65" fill="#59ffa6"/>
<rect x="599.2" y="435.1" width="2.65" height="2.65" fill="#51ffae"/>
<rect x="599.2" y="437.6" width="2.65" height="2.65" fill="#51ffae"/>
<rect x="599.2" y="440.1" width="2.65" height="2.65" fill="#47ffb8"/>
<rect x="599.2" y="442.6" width="2.65" height="2.65" fill="#33ffcc"/>
<rect x="599.2" y="445.1" width="2.65" height="2.65" fill="#28ffd7"/>
<rect x="599.2" y="447.6" width="2.65" height="2.65" fill="#2dffd2"/>
<rect x="599.2" y="450.1" width="2.65" height="2.65" fill="#36ffc9"/>
<rect x="601.8" y="390.1" width="2.65" height="2.65" fill="#f6ff09"/>
<rect x="601.8" y="392.6" width="2.65" height="2.65" fill="#faff05"/>
<rect x="601.8" y="395.1" width="2.65" height="2.65" fill="#fffd00"/>
<rect x="601.8" y="397.6" width="2.65" height="2.65" fill="#ffee00"/>
<rect x="601.8" y="400.1" width="2.65" height="2.65" fill="#ffe000"/>
<rect x="601.8" y="402.6" width="2.65" height="2.65" fill="#ffda00"/>
<rect x="601.8" y="405.1" width="2.65" height="2.65" fill="#ffde00"/>
<rect x="601.8" y="407.6" width="2.65" height="2.65" fill="#ffe500"/>
<rect x="601.8" y="410.1" width="2.65" height="2.65" fill="#ffee00"/>
<rect x="601.8" y="412.6" width="2.65" height="2.65" fill="#f3ff0c"/>
<rect x="601.8" y="415.1" width="2.65" height="2.65" fill="#d3ff2c"/>
<rect x="601.8" y="417.6" width="2.65" height="2.65" fill="#bcff43"/>
<rect x="601.8" y="420.1" width="2.65" height="2.65" fill="#b3ff4c"/>
<rect x="601.8" y="422.6" width="2.65" height="2.65" fill="#a2ff5d"/>
<rect x="601.8" y="425.1" width="2.65" height="2.65" fill="#8aff75"/>
<rect x="601.8" y="427.6" width="2.65" height="2.65" fill="#6dff92"/>
<rect x="601.8" y="430.1" width="2.65" height="2.65" fill="#57ffa8"/>
<rect x="601.8" y="432.6" width="2.65" height="2.65" fill="#56ffa9"/>
<rect x="601.8" y="435.1" width="2.65" height="2.65" fill="#54ffab"/>
<rect x="601.8" y="437.6" width="2.65" height="2.65" fill="#52ffad"/>
<rect x="601.8" y="440.1" width="2.65" height="2.65" fill="#4bffb4"/>
<rect x="601.8" y="442.6" width="2.65" height="2.65" fill="#40ffbf"/>
<rect x="601.8" y="445.1" width="2.65" height="2.65" fill="#38ffc7"/>
<rect x="601.8" y="447.6" width="2.65" height="2.65" fill="#35ffca"/>
<rect x="601.8" y="450.1" width="2.65" height="2.65" fill="#36ffc9"/>
<rect x="604.2" y="387.6" width="2.65" height="2.65" fill="#ebff14"/>
<rect x="604.2" y="390.1" width="2.65" height="2.65" fill="#f0ff0f"/>
<rect x="604.2" y="392.6" width="2.65" height="2.65" fill="#f8ff07"/>
<rect x="604.2" y="395.1" width="2.65" height="2.65" fill="#fff500"/>
<rect x="604.2" y="397.6" width="2.65" height="2.65" fill="#ffdc00"/>
<rect x="604.2" y="400.1" width="2.65" height="2.65" fill="#ffc300"/>
<rect x="604.2" y="402.6" width="2.65" height="2.65" fill="#ffba00"/>
<rect x="604.2" y="405.1" width="2.65" height="2.65" fill="#ffbc00"/>
<rect x="604.2" y="407.6" width="2.65" height="2.65" fill="#ffc600"/>
<rect x="604.2" y="410.1" width="2.65" height="2.65" fill="#ffe100"/>
<rect x="604.2" y="412.6" width="2.65" height="2.65" fill="#fcff03"/>
<rect x="604.2" y="415.1" width="2.65" height="2.65" fill="#deff21"/>
<rect x="604.2" y="417.6" width="2.65" height="2.65" fill="#c6ff39"/>
<rect x="604.2" y="420.1" width="2.65" height="2.65" fill="#b1ff4e"/>
<rect x="604.2" y="422.6" width="2.65" height="2.65" fill="#98ff67"/>
<rect x="604.2" y="425.1" width="2.65" height="2.65" fill="#78ff87"/>
<rect x="604.2" y="427.6" width="2.65" height="2.65" fill="#4dffb2"/>
<rect x="604.2" y="430.1" width="2.65" height="2.65" fill="#35ffca"/>
<rect x="604.2" y="432.6" width="2.65" height="2.65" fill="#47ffb8"/>
<rect x="604.2" y="435.1" width="2.65" height="2.65" fill="#4dffb2"/>
<rect x="604.2" y="437.6" width="2.65" height="2.65" fill="#4dffb2"/>
<rect x="604.2" y="440.1" width="2.65" height="2.65" fill="#4affb5"/>
<rect x="604.2" y="442.6" width="2.65" height="2.65" fill="#42ffbd"/>
<rect x="604.2" y="445.1" width="2.65" height="2.65" fill="#37ffc8"/>
<rect x="604.2" y="447.6" width="2.65" height="2.65" fill="#2effd1"/>
<rect x="604.2" y="450.1" width="2.65" height="2.65" fill="#2cffd3"/>
<rect x="604.2" y="452.6" width="2.65" height="2.65" fill="#31ffce"/>
<rect x="606.8" y="387.6" width="2.65" height="2.65" fill="#e3ff1c"/>
<rect x="606.8" y="390.1" width="2.65" height="2.65" fill="#e2ff1d"/>
<rect x="606.8" y="392.6" width="2.65" height="2.65" fill="#e9ff16"/>
<rect x="606.8" y="395.1" width="2.65" height="2.65" fill="#fff600"/>
<rect x="606.8" y="397.6" width="2.65" height="2.65" fill="#ffc700"/>
<rect x="606.8" y="400.1" width="2.65" height="2.65" fill="#ff9a00"/>
<rect x="606.8" y="402.6" width="2.65" height="2.65" fill="#ff8d00"/>
<rect x="606.8" y="405.1" width="2.65" height="2.65" fill="#ff9e00"/>
<rect x="606.8" y="407.6" width="2.65" height="2.65" fill="#ffa700"/>
<rect x="606.8" y="410.1" width="2.65" height="2.65" fill="#ffd100"/>
<rect x="606.8" y="412.6" width="2.65" height="2.65" fill="#fffe00"/>
<rect x="606.8" y="415.1" width="2.65" height="2.65" fill="#e5ff1a"/>
<rect x="606.8" y="417.6" width="2.65" height="2.65" fill="#d1ff2e"/>
<rect x="606.8" y="420.1" width="2.65" height="2.65" fill="#b1ff4e"/>
<rect x="606.8" y="422.6" width="2.65" height="2.65" fill="#8bff74"/>
<rect x="606.8" y="425.1" width="2.65" height="2.65" fill="#6cff93"/>
<rect x="606.8" y="427.6" width="2.65" height="2.65" fill="#54ffab"/>
<rect x="606.8" y="430.1" width="2.65" height="2.65" fill="#42ffbd"/>
<rect x="606.8" y="432.6" width="2.65" height="2.65" fill="#42ffbd"/>
<rect x="606.8" y="435.1" width="2.65" height="2.65" fill="#3dffc2"/>
<rect x="606.8" y="437.6" width="2.65" height="2.65" fill="#42ffbd"/>
<rect x="606.8" y="440.1" width="2.65" height="2.65" fill="#45ffba"/>
<rect x="606.8" y="442.6" width="2.65" height="2.65" fill="#3dffc2"/>
<rect x="606.8" y="445.1" width="2.65" height="2.65" fill="#2bffd4"/>
<rect x="606.8" y="447.6" width="2.65" height="2.65" fill="#1affe5"/>
<rect x="606.8" y="450.1" width="2.65" height="2.65" fill="#18ffe7"/>
<rect x="606.8" y="452.6" width="2.65" height="2.65" fill="#24ffdb"/>
<rect x="609.2" y="387.6" width="2.65" height="2.65" fill="#dcff23"/>
<rect x="609.2" y="390.1" width="2.65" height="2.65" fill="#d6ff29"/>
<rect x="609.2" y="392.6" width="2.65" height="2.65" fill="#d6ff29"/>
<rect x="609.2" y="395.1" width="2.65" height="2.65" fill="#feff01"/>
<rect x="609.2" y="397.6" width="2.65" height="2.65" fill="#ffba00"/>
<rect x="609.2" y="400.1" width="2.65" height="2.65" fill="#ff7100"/>
<rect x="609.2" y="402.6" width="2.65" height="2.65" fill="#ff6000"/>
<rect x="609.2" y="405.1" width="2.65" height="2.65" fill="#ff7c00"/>
<rect x="609.2" y="407.6" width="2.65" height="2.65" fill="#ffab00"/>
<rect x="609.2" y="410.1" width="2.65" height="2.65" fill="#ffd100"/>
<rect x="609.2" y="412.6" width="2.65" height="2.65" fill="#feff01"/>
<rect x="609.2" y="415.1" width="2.65" height="2.65" fill="#e6ff19"/>
<rect x="609.2" y="417.6" width="2.65" height="2.65" fill="#dbff24"/>
<rect x="609.2" y="420.1" width="2.65" height="2.65" fill="#b3ff4c"/>
<rect x="609.2" y="422.6" width="2.65" height="2.65" fill="#7fff80"/>
<rect x="609.2" y="425.1" width="2.65" height="2.65" fill="#5cffa3"/>
<rect x="609.2" y="427.6" width="2.65" height="2.65" fill="#5cffa3"/>
<rect x="609.2" y="430.1" width="2.65" height="2.65" fill="#51ffae"/>
<rect x="609.2" y="432.6" width="2.65" height="2.65" fill="#37ffc8"/>
<rect x="609.2" y="435.1" width="2.65" height="2.65" fill="#28ffd7"/>
<rect x="609.2" y="437.6" width="2.65" height="2.65" fill="#37ffc8"/>
<rect x="609.2" y="440.1" width="2.65" height="2.65" fill="#40ffbf"/>
<rect x="609.2" y="442.6" width="2.65" height="2.65" fill="#38ffc7"/>
<rect x="609.2" y="445.1" width="2.65" height="2.65" fill="#20ffdf"/>
<rect x="609.2" y="447.6" width="2.65" height="2.65" fill="#0afff5"/>
<rect x="609.2" y="450.1" width="2.65" height="2.65" fill="#0afff5"/>
<rect x="609.2" y="452.6" width="2.65" height="2.65" fill="#1bffe4"/>
<rect x="611.8" y="387.6" width="2.65" height="2.65" fill="#d8ff27"/>
<rect x="611.8" y="390.1" width="2.65" height="2.65" fill="#d7ff28"/>
<rect x="611.8" y="392.6" width="2.65" height="2.65" fill="#dbff24"/>
<rect x="611.8" y="395.1" width="2.65" height="2.65" fill="#fcff03"/>
<rect x="611.8" y="397.6" width="2.65" height="2.65" fill="#ffc700"/>
<rect x="611.8" y="400.1" width="2.65" height="2.65" fill="#ff8a00"/>
<rect x="611.8" y="402.6" width="2.65" height="2.65" fill="#ff7800"/>
<rect x="611.8" y="405.1" width="2.65" height="2.65" fill="#ff9200"/>
<rect x="611.8" y="407.6" width="2.65" height="2.65" fill="#ffa700"/>
<rect x="611.8" y="410.1" width="2.65" height="2.65" fill="#ffc900"/>
<rect x="611.8" y="412.6" width="2.65" height="2.65" fill="#fffd00"/>
<rect x="611.8" y="415.1" width="2.65" height="2.65" fill="#e6ff19"/>
<rect x="611.8" y="417.6" width="2.65" height="2.65" fill="#d7ff28"/>
<rect x="611.8" y="420.1" width="2.65" height="2.65" fill="#b2ff4d"/>
<rect x="611.8" y="422.6" width="2.65" height="2.65" fill="#84ff7b"/>
<rect x="611.8" y="425.1" width="2.65" height="2.65" fill="#65ff9a"/>
<rect x="611.8" y="427.6" width="2.65" height="2.65" fill="#60ff9f"/>
<rect x="611.8" y="430.1" width="2.65" height="2.65" fill="#56ffa9"/>
<rect x="611.8" y="432.6" width="2.65" height="2.65" fill="#3fffc0"/>
<rect x="611.8" y="435.1" width="2.65" height="2.65" fill="#32ffcd"/>
<rect x="611.8" y="437.6" width="2.65" height="2.65" fill="#3bffc4"/>
<rect x="611.8" y="440.1" width="2.65" height="2.65" fill="#41ffbe"/>
<rect x="611.8" y="442.6" width="2.65" height="2.65" fill="#39ffc6"/>
<rect x="611.8" y="445.1" width="2.65" height="2.65" fill="#24ffdb"/>
<rect x="611.8" y="447.6" width="2.65" height="2.65" fill="#10ffef"/>
<rect x="611.8" y="450.1" width="2.65" height="2.65" fill="#10ffef"/>
<rect x="611.8" y="452.6" width="2.65" height="2.65" fill="#1effe1"/>
<rect x="614.2" y="387.6" width="2.65" height="2.65" fill="#d0ff2f"/>
<rect x="614.2" y="390.1" width="2.65" height="2.65" fill="#d2ff2d"/>
<rect x="614.2" y="392.6" width="2.65" height="2.65" fill="#d9ff26"/>
<rect x="614.2" y="395.1" width="2.65" height="2.65" fill="#ecff13"/>
<rect x="614.2" y="397.6" width="2.65" height="2.65" fill="#ffec00"/>
<rect x="614.2" y="400.1" width="2.65" height="2.65" fill="#ffc500"/>
<rect x="614.2" y="402.6" width="2.65" height="2.65" fill="#ffb600"/>
<rect x="614.2" y="405.1" width="2.65" height="2.65" fill="#ffbb00"/>
<rect x="614.2" y="407.6" width="2.65" height="2.65" fill="#ffb600"/>
<rect x="614.2" y="410.1" width="2.65" height="2.65" fill="#ffd600"/>
<rect x="614.2" y="412.6" width="2.65" height="2.65" fill="#feff01"/>
<rect x="614.2" y="415.1" width="2.65" height="2.65" fill="#e5ff1a"/>
<rect x="614.2" y="417.6" width="2.65" height="2.65" fill="#cfff30"/>
<rect x="614.2" y="420.1" width="2.65" height="2.65" fill="#b0ff4f"/>
<rect x="614.2" y="422.6" width="2.65" height="2.65" fill="#8dff72"/>
<rect x="614.2" y="425.1" width="2.65" height="2.65" fill="#73ff8c"/>
<rect x="614.2" y="427.6" width="2.65" height="2.65" fill="#63ff9c"/>
<rect x="614.2" y="430.1" width="2.65" height="2.65" fill="#58ffa7"/>
<rect x="614.2" y="432.6" width="2.65" height="2.65" fill="#4dffb2"/>
<rect x="614.2" y="435.1" width="2.65" height="2.65" fill="#46ffb9"/>
<rect x="614.2" y="437.6" width="2.65" height="2.65" fill="#45ffba"/>
<rect x="614.2" y="440.1" width="2.65" height="2.65" fill="#44ffbb"/>
<rect x="614.2" y="442.6" width="2.65" height="2.65" fill="#3dffc2"/>
<rect x="614.2" y="445.1" width="2.65" height="2.65" fill="#30ffcf"/>
<rect x="614.2" y="447.6" width="2.65" height="2.65" fill="#24ffdb"/>
<rect x="614.2" y="450.1" width="2.65" height="2.65" fill="#22ffdd"/>
<rect x="614.2" y="452.6" width="2.65" height="2.65" fill="#29ffd6"/>
<rect x="616.8" y="390.1" width="2.65" height="2.65" fill="#b8ff47"/>
<rect x="616.8" y="392.6" width="2.65" height="2.65" fill="#b3ff4c"/>
<rect x="616.8" y="395.1" width="2.65" height="2.65" fill="#bbff44"/>
<rect x="616.8" y="397.6" width="2.65" height="2.65" fill="#dbff24"/>
<rect x="616.8" y="400.1" width="2.65" height="2.65" fill="#ffff00"/>
<rect x="616.8" y="402.6" width="2.65" height="2.65" fill="#ffeb00"/>
<rect x="616.8" y="405.1" width="2.65" height="2.65" fill="#ffec00"/>
<rect x="616.8" y="407.6" width="2.65" height="2.65" fill="#fff500"/>
<rect x="616.8" y="410.1" width="2.65" height="2.65" fill="#fffb00"/>
<rect x="616.8" y="412.6" width="2.65" height="2.65" fill="#f3ff0c"/>
<rect x="616.8" y="415.1" width="2.65" height="2.65" fill="#ecff13"/>
<rect x="616.8" y="417.6" width="2.65" height="2.65" fill="#d2ff2d"/>
<rect x="616.8" y="420.1" width="2.65" height="2.65" fill="#acff53"/>
<rect x="616.8" y="422.6" width="2.65" height="2.65" fill="#8aff75"/>
<rect x="616.8" y="425.1" width="2.65" height="2.65" fill="#6cff93"/>
<rect x="616.8" y="427.6" width="2.65" height="2.65" fill="#54ffab"/>
<rect x="616.8" y="430.1" width="2.65" height="2.65" fill="#4effb1"/>
<rect x="616.8" y="432.6" width="2.65" height="2.65" fill="#4fffb0"/>
<rect x="616.8" y="435.1" width="2.65" height="2.65" fill="#4dffb2"/>
<rect x="616.8" y="437.6" width="2.65" height="2.65" fill="#4affb5"/>
<rect x="616.8" y="440.1" width="2.65" height="2.65" fill="#45ffba"/>
<rect x="616.8" y="442.6" width="2.65" height="2.65" fill="#3effc1"/>
<rect x="616.8" y="445.1" width="2.65" height="2.65" fill="#37ffc8"/>
<rect x="616.8" y="447.6" width="2.65" height="2.65" fill="#31ffce"/>
<rect x="616.8" y="450.1" width="2.65" height="2.65" fill="#30ffcf"/>
<rect x="619.2" y="390.1" width="2.65" height="2.65" fill="#94ff6b"/>
<rect x="619.2" y="392.6" width="2.65" height="2.65" fill="#78ff87"/>
<rect x="619.2" y="395.1" width="2.65" height="2.65" fill="#6fff90"/>
<rect x="619.2" y="397.6" width="2.65" height="2.65" fill="#99ff66"/>
<rect x="619.2" y="400.1" width="2.65" height="2.65" fill="#ccff33"/>
<rect x="619.2" y="402.6" width="2.65" height="2.65" fill="#eaff15"/>
<rect x="619.2" y="405.1" width="2.65" height="2.65" fill="#f7ff08"/>
<rect x="619.2" y="407.6" width="2.65" height="2.65" fill="#f9ff06"/>
<rect x="619.2" y="410.1" width="2.65" height="2.65" fill="#f3ff0c"/>
<rect x="619.2" y="412.6" width="2.65" height="2.65" fill="#edff12"/>
<rect x="619.2" y="415.1" width="2.65" height="2.65" fill="#f3ff0c"/>
<rect x="619.2" y="417.6" width="2.65" height="2.65" fill="#ccff33"/>
<rect x="619.2" y="420.1" width="2.65" height="2.65" fill="#9eff61"/>
<rect x="619.2" y="422.6" width="2.65" height="2.65" fill="#7eff81"/>
<rect x="619.2" y="425.1" width="2.65" height="2.65" fill="#5dffa2"/>
<rect x="619.2" y="427.6" width="2.65" height="2.65" fill="#3fffc0"/>
<rect x="619.2" y="430.1" width="2.65" height="2.65" fill="#3fffc0"/>
<rect x="619.2" y="432.6" width="2.65" height="2.65" fill="#4bffb4"/>
<rect x="619.2" y="435.1" width="2.65" height="2.65" fill="#4dffb2"/>
<rect x="619.2" y="437.6" width="2.65" height="2.65" fill="#48ffb7"/>
<rect x="619.2" y="440.1" width="2.65" height="2.65" fill="#3fffc0"/>
<rect x="619.2" y="442.6" width="2.65" height="2.65" fill="#37ffc8"/>
<rect x="619.2" y="445.1" width="2.65" height="2.65" fill="#33ffcc"/>
<rect x="619.2" y="447.6" width="2.65" height="2.65" fill="#32ffcd"/>
<rect x="619.2" y="450.1" width="2.65" height="2.65" fill="#34ffcb"/>
<rect x="621.8" y="390.1" width="2.65" height="2.65" fill="#7dff82"/>
<rect x="621.8" y="392.6" width="2.65" height="2.65" fill="#58ffa7"/>
<rect x="621.8" y="395.1" width="2.65" height="2.65" fill="#48ffb7"/>
<rect x="621.8" y="397.6" width="2.65" height="2.65" fill="#6fff90"/>
<rect x="621.8" y="400.1" width="2.65" height="2.65" fill="#a1ff5e"/>
<rect x="621.8" y="402.6" width="2.65" height="2.65" fill="#c5ff3a"/>
<rect x="621.8" y="405.1" width="2.65" height="2.65" fill="#ddff22"/>
<rect x="621.8" y="407.6" width="2.65" height="2.65" fill="#e6ff19"/>
<rect x="621.8" y="410.1" width="2.65" height="2.65" fill="#deff21"/>
<rect x="621.8" y="412.6" width="2.65" height="2.65" fill="#d2ff2d"/>
<rect x="621.8" y="415.1" width="2.65" height="2.65" fill="#c4ff3b"/>
<rect x="621.8" y="417.6" width="2.65" height="2.65" fill="#94ff6b"/>
<rect x="621.8" y="420.1" width="2.65" height="2.65" fill="#75ff8a"/>
<rect x="621.8" y="422.6" width="2.65" height="2.65" fill="#6bff94"/>
<rect x="621.8" y="425.1" width="2.65" height="2.65" fill="#5affa5"/>
<rect x="621.8" y="427.6" width="2.65" height="2.65" fill="#45ffba"/>
<rect x="621.8" y="430.1" width="2.65" height="2.65" fill="#43ffbc"/>
<rect x="621.8" y="432.6" width="2.65" height="2.65" fill="#4affb5"/>
<rect x="621.8" y="435.1" width="2.65" height="2.65" fill="#49ffb6"/>
<rect x="621.8" y="437.6" width="2.65" height="2.65" fill="#40ffbf"/>
<rect x="621.8" y="440.1" width="2.65" height="2.65" fill="#32ffcd"/>
<rect x="621.8" y="442.6" width="2.65" height="2.65" fill="#25ffda"/>
<rect x="621.8" y="445.1" width="2.65" height="2.65" fill="#22ffdd"/>
<rect x="621.8" y="447.6" width="2.65" height="2.65" fill="#28ffd7"/>
<rect x="621.8" y="450.1" width="2.65" height="2.65" fill="#30ffcf"/>
<rect x="624.2" y="392.6" width="2.65" height="2.65" fill="#61ff9e"/>
<rect x="624.2" y="395.1" width="2.65" height="2.65" fill="#57ffa8"/>
<rect x="624.2" y="397.6" width="2.65" height="2.65" fill="#62ff9d"/>
<rect x="624.2" y="400.1" width="2.65" height="2.65" fill="#77ff88"/>
<rect x="624.2" y="402.6" width="2.65" height="2.65" fill="#99ff66"/>
<rect x="624.2" y="405.1" width="2.65" height="2.65" fill="#b5ff4a"/>
<rect x="624.2" y="407.6" width="2.65" height="2.65" fill="#c1ff3e"/>
<rect x="624.2" y="410.1" width="2.65" height="2.65" fill="#bcff43"/>
<rect x="624.2" y="412.6" width="2.65" height="2.65" fill="#a9ff56"/>
<rect x="624.2" y="415.1" width="2.65" height="2.65" fill="#7eff81"/>
<rect x="624.2" y="417.6" width="2.65" height="2.65" fill="#3dffc2"/>
<rect x="624.2" y="420.1" width="2.65" height="2.65" fill="#39ffc6"/>
<rect x="624.2" y="422.6" width="2.65" height="2.65" fill="#54ffab"/>
<rect x="624.2" y="425.1" width="2.65" height="2.65" fill="#58ffa7"/>
<rect x="624.2" y="427.6" width="2.65" height="2.65" fill="#50ffaf"/>
<rect x="624.2" y="430.1" width="2.65" height="2.65" fill="#4bffb4"/>
<rect x="624.2" y="432.6" width="2.65" height="2.65" fill="#48ffb7"/>
<rect x="624.2" y="435.1" width="2.65" height="2.65" fill="#42ffbd"/>
<rect x="624.2" y="437.6" width="2.65" height="2.65" fill="#35ffca"/>
<rect x="624.2" y="440.1" width="2.65" height="2.65" fill="#1fffe0"/>
<rect x="624.2" y="442.6" width="2.65" height="2.65" fill="#0bfff4"/>
<rect x="624.2" y="445.1" width="2.65" height="2.65" fill="#0bfff4"/>
<rect x="624.2" y="447.6" width="2.65" height="2.65" fill="#19ffe6"/>
<rect x="626.8" y="392.6" width="2.65" height="2.65" fill="#67ff98"/>
<rect x="626.8" y="395.1" width="2.65" height="2.65" fill="#53ffac"/>
<rect x="626.8" y="397.6" width="2.65" height="2.65" fill="#38ffc7"/>
<rect x="626.8" y="400.1" width="2.65" height="2.65" fill="#3effc1"/>
<rect x="626.8" y="402.6" width="2.65" height="2.65" fill="#6bff94"/>
<rect x="626.8" y="405.1" width="2.65" height="2.65" fill="#8eff71"/>
<rect x="626.8" y="407.6" width="2.65" height="2.65" fill="#9bff64"/>
<rect x="626.8" y="410.1" width="2.65" height="2.65" fill="#98ff67"/>
<rect x="626.8" y="412.6" width="2.65" height="2.65" fill="#86ff79"/>
<rect x="626.8" y="415.1" width="2.65" height="2.65" fill="#5effa1"/>
<rect x="626.8" y="417.6" width="2.65" height="2.65" fill="#2bffd4"/>
<rect x="626.8" y="420.1" width="2.65" height="2.65" fill="#2cffd3"/>
<rect x="626.8" y="422.6" width="2.65" height="2.65" fill="#48ffb7"/>
<rect x="626.8" y="425.1" width="2.65" height="2.65" fill="#52ffad"/>
<rect x="626.8" y="427.6" width="2.65" height="2.65" fill="#4effb1"/>
<rect x="626.8" y="430.1" width="2.65" height="2.65" fill="#46ffb9"/>
<rect x="626.8" y="432.6" width="2.65" height="2.65" fill="#3fffc0"/>
<rect x="626.8" y="435.1" width="2.65" height="2.65" fill="#38ffc7"/>
<rect x="626.8" y="437.6" width="2.65" height="2.65" fill="#2bffd4"/>
<rect x="626.8" y="440.1" width="2.65" height="2.65" fill="#14ffeb"/>
<rect x="626.8" y="442.6" width="2.65" height="2.65" fill="#00feff"/>
<rect x="626.8" y="445.1" width="2.65" height="2.65" fill="#00ffff"/>
<rect x="626.8" y="447.6" width="2.65" height="2.65" fill="#11ffee"/>
<rect x="629.2" y="395.1" width="2.65" height="2.65" fill="#46ffb9"/>
<rect x="629.2" y="397.6" width="2.65" height="2.65" fill="#24ffdb"/>
<rect x="629.2" y="400.1" width="2.65" height="2.65" fill="#28ffd7"/>
<rect x="629.2" y="402.6" width="2.65" height="2.65" fill="#52ffad"/>
<rect x="629.2" y="405.1" width="2.65" height="2.65" fill="#70ff8f"/>
<rect x="629.2" y="407.6" width="2.65" height="2.65" fill="#77ff88"/>
<rect x="629.2" y="410.1" width="2.65" height="2.65" fill="#76ff89"/>
<rect x="629.2" y="412.6" width="2.65" height="2.65" fill="#6eff91"/>
<rect x="629.2" y="415.1" width="2.65" height="2.65" fill="#5affa5"/>
<rect x="629.2" y="417.6" width="2.65" height="2.65" fill="#44ffbb"/>
<rect x="629.2" y="420.1" width="2.65" height="2.65" fill="#40ffbf"/>
<rect x="629.2" y="422.6" width="2.65" height="2.65" fill="#48ffb7"/>
<rect x="629.2" y="425.1" width="2.65" height="2.65" fill="#49ffb6"/>
<rect x="629.2" y="427.6" width="2.65" height="2.65" fill="#41ffbe"/>
<rect x="629.2" y="430.1" width="2.65" height="2.65" fill="#34ffcb"/>
<rect x="629.2" y="432.6" width="2.65" height="2.65" fill="#2affd5"/>
<rect x="629.2" y="435.1" width="2.65" height="2.65" fill="#28ffd7"/>
<rect x="629.2" y="437.6" width="2.65" height="2.65" fill="#25ffda"/>
<rect x="629.2" y="440.1" width="2.65" height="2.65" fill="#18ffe7"/>
<rect x="629.2" y="442.6" width="2.65" height="2.65" fill="#08fff7"/>
<rect x="629.2" y="445.1" width="2.65" height="2.65" fill="#08fff7"/>
<rect x="631.8" y="397.6" width="2.65" height="2.65" fill="#3affc5"/>
<rect x="631.8" y="400.1" width="2.65" height="2.65" fill="#3dffc2"/>
<rect x="631.8" y="402.6" width="2.65" height="2.65" fill="#50ffaf"/>
<rect x="631.8" y="405.1" width="2.65" height="2.65" fill="#56ffa9"/>
<rect x="631.8" y="407.6" width="2.65" height="2.65" fill="#50ffaf"/>
<rect x="631.8" y="410.1" width="2.65" height="2.65" fill="#4fffb0"/>
<rect x="631.8" y="412.6" width="2.65" height="2.65" fill="#53ffac"/>
<rect x="631.8" y="415.1" width="2.65" height="2.65" fill="#4fffb0"/>
<rect x="631.8" y="417.6" width="2.65" height="2.65" fill="#46ffb9"/>
<rect x="631.8" y="420.1" width="2.65" height="2.65" fill="#41ffbe"/>
<rect x="631.8" y="422.6" width="2.65" height="2.65" fill="#40ffbf"/>
<rect x="631.8" y="425.1" width="2.65" height="2.65" fill="#3dffc2"/>
<rect x="631.8" y="427.6" width="2.65" height="2.65" fill="#30ffcf"/>
<rect x="631.8" y="430.1" width="2.65" height="2.65" fill="#18ffe7"/>
<rect x="631.8" y="432.6" width="2.65" height="2.65" fill="#09fff6"/>
<rect x="631.8" y="435.1" width="2.65" height="2.65" fill="#10ffef"/>
<rect x="631.8" y="437.6" width="2.65" height="2.65" fill="#1dffe2"/>
<rect x="631.8" y="440.1" width="2.65" height="2.65" fill="#1fffe0"/>
<rect x="631.8" y="442.6" width="2.65" height="2.65" fill="#1affe5"/>
<rect x="634.2" y="400.1" width="2.65" height="2.65" fill="#50ffaf"/>
<rect x="634.2" y="402.6" width="2.65" height="2.65" fill="#4dffb2"/>
<rect x="634.2" y="405.1" width="2.65" height="2.65" fill="#3affc5"/>
<rect x="634.2" y="407.6" width="2.65" height="2.65" fill="#22ffdd"/>
<rect x="634.2" y="410.1" width="2.65" height="2.65" fill="#23ffdc"/>
<rect x="634.2" y="412.6" width="2.65" height="2.65" fill="#36ffc9"/>
<rect x="634.2" y="415.1" width="2.65" height="2.65" fill="#3affc5"/>
<rect x="634.2" y="417.6" width="2.65" height="2.65" fill="#2effd1"/>
<rect x="634.2" y="420.1" width="2.65" height="2.65" fill="#26ffd9"/>
<rect x="634.2" y="422.6" width="2.65" height="2.65" fill="#2bffd4"/>
<rect x="634.2" y="425.1" width="2.65" height="2.65" fill="#2fffd0"/>
<rect x="634.2" y="427.6" width="2.65" height="2.65" fill="#21ffde"/>
<rect x="634.2" y="430.1" width="2.65" height="2.65" fill="#04fffb"/>
<rect x="634.2" y="432.6" width="2.65" height="2.65" fill="#00f2ff"/>
<rect x="634.2" y="435.1" width="2.65" height="2.65" fill="#00feff"/>
<rect x="634.2" y="437.6" width="2.65" height="2.65" fill="#16ffe9"/>
<rect x="634.2" y="440.1" width="2.65" height="2.65" fill="#22ffdd"/>
<rect x="636.8" y="402.6" width="2.65" height="2.65" fill="#46ffb9"/>
<rect x="636.8" y="405.1" width="2.65" height="2.65" fill="#29ffd6"/>
<rect x="636.8" y="407.6" width="2.65" height="2.65" fill="#0bfff4"/>
<rect x="636.8" y="410.1" width="2.65" height="2.65" fill="#0dfff2"/>
<rect x="636.8" y="412.6" width="2.65" height="2.65" fill="#25ffda"/>
<rect x="636.8" y="415.1" width="2.65" height="2.65" fill="#26ffd9"/>
<rect x="636.8" y="417.6" width="2.65" height="2.65" fill="#0cfff3"/>
<rect x="636.8" y="420.1" width="2.65" height="2.65" fill="#00ffff"/>
<rect x="636.8" y="422.6" width="2.65" height="2.65" fill="#11ffee"/>
<rect x="636.8" y="425.1" width="2.65" height="2.65" fill="#22ffdd"/>
<rect x="636.8" y="427.6" width="2.65" height="2.65" fill="#1effe1"/>
<rect x="636.8" y="430.1" width="2.65" height="2.65" fill="#08fff7"/>
<rect x="636.8" y="432.6" width="2.65" height="2.65" fill="#00faff"/>
<rect x="636.8" y="435.1" width="2.65" height="2.65" fill="#04fffb"/>
<rect x="636.8" y="437.6" width="2.65" height="2.65" fill="#17ffe8"/>
<rect x="639.2" y="407.6" width="2.65" height="2.65" fill="#19ffe6"/>
<rect x="639.2" y="410.1" width="2.65" height="2.65" fill="#19ffe6"/>
<rect x="639.2" y="412.6" width="2.65" height="2.65" fill="#26ffd9"/>
<rect x="639.2" y="415.1" width="2.65" height="2.65" fill="#1dffe2"/>
<rect x="639.2" y="417.6" width="2.65" height="2.65" fill="#00ffff"/>
<rect x="639.2" y="420.1" width="2.65" height="2.65" fill="#00f3ff"/>
<rect x="639.2" y="422.6" width="2.65" height="2.65" fill="#07fff8"/>
<rect x="639.2" y="425.1" width="2.65" height="2.65" fill="#1dffe2"/>
<rect x="639.2" y="427.6" width="2.65" height="2.65" fill="#22ffdd"/>
<rect x="639.2" y="430.1" width="2.65" height="2.65" fill="#19ffe6"/>
<rect x="639.2" y="432.6" width="2.65" height="2.65" fill="#11ffee"/>
<rect x="641.8" y="415.1" width="2.65" height="2.65" fill="#23ffdc"/>
<rect x="641.8" y="417.6" width="2.65" height="2.65" fill="#0ffff0"/>
<rect x="641.8" y="420.1" width="2.65" height="2.65" fill="#06fff9"/>
<rect x="641.8" y="422.6" width="2.65" height="2.65" fill="#12ffed"/>
<rect x="641.8" y="425.1" width="2.65" height="2.65" fill="#22ffdd"/>
</g></g>
<circle cx="610.65" cy="421.35" r="21.65" fill="none" stroke="#111" stroke-width="1.05"/>
<path d="M606.8,400.1 L609.0,397.1 Q610.6,396.0 612.2,397.1 L614.5,400.1" fill="none" stroke="#111" stroke-width="1.0"/>
<path d="M589.3,415.8 L587.2,416.8 Q586.6,421.4 587.2,426.2 L589.6,427.4" fill="none" stroke="#111" stroke-width="0.95"/>
<path d="M632.0,415.8 L634.1,416.8 Q634.7,421.4 634.1,426.2 L631.7,427.4" fill="none" stroke="#111" stroke-width="0.95"/>
<rect x="654.0" y="128.4" width="5.7" height="57.2" fill="url(#jet)"/>
<g font-family='"Liberation Sans", sans-serif' font-size="13" class="t"><text x="662.4" y="131.7">1.5</text><text x="660.8" y="186.0">-1.5</text></g>
<rect x="654.6" y="393.2" width="5.7" height="57.7" fill="url(#jet)"/>
<g font-family='"Liberation Sans", sans-serif' font-size="13" class="t"><text x="663.0" y="396.5">1.5</text><text x="661.4" y="451.3">-1.5</text></g>
</svg>
</body></html>
